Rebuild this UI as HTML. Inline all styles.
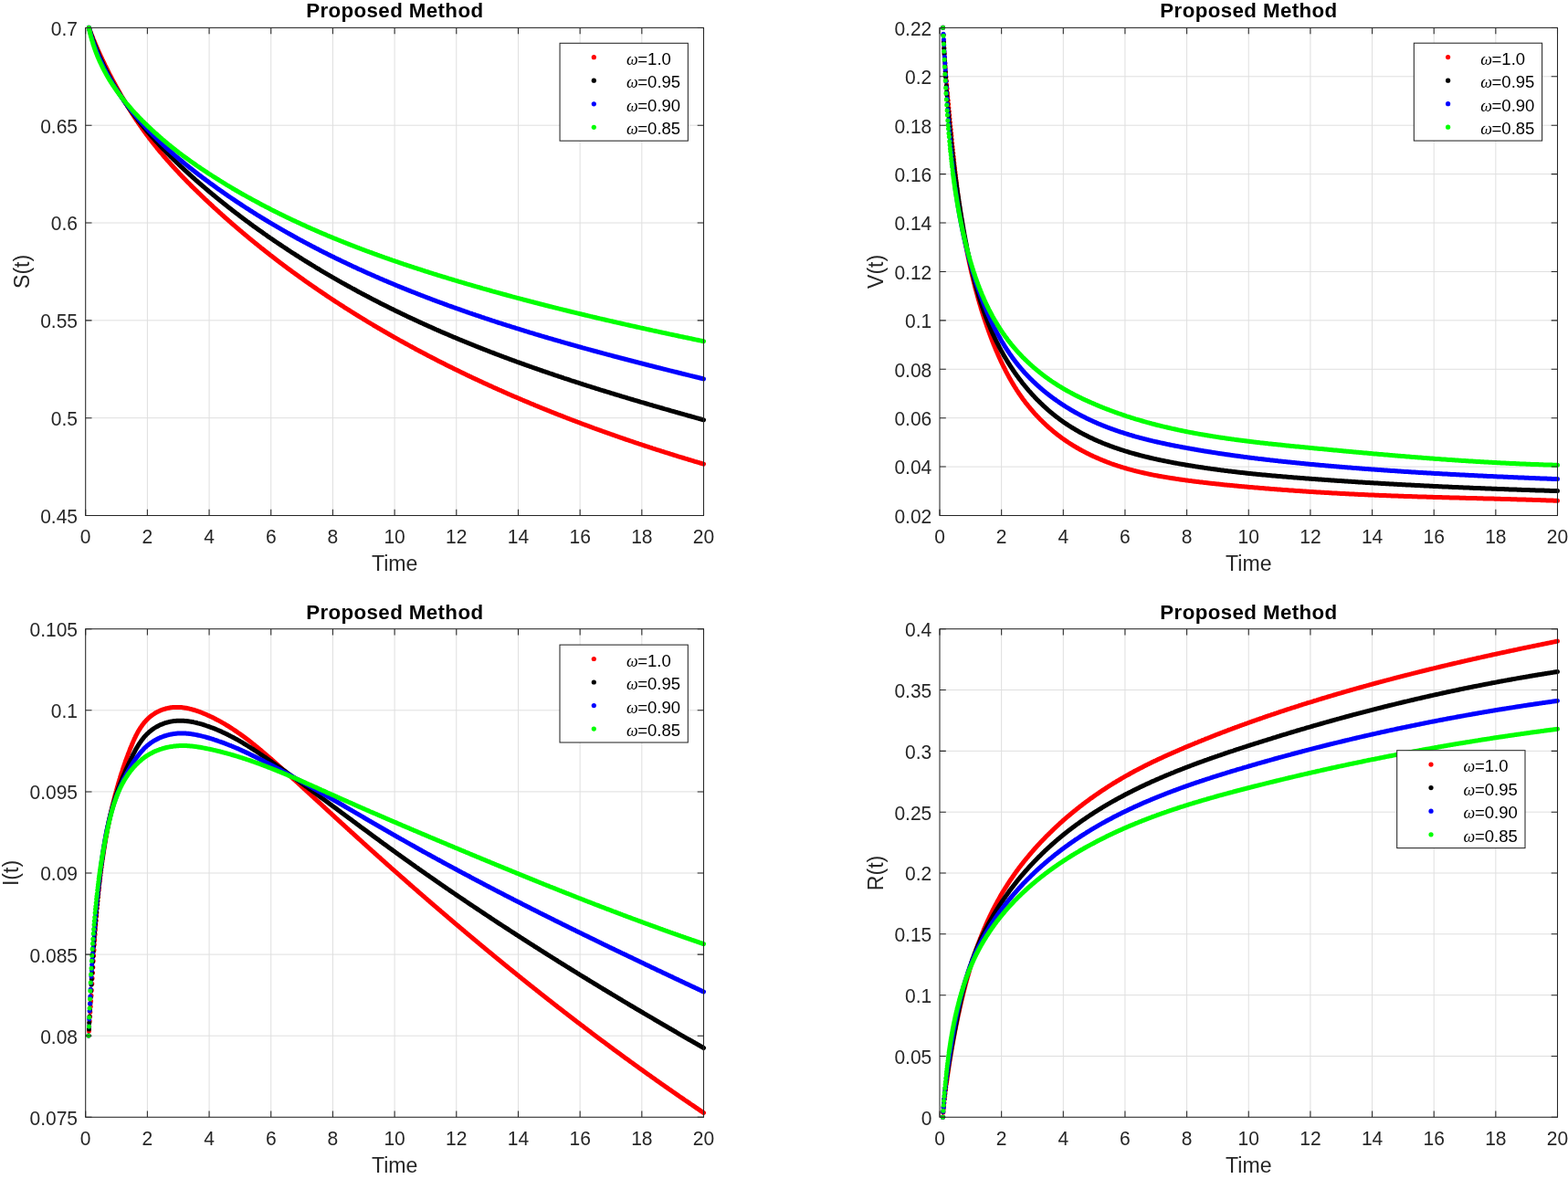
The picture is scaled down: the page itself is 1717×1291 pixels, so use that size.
<!DOCTYPE html>
<html><head><meta charset="utf-8"><title>Proposed Method</title><style>html,body{margin:0;padding:0;background:#fff;width:1717px;height:1291px}svg{display:block}</style></head><body>
<svg width="1717" height="1291" viewBox="0 0 1717 1291" font-family="'Liberation Sans', sans-serif">
<rect width="1717" height="1291" fill="#fff"/>
<path d="M161.38 30.40V564.50M229.06 30.40V564.50M296.74 30.40V564.50M364.42 30.40V564.50M432.10 30.40V564.50M499.78 30.40V564.50M567.46 30.40V564.50M635.14 30.40V564.50M702.82 30.40V564.50M93.70 457.68H770.50M93.70 350.86H770.50M93.70 244.04H770.50M93.70 137.22H770.50" stroke="#dfdfdf" stroke-width="1" fill="none"/>
<clipPath id="clipS"><rect x="89.7" y="26.4" width="684.8" height="542.1"/></clipPath>
<g clip-path="url(#clipS)" fill="none" stroke-width="5.0" stroke-linecap="round" stroke-linejoin="round">
<path d="M97.4 30.3L97.7 31.2 98.1 32.2 98.4 33.1 98.8 34.0 99.1 35.0 99.5 35.9 99.8 36.9 100.2 37.8 100.6 38.7 100.9 39.6 101.3 40.6 101.7 41.5 102.0 42.4 102.4 43.4 102.8 44.3 103.2 45.2 103.6 46.1 103.9 47.1 104.3 48.0 104.7 48.9 105.1 49.8 105.5 50.7 105.9 51.7 106.3 52.6 106.7 53.5 107.1 54.4 107.5 55.3 107.9 56.2 108.3 57.1 108.7 58.1 109.1 59.0 109.6 59.9 110.0 60.8 110.4 61.7 110.8 62.6 111.2 63.5 111.7 64.4 112.1 65.3 112.5 66.2 113.0 67.1 113.4 68.0 113.8 68.9 114.3 69.8 114.7 70.7 115.1 71.6 115.6 72.5 116.0 73.4 116.5 74.3 116.9 75.2 117.4 76.1 117.8 77.0 118.3 77.9 118.7 78.8 119.2 79.7 119.6 80.6 120.1 81.5 120.5 82.4 121.0 83.2 121.5 84.1 121.9 85.0 122.4 85.9 122.9 86.8 123.3 87.7 123.8 88.5 124.3 89.4 124.8 90.3 125.2 91.2 125.7 92.1 126.2 92.9 126.7 93.8 127.1 94.7 127.6 95.6 128.1 96.4 128.6 97.3 129.1 98.2 129.6 99.1 130.1 99.9 130.6 100.8 131.1 101.7 131.5 102.5 132.0 103.4 132.5 104.3 133.0 105.1 133.5 106.0 134.0 106.9 134.5 107.7 135.1 108.6 135.6 109.4 136.1 110.3 136.6 111.2 137.1 112.0 137.6 112.9 138.1 113.7 138.6 114.6 139.2 115.4 139.7 116.3 140.2 117.1 140.7 118.0 141.2 118.8 141.8 119.7 142.3 120.5 142.8 121.4 143.4 122.2 143.9 123.0 144.4 123.9 145.0 124.7 145.5 125.6 146.1 126.4 146.6 127.2 147.1 128.1 147.7 128.9 148.2 129.7 148.8 130.6 149.3 131.4 149.9 132.2 150.5 133.0 151.0 133.9 151.6 134.7 152.1 135.5 152.7 136.3 153.3 137.2 153.8 138.0 154.4 138.8 155.0 139.6 155.5 140.4 156.1 141.2 156.7 142.0 157.3 142.9 157.9 143.7 158.4 144.5 159.0 145.3 159.6 146.1 160.2 146.9 160.8 147.7 161.4 148.5 162.0 149.3 162.6 150.1 163.2 150.9 163.8 151.7 164.4 152.5 165.0 153.3 165.6 154.1 166.2 154.8 166.8 155.6 167.5 156.4 168.1 157.2 168.7 158.0 169.3 158.8 169.9 159.6 170.6 160.3 171.2 161.1 171.8 161.9 172.4 162.7 173.1 163.4 173.7 164.2 174.3 165.0 175.0 165.8 175.6 166.5 176.3 167.3 176.9 168.1 177.6 168.8 178.2 169.6 178.8 170.4 179.5 171.1 180.1 171.9 180.8 172.6 181.5 173.4 182.1 174.2 182.8 174.9 183.4 175.7 184.1 176.4 184.8 177.2 185.4 177.9 186.1 178.7 186.7 179.4 187.4 180.2 188.1 180.9 188.8 181.7 189.4 182.4 190.1 183.1 190.8 183.9 191.5 184.6 192.1 185.4 192.8 186.1 193.5 186.8 194.2 187.6 194.9 188.3 195.6 189.0 196.2 189.8 196.9 190.5 197.6 191.2 198.3 191.9 199.0 192.7 199.7 193.4 200.4 194.1 201.1 194.9 201.8 195.6 202.5 196.3 203.2 197.0 203.9 197.7 204.6 198.5 205.3 199.2 206.0 199.9 206.7 200.6 207.4 201.3 208.1 202.0 208.8 202.7 209.5 203.5 210.3 204.2 211.0 204.9 211.7 205.6 212.4 206.3 213.1 207.0 213.8 207.7 214.6 208.4 215.3 209.1 216.0 209.8 216.7 210.5 217.4 211.2 218.2 211.9 218.9 212.6 219.6 213.3 220.3 214.0 221.0 214.7 221.8 215.4 222.5 216.1 223.2 216.8 224.0 217.5 224.7 218.2 225.4 218.9 226.1 219.5 226.9 220.2 227.6 220.9 228.3 221.6 229.1 222.3 229.8 223.0 230.6 223.7 231.3 224.3 232.0 225.0 232.8 225.7 233.5 226.4 234.2 227.1 235.0 227.8 235.7 228.4 236.5 229.1 237.2 229.8 237.9 230.5 238.7 231.1 239.4 231.8 240.2 232.5 240.9 233.2 241.7 233.8 242.4 234.5 243.1 235.2 243.9 235.8 244.6 236.5 245.4 237.2 246.1 237.8 246.9 238.5 247.6 239.2 248.4 239.8 249.1 240.5 249.9 241.2 250.6 241.8 251.4 242.5 252.2 243.1 252.9 243.8 253.7 244.5 254.4 245.1 255.2 245.8 255.9 246.4 256.7 247.1 257.4 247.7 258.2 248.4 259.0 249.0 259.7 249.7 260.5 250.3 261.2 251.0 262.0 251.6 262.8 252.3 263.5 252.9 264.3 253.6 265.1 254.2 265.8 254.9 266.6 255.5 267.4 256.2 268.1 256.8 268.9 257.4 269.7 258.1 270.4 258.7 271.2 259.4 272.0 260.0 272.7 260.6 273.5 261.3 274.3 261.9 275.1 262.5 275.8 263.2 276.6 263.8 277.4 264.4 278.2 265.1 278.9 265.7 279.7 266.3 280.5 267.0 281.3 267.6 282.0 268.2 282.8 268.9 283.6 269.5 284.4 270.1 285.1 270.7 285.9 271.4 286.7 272.0 287.5 272.6 288.3 273.2 289.1 273.8 289.8 274.5 290.6 275.1 291.4 275.7 292.2 276.3 293.0 276.9 293.8 277.5 294.6 278.2 295.3 278.8 296.1 279.4 296.9 280.0 297.7 280.6 298.5 281.2 299.3 281.8 300.1 282.4 300.9 283.1 301.7 283.7 302.5 284.3 303.3 284.9 304.0 285.5 304.8 286.1 305.6 286.7 306.4 287.3 307.2 287.9 308.0 288.5 308.8 289.1 309.6 289.7 310.4 290.3 311.2 290.9 312.0 291.5 312.8 292.1 313.6 292.7 314.4 293.3 315.2 293.9 316.0 294.5 316.8 295.1 317.6 295.7 318.4 296.2 319.2 296.8 320.0 297.4 320.8 298.0 321.7 298.6 322.5 299.2 323.3 299.8 324.1 300.4 324.9 300.9 325.7 301.5 326.5 302.1 327.3 302.7 328.1 303.3 328.9 303.9 329.7 304.4 330.6 305.0 331.4 305.6 332.2 306.2 333.0 306.8 333.8 307.3 334.6 307.9 335.4 308.5 336.3 309.1 337.1 309.6 337.9 310.2 338.7 310.8 339.5 311.3 340.3 311.9 341.2 312.5 342.0 313.1 342.8 313.6 343.6 314.2 344.4 314.8 345.3 315.3 346.1 315.9 346.9 316.4 347.7 317.0 348.6 317.6 349.4 318.1 350.2 318.7 351.0 319.3 351.9 319.8 352.7 320.4 353.5 320.9 354.3 321.5 355.2 322.0 356.0 322.6 356.8 323.2 357.7 323.7 358.5 324.3 359.3 324.8 360.1 325.4 361.0 325.9 361.8 326.5 362.6 327.0 363.5 327.6 364.3 328.1 365.1 328.7 366.0 329.2 366.8 329.8 367.6 330.3 368.5 330.9 369.3 331.4 370.2 331.9 371.0 332.5 371.8 333.0 372.7 333.6 373.5 334.1 374.3 334.6 375.2 335.2 376.0 335.7 376.9 336.3 377.7 336.8 378.5 337.3 379.4 337.9 380.2 338.4 381.1 338.9 381.9 339.5 382.8 340.0 383.6 340.5 384.4 341.1 385.3 341.6 386.1 342.1 387.0 342.7 387.8 343.2 388.7 343.7 389.5 344.2 390.4 344.8 391.2 345.3 392.1 345.8 392.9 346.3 393.8 346.9 394.6 347.4 395.5 347.9 396.3 348.4 397.2 348.9 398.0 349.5 398.9 350.0 399.7 350.5 400.6 351.0 401.4 351.5 402.3 352.1 403.1 352.6 404.0 353.1 404.9 353.6 405.7 354.1 406.6 354.6 407.4 355.1 408.3 355.6 409.1 356.2 410.0 356.7 410.9 357.2 411.7 357.7 412.6 358.2 413.4 358.7 414.3 359.2 415.2 359.7 416.0 360.2 416.9 360.7 417.7 361.2 418.6 361.7 419.5 362.2 420.3 362.7 421.2 363.2 422.1 363.7 422.9 364.2 423.8 364.7 424.7 365.2 425.5 365.7 426.4 366.2 427.3 366.7 428.1 367.2 429.0 367.7 429.9 368.2 430.7 368.7 431.6 369.2 432.5 369.7 433.3 370.1 434.2 370.6 435.1 371.1 436.0 371.6 436.8 372.1 437.7 372.6 438.6 373.1 439.4 373.6 440.3 374.0 441.2 374.5 442.1 375.0 442.9 375.5 443.8 376.0 444.7 376.5 445.6 376.9 446.4 377.4 447.3 377.9 448.2 378.4 449.1 378.9 449.9 379.3 450.8 379.8 451.7 380.3 452.6 380.8 453.5 381.2 454.3 381.7 455.2 382.2 456.1 382.7 457.0 383.1 457.9 383.6 458.7 384.1 459.6 384.5 460.5 385.0 461.4 385.5 462.3 385.9 463.2 386.4 464.0 386.9 464.9 387.3 465.8 387.8 466.7 388.3 467.6 388.7 468.5 389.2 469.4 389.7 470.2 390.1 471.1 390.6 472.0 391.0 472.9 391.5 473.8 392.0 474.7 392.4 475.6 392.9 476.5 393.3 477.3 393.8 478.2 394.3 479.1 394.7 480.0 395.2 480.9 395.6 481.8 396.1 482.7 396.5 483.6 397.0 484.5 397.4 485.4 397.9 486.3 398.3 487.2 398.8 488.0 399.2 488.9 399.7 489.8 400.1 490.7 400.6 491.6 401.0 492.5 401.5 493.4 401.9 494.3 402.3 495.2 402.8 496.1 403.2 497.0 403.7 497.9 404.1 498.8 404.6 499.7 405.0 500.6 405.4 501.5 405.9 502.4 406.3 503.3 406.8 504.2 407.2 505.1 407.6 506.0 408.1 506.9 408.5 507.8 408.9 508.7 409.4 509.6 409.8 510.5 410.2 511.4 410.7 512.3 411.1 513.2 411.5 514.1 412.0 515.0 412.4 515.9 412.8 516.8 413.2 517.7 413.7 518.6 414.1 519.5 414.5 520.4 414.9 521.4 415.4 522.3 415.8 523.2 416.2 524.1 416.6 525.0 417.1 525.9 417.5 526.8 417.9 527.7 418.3 528.6 418.7 529.5 419.2 530.4 419.6 531.3 420.0 532.2 420.4 533.2 420.8 534.1 421.3 535.0 421.7 535.9 422.1 536.8 422.5 537.7 422.9 538.6 423.3 539.5 423.7 540.5 424.2 541.4 424.6 542.3 425.0 543.2 425.4 544.1 425.8 545.0 426.2 545.9 426.6 546.8 427.0 547.8 427.4 548.7 427.8 549.6 428.2 550.5 428.6 551.4 429.0 552.3 429.5 553.3 429.9 554.2 430.3 555.1 430.7 556.0 431.1 556.9 431.5 557.8 431.9 558.8 432.3 559.7 432.7 560.6 433.1 561.5 433.5 562.4 433.9 563.4 434.3 564.3 434.6 565.2 435.0 566.1 435.4 567.0 435.8 568.0 436.2 568.9 436.6 569.8 437.0 570.7 437.4 571.6 437.8 572.6 438.2 573.5 438.6 574.4 439.0 575.3 439.4 576.3 439.7 577.2 440.1 578.1 440.5 579.0 440.9 580.0 441.3 580.9 441.7 581.8 442.1 582.7 442.4 583.7 442.8 584.6 443.2 585.5 443.6 586.4 444.0 587.4 444.4 588.3 444.7 589.2 445.1 590.1 445.5 591.1 445.9 592.0 446.3 592.9 446.6 593.8 447.0 594.8 447.4 595.7 447.8 596.6 448.1 597.6 448.5 598.5 448.9 599.4 449.3 600.4 449.6 601.3 450.0 602.2 450.4 603.1 450.8 604.1 451.1 605.0 451.5 605.9 451.9 606.9 452.2 607.8 452.6 608.7 453.0 609.7 453.3 610.6 453.7 611.5 454.1 612.5 454.4 613.4 454.8 614.3 455.2 615.3 455.5 616.2 455.9 617.1 456.3 618.1 456.6 619.0 457.0 619.9 457.3 620.9 457.7 621.8 458.1 622.7 458.4 623.7 458.8 624.6 459.1 625.5 459.5 626.5 459.9 627.4 460.2 628.3 460.6 629.3 460.9 630.2 461.3 631.2 461.6 632.1 462.0 633.0 462.3 634.0 462.7 634.9 463.0 635.8 463.4 636.8 463.8 637.7 464.1 638.7 464.5 639.6 464.8 640.5 465.2 641.5 465.5 642.4 465.8 643.4 466.2 644.3 466.5 645.2 466.9 646.2 467.2 647.1 467.6 648.0 467.9 649.0 468.3 649.9 468.6 650.9 469.0 651.8 469.3 652.8 469.6 653.7 470.0 654.6 470.3 655.6 470.7 656.5 471.0 657.5 471.3 658.4 471.7 659.3 472.0 660.3 472.4 661.2 472.7 662.2 473.0 663.1 473.4 664.1 473.7 665.0 474.0 665.9 474.4 666.9 474.7 667.8 475.0 668.8 475.4 669.7 475.7 670.7 476.0 671.6 476.4 672.6 476.7 673.5 477.0 674.4 477.4 675.4 477.7 676.3 478.0 677.3 478.4 678.2 478.7 679.2 479.0 680.1 479.3 681.1 479.7 682.0 480.0 683.0 480.3 683.9 480.6 684.8 481.0 685.8 481.3 686.7 481.6 687.7 481.9 688.6 482.2 689.6 482.6 690.5 482.9 691.5 483.2 692.4 483.5 693.4 483.9 694.3 484.2 695.3 484.5 696.2 484.8 697.2 485.1 698.1 485.4 699.1 485.8 700.0 486.1 701.0 486.4 701.9 486.7 702.9 487.0 703.8 487.3 704.8 487.6 705.7 488.0 706.7 488.3 707.6 488.6 708.6 488.9 709.5 489.2 710.5 489.5 711.4 489.8 712.4 490.1 713.3 490.4 714.3 490.8 715.2 491.1 716.2 491.4 717.1 491.7 718.1 492.0 719.0 492.3 720.0 492.6 720.9 492.9 721.9 493.2 722.8 493.5 723.8 493.8 724.7 494.1 725.7 494.4 726.6 494.7 727.6 495.0 728.5 495.3 729.5 495.6 730.4 495.9 731.4 496.2 732.3 496.5 733.3 496.8 734.2 497.1 735.2 497.4 736.1 497.7 737.1 498.0 738.1 498.3 739.0 498.6 740.0 498.9 740.9 499.2 741.9 499.5 742.8 499.8 743.8 500.1 744.7 500.4 745.7 500.7 746.6 501.0 747.6 501.2 748.5 501.5 749.5 501.8 750.4 502.1 751.4 502.4 752.4 502.7 753.3 503.0 754.3 503.3 755.2 503.6 756.2 503.8 757.1 504.1 758.1 504.4 759.0 504.7 760.0 505.0 760.9 505.3 761.9 505.6 762.9 505.8 763.8 506.1 764.8 506.4 765.7 506.7 766.7 507.0 767.6 507.3 768.6 507.5 769.5 507.8 770.5 508.1" stroke="#ff0000"/>
<path d="M97.4 30.3L97.7 31.3 98.0 32.2 98.3 33.2 98.6 34.1 98.9 35.1 99.2 36.0 99.5 37.0 99.8 38.0 100.2 38.9 100.5 39.9 100.8 40.8 101.1 41.8 101.5 42.7 101.8 43.6 102.2 44.6 102.5 45.5 102.8 46.5 103.2 47.4 103.5 48.4 103.9 49.3 104.3 50.2 104.6 51.2 105.0 52.1 105.4 53.0 105.7 54.0 106.1 54.9 106.5 55.8 106.9 56.7 107.3 57.7 107.6 58.6 108.0 59.5 108.4 60.4 108.8 61.4 109.2 62.3 109.6 63.2 110.0 64.1 110.5 65.0 110.9 65.9 111.3 66.8 111.7 67.8 112.1 68.7 112.6 69.6 113.0 70.5 113.4 71.4 113.8 72.3 114.3 73.2 114.7 74.1 115.2 75.0 115.6 75.9 116.1 76.8 116.5 77.6 117.0 78.5 117.4 79.4 117.9 80.3 118.4 81.2 118.8 82.1 119.3 83.0 119.8 83.8 120.2 84.7 120.7 85.6 121.2 86.5 121.7 87.3 122.2 88.2 122.6 89.1 123.1 89.9 123.6 90.8 124.1 91.7 124.6 92.5 125.1 93.4 125.6 94.3 126.1 95.1 126.7 96.0 127.2 96.8 127.7 97.7 128.2 98.5 128.7 99.4 129.2 100.2 129.8 101.1 130.3 101.9 130.8 102.7 131.4 103.6 131.9 104.4 132.4 105.3 133.0 106.1 133.5 106.9 134.1 107.7 134.6 108.6 135.2 109.4 135.7 110.2 136.3 111.1 136.8 111.9 137.4 112.7 137.9 113.5 138.5 114.3 139.1 115.1 139.6 116.0 140.2 116.8 140.8 117.6 141.4 118.4 141.9 119.2 142.5 120.0 143.1 120.8 143.7 121.6 144.3 122.4 144.9 123.2 145.5 124.0 146.1 124.8 146.7 125.6 147.3 126.4 147.9 127.2 148.5 128.0 149.1 128.7 149.7 129.5 150.3 130.3 150.9 131.1 151.5 131.9 152.1 132.7 152.7 133.4 153.4 134.2 154.0 135.0 154.6 135.8 155.2 136.5 155.9 137.3 156.5 138.1 157.1 138.8 157.8 139.6 158.4 140.4 159.0 141.1 159.7 141.9 160.3 142.7 161.0 143.4 161.6 144.2 162.3 144.9 162.9 145.7 163.6 146.4 164.2 147.2 164.9 147.9 165.5 148.7 166.2 149.4 166.8 150.2 167.5 150.9 168.2 151.7 168.8 152.4 169.5 153.2 170.2 153.9 170.8 154.6 171.5 155.4 172.2 156.1 172.9 156.8 173.5 157.6 174.2 158.3 174.9 159.0 175.6 159.8 176.3 160.5 176.9 161.2 177.6 161.9 178.3 162.7 179.0 163.4 179.7 164.1 180.4 164.8 181.1 165.5 181.8 166.2 182.5 167.0 183.2 167.7 183.9 168.4 184.6 169.1 185.3 169.8 186.0 170.5 186.7 171.2 187.4 171.9 188.1 172.6 188.8 173.3 189.5 174.0 190.3 174.7 191.0 175.4 191.7 176.1 192.4 176.8 193.1 177.5 193.8 178.2 194.6 178.9 195.3 179.6 196.0 180.3 196.7 181.0 197.5 181.7 198.2 182.4 198.9 183.1 199.7 183.7 200.4 184.4 201.1 185.1 201.9 185.8 202.6 186.5 203.3 187.2 204.1 187.8 204.8 188.5 205.5 189.2 206.3 189.9 207.0 190.5 207.8 191.2 208.5 191.9 209.3 192.5 210.0 193.2 210.7 193.9 211.5 194.6 212.2 195.2 213.0 195.9 213.7 196.6 214.5 197.2 215.2 197.9 216.0 198.5 216.8 199.2 217.5 199.9 218.3 200.5 219.0 201.2 219.8 201.8 220.5 202.5 221.3 203.1 222.1 203.8 222.8 204.4 223.6 205.1 224.3 205.7 225.1 206.4 225.9 207.0 226.6 207.7 227.4 208.3 228.2 209.0 228.9 209.6 229.7 210.3 230.5 210.9 231.3 211.6 232.0 212.2 232.8 212.8 233.6 213.5 234.3 214.1 235.1 214.7 235.9 215.4 236.7 216.0 237.4 216.7 238.2 217.3 239.0 217.9 239.8 218.5 240.5 219.2 241.3 219.8 242.1 220.4 242.9 221.1 243.7 221.7 244.4 222.3 245.2 222.9 246.0 223.6 246.8 224.2 247.6 224.8 248.4 225.4 249.1 226.1 249.9 226.7 250.7 227.3 251.5 227.9 252.3 228.5 253.1 229.1 253.9 229.8 254.7 230.4 255.4 231.0 256.2 231.6 257.0 232.2 257.8 232.8 258.6 233.4 259.4 234.0 260.2 234.6 261.0 235.2 261.8 235.8 262.6 236.5 263.4 237.1 264.2 237.7 265.0 238.3 265.8 238.9 266.6 239.5 267.4 240.1 268.2 240.7 269.0 241.3 269.8 241.9 270.6 242.5 271.4 243.0 272.2 243.6 273.0 244.2 273.8 244.8 274.6 245.4 275.4 246.0 276.2 246.6 277.0 247.2 277.8 247.8 278.7 248.4 279.5 248.9 280.3 249.5 281.1 250.1 281.9 250.7 282.7 251.3 283.5 251.9 284.3 252.4 285.2 253.0 286.0 253.6 286.8 254.2 287.6 254.7 288.4 255.3 289.2 255.9 290.1 256.5 290.9 257.0 291.7 257.6 292.5 258.2 293.3 258.8 294.1 259.3 295.0 259.9 295.8 260.5 296.6 261.0 297.4 261.6 298.3 262.2 299.1 262.7 299.9 263.3 300.7 263.9 301.6 264.4 302.4 265.0 303.2 265.5 304.0 266.1 304.9 266.7 305.7 267.2 306.5 267.8 307.4 268.3 308.2 268.9 309.0 269.4 309.9 270.0 310.7 270.5 311.5 271.1 312.4 271.6 313.2 272.2 314.0 272.7 314.9 273.3 315.7 273.8 316.5 274.4 317.4 274.9 318.2 275.5 319.0 276.0 319.9 276.6 320.7 277.1 321.6 277.6 322.4 278.2 323.2 278.7 324.1 279.3 324.9 279.8 325.8 280.3 326.6 280.9 327.4 281.4 328.3 281.9 329.1 282.5 330.0 283.0 330.8 283.5 331.7 284.1 332.5 284.6 333.4 285.1 334.2 285.7 335.1 286.2 335.9 286.7 336.8 287.2 337.6 287.8 338.5 288.3 339.3 288.8 340.2 289.3 341.0 289.9 341.9 290.4 342.7 290.9 343.6 291.4 344.4 291.9 345.3 292.5 346.1 293.0 347.0 293.5 347.8 294.0 348.7 294.5 349.6 295.0 350.4 295.5 351.3 296.1 352.1 296.6 353.0 297.1 353.8 297.6 354.7 298.1 355.6 298.6 356.4 299.1 357.3 299.6 358.1 300.1 359.0 300.6 359.9 301.1 360.7 301.6 361.6 302.1 362.5 302.6 363.3 303.1 364.2 303.6 365.1 304.1 365.9 304.6 366.8 305.1 367.7 305.6 368.5 306.1 369.4 306.6 370.3 307.1 371.1 307.6 372.0 308.1 372.9 308.6 373.7 309.1 374.6 309.6 375.5 310.1 376.4 310.5 377.2 311.0 378.1 311.5 379.0 312.0 379.8 312.5 380.7 313.0 381.6 313.5 382.5 313.9 383.3 314.4 384.2 314.9 385.1 315.4 386.0 315.9 386.8 316.3 387.7 316.8 388.6 317.3 389.5 317.8 390.4 318.3 391.2 318.7 392.1 319.2 393.0 319.7 393.9 320.1 394.8 320.6 395.6 321.1 396.5 321.6 397.4 322.0 398.3 322.5 399.2 323.0 400.1 323.4 400.9 323.9 401.8 324.4 402.7 324.8 403.6 325.3 404.5 325.8 405.4 326.2 406.2 326.7 407.1 327.1 408.0 327.6 408.9 328.1 409.8 328.5 410.7 329.0 411.6 329.4 412.5 329.9 413.4 330.3 414.2 330.8 415.1 331.2 416.0 331.7 416.9 332.2 417.8 332.6 418.7 333.1 419.6 333.5 420.5 334.0 421.4 334.4 422.3 334.9 423.2 335.3 424.1 335.7 425.0 336.2 425.8 336.6 426.7 337.1 427.6 337.5 428.5 338.0 429.4 338.4 430.3 338.8 431.2 339.3 432.1 339.7 433.0 340.2 433.9 340.6 434.8 341.0 435.7 341.5 436.6 341.9 437.5 342.3 438.4 342.8 439.3 343.2 440.2 343.6 441.1 344.1 442.0 344.5 442.9 344.9 443.8 345.4 444.7 345.8 445.6 346.2 446.5 346.7 447.4 347.1 448.3 347.5 449.2 347.9 450.2 348.4 451.1 348.8 452.0 349.2 452.9 349.6 453.8 350.0 454.7 350.5 455.6 350.9 456.5 351.3 457.4 351.7 458.3 352.1 459.2 352.6 460.1 353.0 461.0 353.4 461.9 353.8 462.9 354.2 463.8 354.6 464.7 355.1 465.6 355.5 466.5 355.9 467.4 356.3 468.3 356.7 469.2 357.1 470.1 357.5 471.1 357.9 472.0 358.3 472.9 358.7 473.8 359.1 474.7 359.5 475.6 360.0 476.5 360.4 477.4 360.8 478.4 361.2 479.3 361.6 480.2 362.0 481.1 362.4 482.0 362.8 482.9 363.2 483.9 363.6 484.8 364.0 485.7 364.4 486.6 364.7 487.5 365.1 488.4 365.5 489.4 365.9 490.3 366.3 491.2 366.7 492.1 367.1 493.0 367.5 494.0 367.9 494.9 368.3 495.8 368.7 496.7 369.1 497.6 369.4 498.6 369.8 499.5 370.2 500.4 370.6 501.3 371.0 502.2 371.4 503.2 371.8 504.1 372.1 505.0 372.5 505.9 372.9 506.9 373.3 507.8 373.7 508.7 374.0 509.6 374.4 510.6 374.8 511.5 375.2 512.4 375.5 513.3 375.9 514.3 376.3 515.2 376.7 516.1 377.0 517.0 377.4 518.0 377.8 518.9 378.2 519.8 378.5 520.7 378.9 521.7 379.3 522.6 379.6 523.5 380.0 524.4 380.4 525.4 380.7 526.3 381.1 527.2 381.5 528.2 381.8 529.1 382.2 530.0 382.6 530.9 382.9 531.9 383.3 532.8 383.7 533.7 384.0 534.7 384.4 535.6 384.7 536.5 385.1 537.5 385.5 538.4 385.8 539.3 386.2 540.3 386.5 541.2 386.9 542.1 387.3 543.1 387.6 544.0 388.0 544.9 388.3 545.9 388.7 546.8 389.0 547.7 389.4 548.7 389.7 549.6 390.1 550.5 390.4 551.5 390.8 552.4 391.1 553.3 391.5 554.3 391.8 555.2 392.2 556.1 392.5 557.1 392.9 558.0 393.2 558.9 393.6 559.9 393.9 560.8 394.3 561.8 394.6 562.7 394.9 563.6 395.3 564.6 395.6 565.5 396.0 566.4 396.3 567.4 396.6 568.3 397.0 569.3 397.3 570.2 397.7 571.1 398.0 572.1 398.3 573.0 398.7 574.0 399.0 574.9 399.4 575.8 399.7 576.8 400.0 577.7 400.4 578.7 400.7 579.6 401.0 580.5 401.4 581.5 401.7 582.4 402.0 583.4 402.4 584.3 402.7 585.3 403.0 586.2 403.3 587.1 403.7 588.1 404.0 589.0 404.3 590.0 404.7 590.9 405.0 591.9 405.3 592.8 405.6 593.7 406.0 594.7 406.3 595.6 406.6 596.6 406.9 597.5 407.3 598.5 407.6 599.4 407.9 600.3 408.2 601.3 408.6 602.2 408.9 603.2 409.2 604.1 409.5 605.1 409.8 606.0 410.2 607.0 410.5 607.9 410.8 608.9 411.1 609.8 411.4 610.8 411.7 611.7 412.1 612.6 412.4 613.6 412.7 614.5 413.0 615.5 413.3 616.4 413.6 617.4 414.0 618.3 414.3 619.3 414.6 620.2 414.9 621.2 415.2 622.1 415.5 623.1 415.8 624.0 416.1 625.0 416.5 625.9 416.8 626.9 417.1 627.8 417.4 628.8 417.7 629.7 418.0 630.7 418.3 631.6 418.6 632.6 418.9 633.5 419.2 634.5 419.5 635.4 419.8 636.4 420.1 637.3 420.5 638.3 420.8 639.2 421.1 640.2 421.4 641.1 421.7 642.1 422.0 643.0 422.3 644.0 422.6 644.9 422.9 645.9 423.2 646.8 423.5 647.8 423.8 648.8 424.1 649.7 424.4 650.7 424.7 651.6 425.0 652.6 425.3 653.5 425.6 654.5 425.9 655.4 426.2 656.4 426.5 657.3 426.8 658.3 427.1 659.2 427.4 660.2 427.7 661.1 428.0 662.1 428.3 663.1 428.5 664.0 428.8 665.0 429.1 665.9 429.4 666.9 429.7 667.8 430.0 668.8 430.3 669.7 430.6 670.7 430.9 671.7 431.2 672.6 431.5 673.6 431.8 674.5 432.1 675.5 432.3 676.4 432.6 677.4 432.9 678.3 433.2 679.3 433.5 680.3 433.8 681.2 434.1 682.2 434.4 683.1 434.7 684.1 434.9 685.0 435.2 686.0 435.5 687.0 435.8 687.9 436.1 688.9 436.4 689.8 436.7 690.8 437.0 691.7 437.2 692.7 437.5 693.7 437.8 694.6 438.1 695.6 438.4 696.5 438.7 697.5 438.9 698.4 439.2 699.4 439.5 700.4 439.8 701.3 440.1 702.3 440.4 703.2 440.6 704.2 440.9 705.2 441.2 706.1 441.5 707.1 441.8 708.0 442.0 709.0 442.3 710.0 442.6 710.9 442.9 711.9 443.2 712.8 443.4 713.8 443.7 714.8 444.0 715.7 444.3 716.7 444.6 717.6 444.8 718.6 445.1 719.6 445.4 720.5 445.7 721.5 445.9 722.4 446.2 723.4 446.5 724.4 446.8 725.3 447.0 726.3 447.3 727.2 447.6 728.2 447.9 729.2 448.1 730.1 448.4 731.1 448.7 732.0 449.0 733.0 449.2 734.0 449.5 734.9 449.8 735.9 450.1 736.8 450.3 737.8 450.6 738.8 450.9 739.7 451.2 740.7 451.4 741.6 451.7 742.6 452.0 743.6 452.2 744.5 452.5 745.5 452.8 746.5 453.1 747.4 453.3 748.4 453.6 749.3 453.9 750.3 454.1 751.3 454.4 752.2 454.7 753.2 455.0 754.1 455.2 755.1 455.5 756.1 455.8 757.0 456.0 758.0 456.3 759.0 456.6 759.9 456.8 760.9 457.1 761.8 457.4 762.8 457.7 763.8 457.9 764.7 458.2 765.7 458.5 766.7 458.7 767.6 459.0 768.6 459.3 769.5 459.5 770.5 459.8" stroke="#000000"/>
<path d="M97.4 30.3L97.6 31.3 97.9 32.2 98.2 33.2 98.4 34.2 98.7 35.2 99.0 36.1 99.2 37.1 99.5 38.1 99.8 39.0 100.1 40.0 100.4 40.9 100.7 41.9 101.0 42.8 101.3 43.8 101.6 44.7 101.9 45.7 102.3 46.6 102.6 47.6 102.9 48.5 103.3 49.5 103.6 50.4 103.9 51.3 104.3 52.3 104.6 53.2 105.0 54.2 105.4 55.1 105.7 56.0 106.1 56.9 106.5 57.9 106.8 58.8 107.2 59.7 107.6 60.6 108.0 61.5 108.4 62.5 108.8 63.4 109.2 64.3 109.6 65.2 110.0 66.1 110.4 67.0 110.8 67.9 111.3 68.8 111.7 69.7 112.1 70.6 112.5 71.5 113.0 72.4 113.4 73.3 113.9 74.2 114.3 75.1 114.8 76.0 115.2 76.9 115.7 77.8 116.1 78.6 116.6 79.5 117.1 80.4 117.5 81.3 118.0 82.2 118.5 83.0 119.0 83.9 119.5 84.8 120.0 85.6 120.5 86.5 121.0 87.4 121.5 88.2 122.0 89.1 122.5 89.9 123.0 90.8 123.5 91.7 124.0 92.5 124.5 93.4 125.0 94.2 125.6 95.0 126.1 95.9 126.6 96.7 127.2 97.6 127.7 98.4 128.2 99.2 128.8 100.1 129.3 100.9 129.9 101.7 130.4 102.6 131.0 103.4 131.6 104.2 132.1 105.0 132.7 105.9 133.3 106.7 133.8 107.5 134.4 108.3 135.0 109.1 135.6 109.9 136.1 110.8 136.7 111.6 137.3 112.4 137.9 113.2 138.5 114.0 139.1 114.8 139.7 115.6 140.3 116.4 140.9 117.2 141.5 117.9 142.1 118.7 142.7 119.5 143.3 120.3 144.0 121.1 144.6 121.9 145.2 122.7 145.8 123.4 146.5 124.2 147.1 125.0 147.7 125.8 148.4 126.5 149.0 127.3 149.7 128.1 150.3 128.8 150.9 129.6 151.6 130.3 152.2 131.1 152.9 131.9 153.6 132.6 154.2 133.4 154.9 134.1 155.5 134.9 156.2 135.6 156.9 136.4 157.5 137.1 158.2 137.8 158.9 138.6 159.6 139.3 160.2 140.0 160.9 140.8 161.6 141.5 162.3 142.2 163.0 143.0 163.7 143.7 164.4 144.4 165.1 145.1 165.8 145.9 166.4 146.6 167.1 147.3 167.9 148.0 168.6 148.7 169.3 149.4 170.0 150.1 170.7 150.8 171.4 151.5 172.1 152.2 172.8 152.9 173.5 153.6 174.3 154.3 175.0 155.0 175.7 155.7 176.4 156.4 177.2 157.1 177.9 157.8 178.6 158.5 179.4 159.2 180.1 159.8 180.8 160.5 181.6 161.2 182.3 161.9 183.0 162.6 183.8 163.2 184.5 163.9 185.3 164.6 186.0 165.2 186.8 165.9 187.5 166.6 188.3 167.2 189.0 167.9 189.8 168.6 190.5 169.2 191.3 169.9 192.1 170.5 192.8 171.2 193.6 171.8 194.3 172.5 195.1 173.1 195.9 173.8 196.6 174.4 197.4 175.1 198.2 175.7 199.0 176.4 199.7 177.0 200.5 177.7 201.3 178.3 202.1 178.9 202.8 179.6 203.6 180.2 204.4 180.8 205.2 181.5 206.0 182.1 206.7 182.7 207.5 183.3 208.3 184.0 209.1 184.6 209.9 185.2 210.7 185.8 211.5 186.5 212.3 187.1 213.1 187.7 213.8 188.3 214.6 188.9 215.4 189.5 216.2 190.2 217.0 190.8 217.8 191.4 218.6 192.0 219.4 192.6 220.2 193.2 221.0 193.8 221.8 194.4 222.6 195.0 223.4 195.6 224.2 196.2 225.1 196.8 225.9 197.4 226.7 198.0 227.5 198.6 228.3 199.2 229.1 199.8 229.9 200.4 230.7 201.0 231.5 201.6 232.3 202.2 233.1 202.7 234.0 203.3 234.8 203.9 235.6 204.5 236.4 205.1 237.2 205.7 238.0 206.3 238.8 206.8 239.7 207.4 240.5 208.0 241.3 208.6 242.1 209.1 242.9 209.7 243.8 210.3 244.6 210.9 245.4 211.4 246.2 212.0 247.0 212.6 247.9 213.2 248.7 213.7 249.5 214.3 250.3 214.9 251.2 215.4 252.0 216.0 252.8 216.5 253.6 217.1 254.5 217.7 255.3 218.2 256.1 218.8 257.0 219.3 257.8 219.9 258.6 220.5 259.5 221.0 260.3 221.6 261.1 222.1 262.0 222.7 262.8 223.2 263.6 223.8 264.5 224.3 265.3 224.9 266.1 225.4 267.0 225.9 267.8 226.5 268.6 227.0 269.5 227.6 270.3 228.1 271.2 228.7 272.0 229.2 272.8 229.7 273.7 230.3 274.5 230.8 275.4 231.3 276.2 231.9 277.0 232.4 277.9 232.9 278.7 233.5 279.6 234.0 280.4 234.5 281.3 235.1 282.1 235.6 283.0 236.1 283.8 236.6 284.7 237.2 285.5 237.7 286.4 238.2 287.2 238.7 288.1 239.2 288.9 239.8 289.8 240.3 290.6 240.8 291.5 241.3 292.3 241.8 293.2 242.3 294.0 242.9 294.9 243.4 295.7 243.9 296.6 244.4 297.5 244.9 298.3 245.4 299.2 245.9 300.0 246.4 300.9 246.9 301.8 247.4 302.6 247.9 303.5 248.4 304.3 248.9 305.2 249.4 306.1 249.9 306.9 250.4 307.8 250.9 308.6 251.4 309.5 251.9 310.4 252.4 311.2 252.9 312.1 253.4 313.0 253.9 313.8 254.4 314.7 254.9 315.6 255.4 316.4 255.9 317.3 256.3 318.2 256.8 319.0 257.3 319.9 257.8 320.8 258.3 321.7 258.8 322.5 259.2 323.4 259.7 324.3 260.2 325.1 260.7 326.0 261.2 326.9 261.6 327.8 262.1 328.6 262.6 329.5 263.1 330.4 263.5 331.3 264.0 332.1 264.5 333.0 265.0 333.9 265.4 334.8 265.9 335.7 266.4 336.5 266.8 337.4 267.3 338.3 267.8 339.2 268.2 340.1 268.7 340.9 269.2 341.8 269.6 342.7 270.1 343.6 270.5 344.5 271.0 345.4 271.5 346.2 271.9 347.1 272.4 348.0 272.8 348.9 273.3 349.8 273.7 350.7 274.2 351.6 274.7 352.4 275.1 353.3 275.6 354.2 276.0 355.1 276.5 356.0 276.9 356.9 277.3 357.8 277.8 358.7 278.2 359.6 278.7 360.5 279.1 361.3 279.6 362.2 280.0 363.1 280.5 364.0 280.9 364.9 281.3 365.8 281.8 366.7 282.2 367.6 282.7 368.5 283.1 369.4 283.5 370.3 284.0 371.2 284.4 372.1 284.8 373.0 285.3 373.9 285.7 374.8 286.1 375.7 286.6 376.6 287.0 377.5 287.4 378.4 287.8 379.3 288.3 380.2 288.7 381.1 289.1 382.0 289.5 382.9 290.0 383.8 290.4 384.7 290.8 385.6 291.2 386.5 291.7 387.4 292.1 388.3 292.5 389.2 292.9 390.1 293.3 391.0 293.7 391.9 294.2 392.8 294.6 393.7 295.0 394.7 295.4 395.6 295.8 396.5 296.2 397.4 296.6 398.3 297.0 399.2 297.5 400.1 297.9 401.0 298.3 401.9 298.7 402.8 299.1 403.7 299.5 404.7 299.9 405.6 300.3 406.5 300.7 407.4 301.1 408.3 301.5 409.2 301.9 410.1 302.3 411.0 302.7 412.0 303.1 412.9 303.5 413.8 303.9 414.7 304.3 415.6 304.7 416.5 305.1 417.5 305.5 418.4 305.9 419.3 306.3 420.2 306.7 421.1 307.1 422.0 307.4 423.0 307.8 423.9 308.2 424.8 308.6 425.7 309.0 426.6 309.4 427.6 309.8 428.5 310.2 429.4 310.5 430.3 310.9 431.3 311.3 432.2 311.7 433.1 312.1 434.0 312.5 434.9 312.8 435.9 313.2 436.8 313.6 437.7 314.0 438.6 314.4 439.6 314.7 440.5 315.1 441.4 315.5 442.3 315.9 443.3 316.2 444.2 316.6 445.1 317.0 446.0 317.4 447.0 317.7 447.9 318.1 448.8 318.5 449.8 318.8 450.7 319.2 451.6 319.6 452.5 319.9 453.5 320.3 454.4 320.7 455.3 321.0 456.3 321.4 457.2 321.8 458.1 322.1 459.1 322.5 460.0 322.9 460.9 323.2 461.9 323.6 462.8 323.9 463.7 324.3 464.7 324.7 465.6 325.0 466.5 325.4 467.5 325.7 468.4 326.1 469.3 326.4 470.3 326.8 471.2 327.2 472.1 327.5 473.1 327.9 474.0 328.2 474.9 328.6 475.9 328.9 476.8 329.3 477.8 329.6 478.7 330.0 479.6 330.3 480.6 330.7 481.5 331.0 482.4 331.4 483.4 331.7 484.3 332.0 485.3 332.4 486.2 332.7 487.1 333.1 488.1 333.4 489.0 333.8 490.0 334.1 490.9 334.5 491.8 334.8 492.8 335.1 493.7 335.5 494.7 335.8 495.6 336.1 496.6 336.5 497.5 336.8 498.4 337.2 499.4 337.5 500.3 337.8 501.3 338.2 502.2 338.5 503.2 338.8 504.1 339.2 505.1 339.5 506.0 339.8 506.9 340.2 507.9 340.5 508.8 340.8 509.8 341.2 510.7 341.5 511.7 341.8 512.6 342.1 513.6 342.5 514.5 342.8 515.5 343.1 516.4 343.4 517.4 343.8 518.3 344.1 519.3 344.4 520.2 344.7 521.2 345.1 522.1 345.4 523.1 345.7 524.0 346.0 525.0 346.3 525.9 346.7 526.9 347.0 527.8 347.3 528.8 347.6 529.7 347.9 530.7 348.3 531.6 348.6 532.6 348.9 533.5 349.2 534.5 349.5 535.4 349.8 536.4 350.2 537.3 350.5 538.3 350.8 539.2 351.1 540.2 351.4 541.1 351.7 542.1 352.0 543.0 352.3 544.0 352.6 544.9 353.0 545.9 353.3 546.8 353.6 547.8 353.9 548.8 354.2 549.7 354.5 550.7 354.8 551.6 355.1 552.6 355.4 553.5 355.7 554.5 356.0 555.4 356.3 556.4 356.6 557.4 356.9 558.3 357.2 559.3 357.5 560.2 357.8 561.2 358.1 562.1 358.4 563.1 358.7 564.1 359.0 565.0 359.3 566.0 359.6 566.9 359.9 567.9 360.2 568.8 360.5 569.8 360.8 570.8 361.1 571.7 361.4 572.7 361.7 573.6 362.0 574.6 362.3 575.6 362.6 576.5 362.9 577.5 363.2 578.4 363.5 579.4 363.8 580.3 364.1 581.3 364.4 582.3 364.6 583.2 364.9 584.2 365.2 585.2 365.5 586.1 365.8 587.1 366.1 588.0 366.4 589.0 366.7 590.0 367.0 590.9 367.2 591.9 367.5 592.8 367.8 593.8 368.1 594.8 368.4 595.7 368.7 596.7 369.0 597.6 369.2 598.6 369.5 599.6 369.8 600.5 370.1 601.5 370.4 602.5 370.7 603.4 370.9 604.4 371.2 605.3 371.5 606.3 371.8 607.3 372.1 608.2 372.3 609.2 372.6 610.2 372.9 611.1 373.2 612.1 373.4 613.1 373.7 614.0 374.0 615.0 374.3 615.9 374.6 616.9 374.8 617.9 375.1 618.8 375.4 619.8 375.7 620.8 375.9 621.7 376.2 622.7 376.5 623.7 376.8 624.6 377.0 625.6 377.3 626.6 377.6 627.5 377.8 628.5 378.1 629.5 378.4 630.4 378.7 631.4 378.9 632.3 379.2 633.3 379.5 634.3 379.7 635.2 380.0 636.2 380.3 637.2 380.5 638.1 380.8 639.1 381.1 640.1 381.3 641.0 381.6 642.0 381.9 643.0 382.1 643.9 382.4 644.9 382.7 645.9 382.9 646.8 383.2 647.8 383.5 648.8 383.7 649.7 384.0 650.7 384.3 651.7 384.5 652.6 384.8 653.6 385.0 654.6 385.3 655.5 385.6 656.5 385.8 657.5 386.1 658.4 386.3 659.4 386.6 660.4 386.9 661.3 387.1 662.3 387.4 663.3 387.6 664.2 387.9 665.2 388.2 666.2 388.4 667.1 388.7 668.1 388.9 669.1 389.2 670.0 389.5 671.0 389.7 672.0 390.0 672.9 390.2 673.9 390.5 674.9 390.7 675.8 391.0 676.8 391.2 677.8 391.5 678.7 391.8 679.7 392.0 680.7 392.3 681.6 392.5 682.6 392.8 683.6 393.0 684.6 393.3 685.5 393.5 686.5 393.8 687.5 394.0 688.4 394.3 689.4 394.5 690.4 394.8 691.3 395.0 692.3 395.3 693.3 395.5 694.2 395.8 695.2 396.0 696.2 396.3 697.1 396.5 698.1 396.8 699.1 397.0 700.0 397.3 701.0 397.5 702.0 397.8 702.9 398.0 703.9 398.3 704.9 398.5 705.8 398.8 706.8 399.0 707.8 399.3 708.7 399.5 709.7 399.8 710.7 400.0 711.6 400.3 712.6 400.5 713.6 400.7 714.5 401.0 715.5 401.2 716.5 401.5 717.4 401.7 718.4 402.0 719.4 402.2 720.3 402.5 721.3 402.7 722.3 402.9 723.2 403.2 724.2 403.4 725.2 403.7 726.1 403.9 727.1 404.2 728.1 404.4 729.0 404.6 730.0 404.9 731.0 405.1 731.9 405.4 732.9 405.6 733.9 405.9 734.8 406.1 735.8 406.3 736.8 406.6 737.7 406.8 738.7 407.1 739.7 407.3 740.6 407.5 741.6 407.8 742.5 408.0 743.5 408.3 744.5 408.5 745.4 408.7 746.4 409.0 747.4 409.2 748.3 409.5 749.3 409.7 750.3 409.9 751.2 410.2 752.2 410.4 753.2 410.6 754.1 410.9 755.1 411.1 756.1 411.4 757.0 411.6 758.0 411.8 758.9 412.1 759.9 412.3 760.9 412.5 761.8 412.8 762.8 413.0 763.8 413.2 764.7 413.5 765.7 413.7 766.6 414.0 767.6 414.2 768.6 414.4 769.5 414.7 770.5 414.9" stroke="#0000ff"/>
<path d="M97.4 30.3L97.6 31.3 97.8 32.3 98.0 33.3 98.2 34.2 98.4 35.2 98.7 36.2 98.9 37.2 99.1 38.2 99.4 39.1 99.6 40.1 99.9 41.1 100.2 42.0 100.4 43.0 100.7 44.0 101.0 44.9 101.3 45.9 101.6 46.8 101.8 47.8 102.1 48.8 102.5 49.7 102.8 50.7 103.1 51.6 103.4 52.6 103.7 53.5 104.1 54.4 104.4 55.4 104.8 56.3 105.1 57.3 105.5 58.2 105.8 59.1 106.2 60.0 106.6 61.0 106.9 61.9 107.3 62.8 107.7 63.7 108.1 64.6 108.5 65.6 108.9 66.5 109.3 67.4 109.7 68.3 110.2 69.2 110.6 70.1 111.0 71.0 111.4 71.9 111.9 72.8 112.3 73.7 112.8 74.6 113.2 75.5 113.7 76.3 114.1 77.2 114.6 78.1 115.1 79.0 115.6 79.9 116.0 80.7 116.5 81.6 117.0 82.5 117.5 83.3 118.0 84.2 118.5 85.1 119.0 85.9 119.5 86.8 120.0 87.6 120.6 88.5 121.1 89.3 121.6 90.2 122.2 91.0 122.7 91.8 123.2 92.7 123.8 93.5 124.3 94.3 124.9 95.1 125.4 96.0 126.0 96.8 126.6 97.6 127.1 98.4 127.7 99.2 128.3 100.0 128.9 100.9 129.5 101.7 130.1 102.5 130.6 103.3 131.2 104.1 131.8 104.9 132.5 105.6 133.1 106.4 133.7 107.2 134.3 108.0 134.9 108.8 135.5 109.6 136.1 110.3 136.8 111.1 137.4 111.9 138.0 112.7 138.7 113.4 139.3 114.2 140.0 115.0 140.6 115.7 141.3 116.5 141.9 117.2 142.6 118.0 143.2 118.7 143.9 119.5 144.6 120.2 145.2 121.0 145.9 121.7 146.6 122.4 147.2 123.2 147.9 123.9 148.6 124.6 149.3 125.4 150.0 126.1 150.7 126.8 151.3 127.6 152.0 128.3 152.7 129.0 153.4 129.7 154.1 130.4 154.8 131.1 155.5 131.9 156.2 132.6 157.0 133.3 157.7 134.0 158.4 134.7 159.1 135.4 159.8 136.1 160.5 136.8 161.2 137.5 162.0 138.2 162.7 138.9 163.4 139.5 164.1 140.2 164.9 140.9 165.6 141.6 166.3 142.3 167.1 143.0 167.8 143.6 168.5 144.3 169.3 145.0 170.0 145.7 170.8 146.3 171.5 147.0 172.3 147.7 173.0 148.3 173.8 149.0 174.5 149.6 175.3 150.3 176.0 151.0 176.8 151.6 177.5 152.3 178.3 152.9 179.1 153.6 179.8 154.2 180.6 154.9 181.4 155.5 182.1 156.1 182.9 156.8 183.7 157.4 184.4 158.1 185.2 158.7 186.0 159.3 186.8 159.9 187.5 160.6 188.3 161.2 189.1 161.8 189.9 162.4 190.7 163.1 191.5 163.7 192.3 164.3 193.0 164.9 193.8 165.5 194.6 166.1 195.4 166.8 196.2 167.4 197.0 168.0 197.8 168.6 198.6 169.2 199.4 169.8 200.2 170.4 201.0 171.0 201.8 171.6 202.6 172.2 203.4 172.8 204.3 173.3 205.1 173.9 205.9 174.5 206.7 175.1 207.5 175.7 208.3 176.3 209.1 176.9 210.0 177.4 210.8 178.0 211.6 178.6 212.4 179.2 213.2 179.7 214.1 180.3 214.9 180.9 215.7 181.5 216.5 182.0 217.4 182.6 218.2 183.1 219.0 183.7 219.9 184.3 220.7 184.8 221.5 185.4 222.4 185.9 223.2 186.5 224.0 187.1 224.9 187.6 225.7 188.2 226.5 188.7 227.4 189.3 228.2 189.8 229.0 190.4 229.9 190.9 230.7 191.4 231.6 192.0 232.4 192.5 233.3 193.1 234.1 193.6 234.9 194.1 235.8 194.7 236.6 195.2 237.5 195.7 238.3 196.3 239.2 196.8 240.0 197.3 240.9 197.9 241.7 198.4 242.6 198.9 243.4 199.4 244.3 200.0 245.1 200.5 246.0 201.0 246.8 201.5 247.7 202.1 248.5 202.6 249.4 203.1 250.3 203.6 251.1 204.1 252.0 204.6 252.8 205.1 253.7 205.6 254.5 206.2 255.4 206.7 256.3 207.2 257.1 207.7 258.0 208.2 258.9 208.7 259.7 209.2 260.6 209.7 261.5 210.2 262.3 210.7 263.2 211.2 264.0 211.7 264.9 212.2 265.8 212.7 266.7 213.2 267.5 213.6 268.4 214.1 269.3 214.6 270.1 215.1 271.0 215.6 271.9 216.1 272.8 216.6 273.6 217.0 274.5 217.5 275.4 218.0 276.2 218.5 277.1 219.0 278.0 219.4 278.9 219.9 279.8 220.4 280.6 220.9 281.5 221.3 282.4 221.8 283.3 222.3 284.2 222.8 285.0 223.2 285.9 223.7 286.8 224.2 287.7 224.6 288.6 225.1 289.5 225.5 290.3 226.0 291.2 226.5 292.1 226.9 293.0 227.4 293.9 227.8 294.8 228.3 295.7 228.8 296.5 229.2 297.4 229.7 298.3 230.1 299.2 230.6 300.1 231.0 301.0 231.5 301.9 231.9 302.8 232.4 303.7 232.8 304.6 233.2 305.5 233.7 306.4 234.1 307.2 234.6 308.1 235.0 309.0 235.4 309.9 235.9 310.8 236.3 311.7 236.8 312.6 237.2 313.5 237.6 314.4 238.1 315.3 238.5 316.2 238.9 317.1 239.4 318.0 239.8 318.9 240.2 319.8 240.6 320.7 241.1 321.6 241.5 322.5 241.9 323.4 242.3 324.4 242.8 325.3 243.2 326.2 243.6 327.1 244.0 328.0 244.4 328.9 244.9 329.8 245.3 330.7 245.7 331.6 246.1 332.5 246.5 333.4 246.9 334.3 247.3 335.2 247.7 336.2 248.2 337.1 248.6 338.0 249.0 338.9 249.4 339.8 249.8 340.7 250.2 341.6 250.6 342.5 251.0 343.5 251.4 344.4 251.8 345.3 252.2 346.2 252.6 347.1 253.0 348.0 253.4 348.9 253.8 349.9 254.2 350.8 254.6 351.7 255.0 352.6 255.4 353.5 255.8 354.5 256.1 355.4 256.5 356.3 256.9 357.2 257.3 358.1 257.7 359.1 258.1 360.0 258.5 360.9 258.9 361.8 259.2 362.8 259.6 363.7 260.0 364.6 260.4 365.5 260.8 366.4 261.1 367.4 261.5 368.3 261.9 369.2 262.3 370.2 262.7 371.1 263.0 372.0 263.4 372.9 263.8 373.9 264.1 374.8 264.5 375.7 264.9 376.6 265.3 377.6 265.6 378.5 266.0 379.4 266.4 380.4 266.7 381.3 267.1 382.2 267.5 383.2 267.8 384.1 268.2 385.0 268.6 386.0 268.9 386.9 269.3 387.8 269.6 388.8 270.0 389.7 270.4 390.6 270.7 391.6 271.1 392.5 271.4 393.4 271.8 394.4 272.1 395.3 272.5 396.2 272.8 397.2 273.2 398.1 273.6 399.0 273.9 400.0 274.3 400.9 274.6 401.9 275.0 402.8 275.3 403.7 275.6 404.7 276.0 405.6 276.3 406.5 276.7 407.5 277.0 408.4 277.4 409.4 277.7 410.3 278.1 411.3 278.4 412.2 278.7 413.1 279.1 414.1 279.4 415.0 279.8 416.0 280.1 416.9 280.4 417.8 280.8 418.8 281.1 419.7 281.4 420.7 281.8 421.6 282.1 422.6 282.4 423.5 282.8 424.5 283.1 425.4 283.4 426.3 283.8 427.3 284.1 428.2 284.4 429.2 284.8 430.1 285.1 431.1 285.4 432.0 285.7 433.0 286.1 433.9 286.4 434.9 286.7 435.8 287.0 436.8 287.4 437.7 287.7 438.7 288.0 439.6 288.3 440.6 288.6 441.5 289.0 442.4 289.3 443.4 289.6 444.3 289.9 445.3 290.2 446.2 290.6 447.2 290.9 448.1 291.2 449.1 291.5 450.1 291.8 451.0 292.1 452.0 292.4 452.9 292.8 453.9 293.1 454.8 293.4 455.8 293.7 456.7 294.0 457.7 294.3 458.6 294.6 459.6 294.9 460.5 295.2 461.5 295.5 462.4 295.9 463.4 296.2 464.3 296.5 465.3 296.8 466.2 297.1 467.2 297.4 468.2 297.7 469.1 298.0 470.1 298.3 471.0 298.6 472.0 298.9 472.9 299.2 473.9 299.5 474.8 299.8 475.8 300.1 476.8 300.4 477.7 300.7 478.7 301.0 479.6 301.3 480.6 301.6 481.5 301.9 482.5 302.2 483.4 302.5 484.4 302.8 485.4 303.1 486.3 303.3 487.3 303.6 488.2 303.9 489.2 304.2 490.2 304.5 491.1 304.8 492.1 305.1 493.0 305.4 494.0 305.7 494.9 306.0 495.9 306.3 496.9 306.5 497.8 306.8 498.8 307.1 499.7 307.4 500.7 307.7 501.7 308.0 502.6 308.3 503.6 308.6 504.5 308.8 505.5 309.1 506.4 309.4 507.4 309.7 508.4 310.0 509.3 310.3 510.3 310.5 511.2 310.8 512.2 311.1 513.2 311.4 514.1 311.7 515.1 311.9 516.0 312.2 517.0 312.5 518.0 312.8 518.9 313.1 519.9 313.3 520.8 313.6 521.8 313.9 522.8 314.2 523.7 314.4 524.7 314.7 525.7 315.0 526.6 315.3 527.6 315.5 528.5 315.8 529.5 316.1 530.5 316.4 531.4 316.6 532.4 316.9 533.3 317.2 534.3 317.4 535.3 317.7 536.2 318.0 537.2 318.3 538.2 318.5 539.1 318.8 540.1 319.1 541.0 319.3 542.0 319.6 543.0 319.9 543.9 320.1 544.9 320.4 545.9 320.7 546.8 320.9 547.8 321.2 548.8 321.5 549.7 321.7 550.7 322.0 551.6 322.3 552.6 322.5 553.6 322.8 554.5 323.0 555.5 323.3 556.5 323.6 557.4 323.8 558.4 324.1 559.4 324.3 560.3 324.6 561.3 324.9 562.2 325.1 563.2 325.4 564.2 325.6 565.1 325.9 566.1 326.2 567.1 326.4 568.0 326.7 569.0 326.9 570.0 327.2 570.9 327.4 571.9 327.7 572.9 328.0 573.8 328.2 574.8 328.5 575.8 328.7 576.7 329.0 577.7 329.2 578.7 329.5 579.6 329.7 580.6 330.0 581.6 330.2 582.5 330.5 583.5 330.7 584.5 331.0 585.4 331.2 586.4 331.5 587.4 331.7 588.3 332.0 589.3 332.2 590.3 332.5 591.2 332.7 592.2 333.0 593.2 333.2 594.1 333.5 595.1 333.7 596.1 334.0 597.0 334.2 598.0 334.5 599.0 334.7 599.9 335.0 600.9 335.2 601.9 335.5 602.8 335.7 603.8 335.9 604.8 336.2 605.7 336.4 606.7 336.7 607.7 336.9 608.7 337.2 609.6 337.4 610.6 337.6 611.6 337.9 612.5 338.1 613.5 338.4 614.5 338.6 615.4 338.8 616.4 339.1 617.4 339.3 618.3 339.6 619.3 339.8 620.3 340.0 621.3 340.3 622.2 340.5 623.2 340.8 624.2 341.0 625.1 341.2 626.1 341.5 627.1 341.7 628.0 341.9 629.0 342.2 630.0 342.4 631.0 342.6 631.9 342.9 632.9 343.1 633.9 343.3 634.8 343.6 635.8 343.8 636.8 344.0 637.7 344.3 638.7 344.5 639.7 344.7 640.7 345.0 641.6 345.2 642.6 345.4 643.6 345.7 644.5 345.9 645.5 346.1 646.5 346.4 647.5 346.6 648.4 346.8 649.4 347.1 650.4 347.3 651.4 347.5 652.3 347.7 653.3 348.0 654.3 348.2 655.2 348.4 656.2 348.7 657.2 348.9 658.2 349.1 659.1 349.3 660.1 349.6 661.1 349.8 662.1 350.0 663.0 350.2 664.0 350.5 665.0 350.7 665.9 350.9 666.9 351.1 667.9 351.4 668.9 351.6 669.8 351.8 670.8 352.0 671.8 352.3 672.8 352.5 673.7 352.7 674.7 352.9 675.7 353.2 676.7 353.4 677.6 353.6 678.6 353.8 679.6 354.0 680.6 354.3 681.5 354.5 682.5 354.7 683.5 354.9 684.4 355.1 685.4 355.4 686.4 355.6 687.4 355.8 688.3 356.0 689.3 356.2 690.3 356.5 691.3 356.7 692.3 356.9 693.2 357.1 694.2 357.3 695.2 357.5 696.2 357.8 697.1 358.0 698.1 358.2 699.1 358.4 700.1 358.6 701.0 358.9 702.0 359.1 703.0 359.3 704.0 359.5 704.9 359.7 705.9 359.9 706.9 360.1 707.9 360.4 708.8 360.6 709.8 360.8 710.8 361.0 711.8 361.2 712.7 361.4 713.7 361.6 714.7 361.9 715.7 362.1 716.7 362.3 717.6 362.5 718.6 362.7 719.6 362.9 720.6 363.1 721.5 363.3 722.5 363.6 723.5 363.8 724.5 364.0 725.5 364.2 726.4 364.4 727.4 364.6 728.4 364.8 729.4 365.0 730.3 365.2 731.3 365.4 732.3 365.7 733.3 365.9 734.3 366.1 735.2 366.3 736.2 366.5 737.2 366.7 738.2 366.9 739.1 367.1 740.1 367.3 741.1 367.5 742.1 367.7 743.1 368.0 744.0 368.2 745.0 368.4 746.0 368.6 747.0 368.8 748.0 369.0 748.9 369.2 749.9 369.4 750.9 369.6 751.9 369.8 752.9 370.0 753.8 370.2 754.8 370.4 755.8 370.6 756.8 370.8 757.8 371.0 758.7 371.3 759.7 371.5 760.7 371.7 761.7 371.9 762.7 372.1 763.6 372.3 764.6 372.5 765.6 372.7 766.6 372.9 767.6 373.1 768.5 373.3 769.5 373.5 770.5 373.7" stroke="#00ff00"/>
</g>
<path d="M93.70 564.50v-6.8M93.70 30.40v6.8M161.38 564.50v-6.8M161.38 30.40v6.8M229.06 564.50v-6.8M229.06 30.40v6.8M296.74 564.50v-6.8M296.74 30.40v6.8M364.42 564.50v-6.8M364.42 30.40v6.8M432.10 564.50v-6.8M432.10 30.40v6.8M499.78 564.50v-6.8M499.78 30.40v6.8M567.46 564.50v-6.8M567.46 30.40v6.8M635.14 564.50v-6.8M635.14 30.40v6.8M702.82 564.50v-6.8M702.82 30.40v6.8M770.50 564.50v-6.8M770.50 30.40v6.8M93.70 564.50h6.8M770.50 564.50h-6.8M93.70 457.68h6.8M770.50 457.68h-6.8M93.70 350.86h6.8M770.50 350.86h-6.8M93.70 244.04h6.8M770.50 244.04h-6.8M93.70 137.22h6.8M770.50 137.22h-6.8M93.70 30.40h6.8M770.50 30.40h-6.8" stroke="#262626" stroke-width="1.05" fill="none"/>
<rect x="93.70" y="30.40" width="676.80" height="534.10" stroke="#262626" stroke-width="1.05" fill="none"/>
<g font-size="21" fill="#262626"><text transform="translate(93.70 595.10) scale(1 1.04)" text-anchor="middle">0</text><text transform="translate(161.38 595.10) scale(1 1.04)" text-anchor="middle">2</text><text transform="translate(229.06 595.10) scale(1 1.04)" text-anchor="middle">4</text><text transform="translate(296.74 595.10) scale(1 1.04)" text-anchor="middle">6</text><text transform="translate(364.42 595.10) scale(1 1.04)" text-anchor="middle">8</text><text transform="translate(432.10 595.10) scale(1 1.04)" text-anchor="middle">10</text><text transform="translate(499.78 595.10) scale(1 1.04)" text-anchor="middle">12</text><text transform="translate(567.46 595.10) scale(1 1.04)" text-anchor="middle">14</text><text transform="translate(635.14 595.10) scale(1 1.04)" text-anchor="middle">16</text><text transform="translate(702.82 595.10) scale(1 1.04)" text-anchor="middle">18</text><text transform="translate(770.50 595.10) scale(1 1.04)" text-anchor="middle">20</text><text transform="translate(85.00 572.90) scale(1 1.04)" text-anchor="end">0.45</text><text transform="translate(85.00 466.08) scale(1 1.04)" text-anchor="end">0.5</text><text transform="translate(85.00 359.26) scale(1 1.04)" text-anchor="end">0.55</text><text transform="translate(85.00 252.44) scale(1 1.04)" text-anchor="end">0.6</text><text transform="translate(85.00 145.62) scale(1 1.04)" text-anchor="end">0.65</text><text transform="translate(85.00 38.80) scale(1 1.04)" text-anchor="end">0.7</text></g>
<text transform="translate(432.10 624.80) scale(1 1.04)" text-anchor="middle" font-size="23.1" fill="#262626">Time</text>
<text transform="translate(32.0 297.4) rotate(-90) scale(1 1.04)" text-anchor="middle" font-size="23.1" fill="#262626">S(t)</text>
<text transform="translate(432.30 19.30) scale(1 1.01)" text-anchor="middle" font-size="22.3" font-weight="bold" letter-spacing="0.4" fill="#000">Proposed Method</text>
<rect x="613.05" y="47.30" width="140.30" height="106.90" fill="#fff" stroke="#262626" stroke-width="1.05"/>
<circle cx="650.3" cy="62.7" r="2.6" fill="#ff0000"/>
<text transform="translate(685.95 70.70) scale(1 1.04)" font-size="18.5" fill="#000"><tspan font-family="'Liberation Serif', serif" font-style="italic" font-size="17.945">ω</tspan><tspan dx="-0.3">=1.0</tspan></text>
<circle cx="650.3" cy="88.2" r="2.6" fill="#000000"/>
<text transform="translate(685.95 96.25) scale(1 1.04)" font-size="18.5" fill="#000"><tspan font-family="'Liberation Serif', serif" font-style="italic" font-size="17.945">ω</tspan><tspan dx="-0.3">=0.95</tspan></text>
<circle cx="650.3" cy="113.8" r="2.6" fill="#0000ff"/>
<text transform="translate(685.95 121.80) scale(1 1.04)" font-size="18.5" fill="#000"><tspan font-family="'Liberation Serif', serif" font-style="italic" font-size="17.945">ω</tspan><tspan dx="-0.3">=0.90</tspan></text>
<circle cx="650.3" cy="139.3" r="2.6" fill="#00ff00"/>
<text transform="translate(685.95 147.35) scale(1 1.04)" font-size="18.5" fill="#000"><tspan font-family="'Liberation Serif', serif" font-style="italic" font-size="17.945">ω</tspan><tspan dx="-0.3">=0.85</tspan></text>
<path d="M1096.65 30.40V564.50M1164.30 30.40V564.50M1231.95 30.40V564.50M1299.60 30.40V564.50M1367.25 30.40V564.50M1434.90 30.40V564.50M1502.55 30.40V564.50M1570.20 30.40V564.50M1637.85 30.40V564.50M1029.00 511.09H1705.50M1029.00 457.68H1705.50M1029.00 404.27H1705.50M1029.00 350.86H1705.50M1029.00 297.45H1705.50M1029.00 244.04H1705.50M1029.00 190.63H1705.50M1029.00 137.22H1705.50M1029.00 83.81H1705.50" stroke="#dfdfdf" stroke-width="1" fill="none"/>
<clipPath id="clipV"><rect x="1025.0" y="26.4" width="684.5" height="542.1"/></clipPath>
<g clip-path="url(#clipV)" fill="none" stroke-width="5.0" stroke-linecap="round" stroke-linejoin="round">
<path d="M1032.6 30.3h0M1033.0 38.3h0M1033.3 45.3h0M1033.8 52.3h0M1034.1 58.3h0M1034.5 63.3h0M1034.9 69.3h0M1035.2 74.3h0M1035.6 79.2h0M1036.0 84.2h0M1036.3 88.2h0M1036.7 93.1h0M1037.1 97.1h0M1037.5 102.1h0M1037.8 106.1h0M1038.2 110.0h0M1038.6 114.0h0M1038.9 118.0h0M1039.3 121.9h0M1039.7 125.9h0M1040.0 129.9h0M1040.4 133.9h0M1040.8 137.9h0M1041.2 141.8h0M1041.6 145.8h0M1041.9 148.8h0M1042.2 152.8h0M1042.6 156.8h0M1043.0 160.7h0M1043.3 163.7h0M1043.8 167.7h0M1044.2 171.7h0M1044.5 174.7h0M1044.9 178.7h0M1045.2 181.7h0M1045.6 184.7h0M1046.0 188.6h0M1046.4 191.6h0M1046.7 194.6h0M1047.1 197.6h0M1047.4 200.6h0M1047.8 203.6h0M1048.1 206.6h0M1048.5 209.5h0M1048.9 212.5h0M1049.3 215.5h0M1049.7 218.5h0M1050.1 221.5L1050.2 222.5 1050.4 223.4 1050.5 224.4 1050.6 225.4 1050.8 226.4 1050.9 227.4 1051.1 228.4 1051.2 229.4 1051.3 230.4 1051.5 231.4 1051.6 232.4 1051.8 233.4 1051.9 234.4 1052.1 235.3 1052.2 236.3 1052.4 237.3 1052.5 238.3 1052.7 239.3 1052.8 240.3 1053.0 241.3 1053.1 242.3 1053.3 243.3 1053.4 244.2 1053.6 245.2 1053.8 246.2 1053.9 247.2 1054.1 248.2 1054.2 249.2 1054.4 250.2 1054.6 251.2 1054.7 252.1 1054.9 253.1 1055.1 254.1 1055.2 255.1 1055.4 256.1 1055.6 257.1 1055.7 258.1 1055.9 259.0 1056.1 260.0 1056.3 261.0 1056.4 262.0 1056.6 263.0 1056.8 264.0 1057.0 265.0 1057.1 265.9 1057.3 266.9 1057.5 267.9 1057.7 268.9 1057.9 269.9 1058.1 270.9 1058.3 271.8 1058.4 272.8 1058.6 273.8 1058.8 274.8 1059.0 275.8 1059.2 276.7 1059.4 277.7 1059.6 278.7 1059.8 279.7 1060.0 280.7 1060.2 281.6 1060.4 282.6 1060.6 283.6 1060.8 284.6 1061.0 285.5 1061.2 286.5 1061.4 287.5 1061.6 288.5 1061.8 289.4 1062.1 290.4 1062.3 291.4 1062.5 292.4 1062.7 293.3 1062.9 294.3 1063.1 295.3 1063.4 296.3 1063.6 297.2 1063.8 298.2 1064.0 299.2 1064.3 300.2 1064.5 301.1 1064.7 302.1 1065.0 303.1 1065.2 304.0 1065.4 305.0 1065.7 306.0 1065.9 307.0 1066.1 307.9 1066.4 308.9 1066.6 309.9 1066.9 310.8 1067.1 311.8 1067.3 312.8 1067.6 313.7 1067.8 314.7 1068.1 315.7 1068.3 316.6 1068.6 317.6 1068.9 318.6 1069.1 319.5 1069.4 320.5 1069.6 321.4 1069.9 322.4 1070.2 323.4 1070.4 324.3 1070.7 325.3 1071.0 326.3 1071.2 327.2 1071.5 328.2 1071.8 329.1 1072.1 330.1 1072.3 331.0 1072.6 332.0 1072.9 333.0 1073.2 333.9 1073.5 334.9 1073.8 335.8 1074.0 336.8 1074.3 337.7 1074.6 338.7 1074.9 339.7 1075.2 340.6 1075.5 341.6 1075.8 342.5 1076.1 343.5 1076.4 344.4 1076.7 345.4 1077.0 346.3 1077.3 347.3 1077.6 348.2 1078.0 349.2 1078.3 350.1 1078.6 351.1 1078.9 352.0 1079.2 353.0 1079.6 353.9 1079.9 354.9 1080.2 355.8 1080.5 356.7 1080.9 357.7 1081.2 358.6 1081.5 359.6 1081.9 360.5 1082.2 361.5 1082.5 362.4 1082.9 363.3 1083.2 364.3 1083.6 365.2 1083.9 366.2 1084.3 367.1 1084.6 368.0 1085.0 369.0 1085.3 369.9 1085.7 370.8 1086.0 371.8 1086.4 372.7 1086.8 373.7 1087.1 374.6 1087.5 375.5 1087.9 376.5 1088.2 377.4 1088.6 378.3 1089.0 379.2 1089.4 380.2 1089.8 381.1 1090.1 382.0 1090.5 383.0 1090.9 383.9 1091.3 384.8 1091.7 385.7 1092.1 386.6 1092.5 387.6 1092.9 388.5 1093.3 389.4 1093.7 390.3 1094.1 391.2 1094.5 392.1 1095.0 393.1 1095.4 394.0 1095.8 394.9 1096.2 395.8 1096.6 396.7 1097.1 397.6 1097.5 398.5 1097.9 399.4 1098.4 400.3 1098.8 401.2 1099.3 402.1 1099.7 403.0 1100.2 403.9 1100.6 404.8 1101.1 405.7 1101.5 406.6 1102.0 407.5 1102.5 408.4 1102.9 409.2 1103.4 410.1 1103.9 411.0 1104.4 411.9 1104.8 412.8 1105.3 413.6 1105.8 414.5 1106.3 415.4 1106.8 416.2 1107.3 417.1 1107.8 418.0 1108.3 418.8 1108.8 419.7 1109.3 420.6 1109.8 421.4 1110.3 422.3 1110.9 423.1 1111.4 424.0 1111.9 424.8 1112.5 425.6 1113.0 426.5 1113.5 427.3 1114.1 428.2 1114.6 429.0 1115.2 429.8 1115.7 430.7 1116.3 431.5 1116.9 432.3 1117.4 433.1 1118.0 433.9 1118.6 434.8 1119.2 435.6 1119.7 436.4 1120.3 437.2 1120.9 438.0 1121.5 438.8 1122.1 439.6 1122.7 440.4 1123.3 441.2 1123.9 442.0 1124.5 442.7 1125.2 443.5 1125.8 444.3 1126.4 445.1 1127.1 445.8 1127.7 446.6 1128.3 447.4 1129.0 448.1 1129.6 448.9 1130.3 449.7 1130.9 450.4 1131.6 451.2 1132.2 451.9 1132.9 452.7 1133.6 453.4 1134.3 454.1 1134.9 454.9 1135.6 455.6 1136.3 456.3 1137.0 457.0 1137.7 457.8 1138.4 458.5 1139.1 459.2 1139.8 459.9 1140.5 460.6 1141.2 461.3 1141.9 462.0 1142.6 462.7 1143.4 463.4 1144.1 464.1 1144.8 464.8 1145.5 465.4 1146.3 466.1 1147.0 466.8 1147.8 467.5 1148.5 468.1 1149.3 468.8 1150.0 469.4 1150.8 470.1 1151.5 470.7 1152.3 471.4 1153.1 472.0 1153.8 472.7 1154.6 473.3 1155.4 473.9 1156.2 474.5 1156.9 475.2 1157.7 475.8 1158.5 476.4 1159.3 477.0 1160.1 477.6 1160.9 478.2 1161.7 478.8 1162.5 479.4 1163.3 480.0 1164.1 480.5 1164.9 481.1 1165.7 481.7 1166.6 482.2 1167.4 482.8 1168.2 483.4 1169.0 483.9 1169.9 484.5 1170.7 485.0 1171.5 485.6 1172.4 486.1 1173.2 486.6 1174.1 487.2 1174.9 487.7 1175.8 488.2 1176.6 488.7 1177.5 489.2 1178.3 489.7 1179.2 490.2 1180.1 490.7 1180.9 491.2 1181.8 491.7 1182.7 492.2 1183.6 492.7 1184.4 493.2 1185.3 493.6 1186.2 494.1 1187.1 494.6 1188.0 495.0 1188.8 495.5 1189.7 496.0 1190.6 496.4 1191.5 496.9 1192.4 497.3 1193.3 497.7 1194.2 498.2 1195.1 498.6 1196.0 499.0 1196.9 499.5 1197.8 499.9 1198.8 500.3 1199.7 500.7 1200.6 501.1 1201.5 501.5 1202.4 501.9 1203.3 502.3 1204.3 502.7 1205.2 503.1 1206.1 503.5 1207.0 503.9 1208.0 504.2 1208.9 504.6 1209.8 505.0 1210.8 505.3 1211.7 505.7 1212.6 506.1 1213.6 506.4 1214.5 506.8 1215.4 507.1 1216.4 507.5 1217.3 507.8 1218.3 508.1 1219.2 508.5 1220.2 508.8 1221.1 509.1 1222.1 509.4 1223.0 509.8 1224.0 510.1 1224.9 510.4 1225.9 510.7 1226.8 511.0 1227.8 511.3 1228.8 511.6 1229.7 511.9 1230.7 512.2 1231.6 512.5 1232.6 512.8 1233.6 513.0 1234.5 513.3 1235.5 513.6 1236.4 513.9 1237.4 514.1 1238.4 514.4 1239.4 514.6 1240.3 514.9 1241.3 515.2 1242.3 515.4 1243.2 515.7 1244.2 515.9 1245.2 516.2 1246.1 516.4 1247.1 516.6 1248.1 516.9 1249.1 517.1 1250.0 517.3 1251.0 517.5 1252.0 517.8 1253.0 518.0 1254.0 518.2 1254.9 518.4 1255.9 518.6 1256.9 518.8 1257.9 519.1 1258.9 519.3 1259.8 519.5 1260.8 519.7 1261.8 519.9 1262.8 520.1 1263.8 520.3 1264.8 520.4 1265.7 520.6 1266.7 520.8 1267.7 521.0 1268.7 521.2 1269.7 521.4 1270.7 521.5 1271.7 521.7 1272.7 521.9 1273.6 522.1 1274.6 522.2 1275.6 522.4 1276.6 522.6 1277.6 522.7 1278.6 522.9 1279.6 523.1 1280.6 523.2 1281.6 523.4 1282.6 523.5 1283.6 523.7 1284.5 523.8 1285.5 524.0 1286.5 524.1 1287.5 524.3 1288.5 524.4 1289.5 524.6 1290.5 524.7 1291.5 524.9 1292.5 525.0 1293.5 525.2 1294.5 525.3 1295.5 525.4 1296.5 525.6 1297.4 525.7 1298.4 525.9 1299.4 526.0 1300.4 526.1 1301.4 526.3 1302.4 526.4 1303.4 526.5 1304.4 526.6 1305.4 526.8 1306.4 526.9 1307.4 527.0 1308.4 527.2 1309.4 527.3 1310.4 527.4 1311.4 527.5 1312.4 527.6 1313.3 527.8 1314.3 527.9 1315.3 528.0 1316.3 528.1 1317.3 528.2 1318.3 528.4 1319.3 528.5 1320.3 528.6 1321.3 528.7 1322.3 528.8 1323.3 528.9 1324.3 529.1 1325.3 529.2 1326.3 529.3 1327.3 529.4 1328.3 529.5 1329.3 529.6 1330.2 529.7 1331.2 529.8 1332.2 529.9 1333.2 530.0 1334.2 530.1 1335.2 530.2 1336.2 530.3 1337.2 530.4 1338.2 530.5 1339.2 530.7 1340.2 530.8 1341.2 530.9 1342.2 531.0 1343.2 531.1 1344.2 531.2 1345.2 531.2 1346.2 531.3 1347.1 531.4 1348.1 531.5 1349.1 531.6 1350.1 531.7 1351.1 531.8 1352.1 531.9 1353.1 532.0 1354.1 532.1 1355.1 532.2 1356.1 532.3 1357.1 532.4 1358.1 532.5 1359.1 532.6 1360.1 532.7 1361.1 532.8 1362.1 532.8 1363.1 532.9 1364.1 533.0 1365.1 533.1 1366.0 533.2 1367.0 533.3 1368.0 533.4 1369.0 533.5 1370.0 533.5 1371.0 533.6 1372.0 533.7 1373.0 533.8 1374.0 533.9 1375.0 534.0 1376.0 534.1 1377.0 534.1 1378.0 534.2 1379.0 534.3 1380.0 534.4 1381.0 534.5 1382.0 534.6 1383.0 534.6 1384.0 534.7 1385.0 534.8 1386.0 534.9 1387.0 535.0 1387.9 535.0 1388.9 535.1 1389.9 535.2 1390.9 535.3 1391.9 535.4 1392.9 535.4 1393.9 535.5 1394.9 535.6 1395.9 535.7 1396.9 535.8 1397.9 535.8 1398.9 535.9 1399.9 536.0 1400.9 536.1 1401.9 536.1 1402.9 536.2 1403.9 536.3 1404.9 536.4 1405.9 536.4 1406.9 536.5 1407.9 536.6 1408.9 536.6 1409.9 536.7 1410.9 536.8 1411.8 536.9 1412.8 536.9 1413.8 537.0 1414.8 537.1 1415.8 537.1 1416.8 537.2 1417.8 537.3 1418.8 537.4 1419.8 537.4 1420.8 537.5 1421.8 537.6 1422.8 537.6 1423.8 537.7 1424.8 537.8 1425.8 537.8 1426.8 537.9 1427.8 538.0 1428.8 538.0 1429.8 538.1 1430.8 538.2 1431.8 538.2 1432.8 538.3 1433.8 538.4 1434.8 538.4 1435.8 538.5 1436.8 538.6 1437.8 538.6 1438.8 538.7 1439.8 538.7 1440.8 538.8 1441.8 538.9 1442.7 538.9 1443.7 539.0 1444.7 539.0 1445.7 539.1 1446.7 539.2 1447.7 539.2 1448.7 539.3 1449.7 539.3 1450.7 539.4 1451.7 539.5 1452.7 539.5 1453.7 539.6 1454.7 539.6 1455.7 539.7 1456.7 539.8 1457.7 539.8 1458.7 539.9 1459.7 539.9 1460.7 540.0 1461.7 540.0 1462.7 540.1 1463.7 540.1 1464.7 540.2 1465.7 540.3 1466.7 540.3 1467.7 540.4 1468.7 540.4 1469.7 540.5 1470.7 540.5 1471.7 540.6 1472.7 540.6 1473.7 540.7 1474.7 540.7 1475.7 540.8 1476.7 540.8 1477.7 540.9 1478.7 540.9 1479.7 541.0 1480.7 541.0 1481.7 541.1 1482.7 541.1 1483.7 541.2 1484.7 541.2 1485.7 541.3 1486.6 541.3 1487.6 541.4 1488.6 541.4 1489.6 541.5 1490.6 541.5 1491.6 541.6 1492.6 541.6 1493.6 541.6 1494.6 541.7 1495.6 541.7 1496.6 541.8 1497.6 541.8 1498.6 541.9 1499.6 541.9 1500.6 542.0 1501.6 542.0 1502.6 542.0 1503.6 542.1 1504.6 542.1 1505.6 542.2 1506.6 542.2 1507.6 542.2 1508.6 542.3 1509.6 542.3 1510.6 542.4 1511.6 542.4 1512.6 542.5 1513.6 542.5 1514.6 542.5 1515.6 542.6 1516.6 542.6 1517.6 542.6 1518.6 542.7 1519.6 542.7 1520.6 542.8 1521.6 542.8 1522.6 542.8 1523.6 542.9 1524.6 542.9 1525.6 542.9 1526.6 543.0 1527.6 543.0 1528.6 543.1 1529.6 543.1 1530.6 543.1 1531.6 543.2 1532.6 543.2 1533.6 543.2 1534.6 543.3 1535.6 543.3 1536.6 543.3 1537.6 543.4 1538.6 543.4 1539.6 543.4 1540.6 543.5 1541.6 543.5 1542.6 543.5 1543.6 543.6 1544.6 543.6 1545.6 543.6 1546.6 543.7 1547.6 543.7 1548.6 543.7 1549.6 543.8 1550.6 543.8 1551.6 543.8 1552.6 543.9 1553.6 543.9 1554.6 543.9 1555.6 544.0 1556.6 544.0 1557.6 544.0 1558.6 544.0 1559.6 544.1 1560.6 544.1 1561.6 544.1 1562.6 544.2 1563.6 544.2 1564.6 544.2 1565.6 544.3 1566.6 544.3 1567.6 544.3 1568.6 544.3 1569.6 544.4 1570.6 544.4 1571.6 544.4 1572.6 544.5 1573.6 544.5 1574.6 544.5 1575.6 544.5 1576.6 544.6 1577.6 544.6 1578.6 544.6 1579.6 544.7 1580.6 544.7 1581.6 544.7 1582.6 544.7 1583.6 544.8 1584.6 544.8 1585.6 544.8 1586.6 544.8 1587.6 544.9 1588.6 544.9 1589.6 544.9 1590.6 545.0 1591.6 545.0 1592.6 545.0 1593.6 545.0 1594.6 545.1 1595.6 545.1 1596.6 545.1 1597.6 545.1 1598.6 545.2 1599.6 545.2 1600.6 545.2 1601.6 545.2 1602.6 545.3 1603.6 545.3 1604.6 545.3 1605.6 545.4 1606.6 545.4 1607.6 545.4 1608.6 545.4 1609.6 545.5 1610.6 545.5 1611.6 545.5 1612.6 545.5 1613.6 545.6 1614.6 545.6 1615.6 545.6 1616.6 545.6 1617.6 545.7 1618.6 545.7 1619.6 545.7 1620.6 545.7 1621.6 545.8 1622.6 545.8 1623.6 545.8 1624.6 545.9 1625.6 545.9 1626.6 545.9 1627.6 545.9 1628.6 546.0 1629.6 546.0 1630.6 546.0 1631.6 546.0 1632.6 546.1 1633.6 546.1 1634.6 546.1 1635.6 546.1 1636.6 546.2 1637.6 546.2 1638.6 546.2 1639.6 546.3 1640.6 546.3 1641.6 546.3 1642.6 546.3 1643.6 546.4 1644.6 546.4 1645.6 546.4 1646.6 546.4 1647.6 546.5 1648.6 546.5 1649.6 546.5 1650.6 546.6 1651.6 546.6 1652.6 546.6 1653.6 546.6 1654.6 546.7 1655.6 546.7 1656.6 546.7 1657.6 546.8 1658.6 546.8 1659.6 546.8 1660.6 546.8 1661.6 546.9 1662.6 546.9 1663.6 546.9 1664.6 547.0 1665.6 547.0 1666.6 547.0 1667.5 547.0 1668.5 547.1 1669.5 547.1 1670.5 547.1 1671.5 547.2 1672.5 547.2 1673.5 547.2 1674.5 547.3 1675.5 547.3 1676.5 547.3 1677.5 547.3 1678.5 547.4 1679.5 547.4 1680.5 547.4 1681.5 547.5 1682.5 547.5 1683.5 547.5 1684.5 547.6 1685.5 547.6 1686.5 547.6 1687.5 547.7 1688.5 547.7 1689.5 547.7 1690.5 547.8 1691.5 547.8 1692.5 547.8 1693.5 547.9 1694.5 547.9 1695.5 547.9 1696.5 548.0 1697.5 548.0 1698.5 548.0 1699.5 548.1 1700.5 548.1 1701.5 548.2 1702.5 548.2 1703.5 548.2 1704.5 548.3 1705.5 548.3" stroke="#ff0000"/>
<path d="M1032.6 30.3h0M1033.0 38.3h0M1033.4 46.3h0M1033.8 53.3h0M1034.1 59.3h0M1034.5 66.3h0M1034.9 72.3h0M1035.2 78.3h0M1035.6 84.3h0M1036.0 89.3h0M1036.3 94.2h0M1036.7 100.2h0M1037.0 104.2h0M1037.4 109.1h0M1037.8 114.1h0M1038.2 119.1h0M1038.6 123.1h0M1038.9 127.0h0M1039.3 131.0h0M1039.6 135.0h0M1040.0 138.9h0M1040.4 142.9h0M1040.8 146.8h0M1041.2 150.8h0M1041.5 153.8h0M1041.9 157.7h0M1042.2 160.7h0M1042.7 164.7h0M1043.0 167.6h0M1043.3 170.6h0M1043.8 174.6h0M1044.2 177.5h0M1044.5 180.5h0M1044.9 183.5h0M1045.2 186.4h0M1045.6 189.4h0M1046.0 192.4h0M1046.4 195.3h0M1046.8 198.3L1046.9 199.3 1047.1 200.3 1047.2 201.3 1047.3 202.3 1047.5 203.3 1047.6 204.2 1047.7 205.2 1047.9 206.2 1048.0 207.2 1048.2 208.2 1048.3 209.2 1048.4 210.2 1048.6 211.2 1048.7 212.2 1048.9 213.1 1049.0 214.1 1049.2 215.1 1049.3 216.1 1049.5 217.1 1049.6 218.1 1049.8 219.1 1049.9 220.1 1050.1 221.1 1050.2 222.1 1050.4 223.0 1050.5 224.0 1050.7 225.0 1050.8 226.0 1051.0 227.0 1051.1 228.0 1051.3 229.0 1051.4 230.0 1051.6 231.0 1051.8 231.9 1051.9 232.9 1052.1 233.9 1052.2 234.9 1052.4 235.9 1052.6 236.9 1052.7 237.9 1052.9 238.9 1053.1 239.9 1053.2 240.8 1053.4 241.8 1053.6 242.8 1053.7 243.8 1053.9 244.8 1054.1 245.8 1054.2 246.8 1054.4 247.8 1054.6 248.8 1054.8 249.8 1054.9 250.7 1055.1 251.7 1055.3 252.7 1055.5 253.7 1055.7 254.7 1055.8 255.7 1056.0 256.7 1056.2 257.7 1056.4 258.7 1056.6 259.7 1056.7 260.6 1056.9 261.6 1057.1 262.6 1057.3 263.6 1057.5 264.6 1057.7 265.6 1057.9 266.6 1058.1 267.6 1058.3 268.6 1058.5 269.5 1058.6 270.5 1058.8 271.5 1059.0 272.5 1059.2 273.5 1059.4 274.5 1059.6 275.5 1059.8 276.5 1060.1 277.4 1060.3 278.4 1060.5 279.4 1060.7 280.4 1060.9 281.4 1061.1 282.4 1061.3 283.4 1061.5 284.3 1061.7 285.3 1062.0 286.3 1062.2 287.3 1062.4 288.3 1062.6 289.3 1062.8 290.2 1063.1 291.2 1063.3 292.2 1063.5 293.2 1063.8 294.2 1064.0 295.1 1064.2 296.1 1064.5 297.1 1064.7 298.1 1064.9 299.1 1065.2 300.0 1065.4 301.0 1065.7 302.0 1065.9 303.0 1066.2 303.9 1066.4 304.9 1066.7 305.9 1066.9 306.8 1067.2 307.8 1067.4 308.8 1067.7 309.8 1068.0 310.7 1068.2 311.7 1068.5 312.7 1068.8 313.6 1069.0 314.6 1069.3 315.6 1069.6 316.5 1069.8 317.5 1070.1 318.5 1070.4 319.4 1070.7 320.4 1071.0 321.3 1071.3 322.3 1071.5 323.3 1071.8 324.2 1072.1 325.2 1072.4 326.1 1072.7 327.1 1073.0 328.0 1073.3 329.0 1073.6 330.0 1073.9 330.9 1074.2 331.9 1074.6 332.8 1074.9 333.8 1075.2 334.7 1075.5 335.7 1075.8 336.6 1076.2 337.5 1076.5 338.5 1076.8 339.4 1077.1 340.4 1077.5 341.3 1077.8 342.3 1078.2 343.2 1078.5 344.1 1078.8 345.1 1079.2 346.0 1079.5 346.9 1079.9 347.9 1080.2 348.8 1080.6 349.7 1081.0 350.7 1081.3 351.6 1081.7 352.5 1082.1 353.4 1082.4 354.4 1082.8 355.3 1083.2 356.2 1083.6 357.1 1084.0 358.1 1084.3 359.0 1084.7 359.9 1085.1 360.8 1085.5 361.7 1085.9 362.6 1086.3 363.5 1086.7 364.5 1087.1 365.4 1087.5 366.3 1088.0 367.2 1088.4 368.1 1088.8 369.0 1089.2 369.9 1089.6 370.8 1090.1 371.7 1090.5 372.6 1090.9 373.5 1091.4 374.4 1091.8 375.3 1092.3 376.2 1092.7 377.0 1093.2 377.9 1093.6 378.8 1094.1 379.7 1094.5 380.6 1095.0 381.5 1095.5 382.4 1095.9 383.2 1096.4 384.1 1096.9 385.0 1097.4 385.9 1097.9 386.7 1098.4 387.6 1098.8 388.5 1099.3 389.3 1099.8 390.2 1100.3 391.1 1100.9 391.9 1101.4 392.8 1101.9 393.6 1102.4 394.5 1102.9 395.3 1103.4 396.2 1104.0 397.1 1104.5 397.9 1105.0 398.7 1105.6 399.6 1106.1 400.4 1106.7 401.3 1107.2 402.1 1107.8 402.9 1108.3 403.8 1108.9 404.6 1109.4 405.4 1110.0 406.3 1110.6 407.1 1111.1 407.9 1111.7 408.7 1112.3 409.6 1112.9 410.4 1113.5 411.2 1114.1 412.0 1114.7 412.8 1115.2 413.6 1115.8 414.4 1116.4 415.2 1117.1 416.0 1117.7 416.8 1118.3 417.6 1118.9 418.4 1119.5 419.2 1120.1 420.0 1120.8 420.7 1121.4 421.5 1122.0 422.3 1122.7 423.1 1123.3 423.8 1123.9 424.6 1124.6 425.4 1125.2 426.1 1125.9 426.9 1126.5 427.7 1127.2 428.4 1127.9 429.2 1128.5 429.9 1129.2 430.7 1129.9 431.4 1130.5 432.1 1131.2 432.9 1131.9 433.6 1132.6 434.3 1133.3 435.1 1133.9 435.8 1134.6 436.5 1135.3 437.2 1136.0 437.9 1136.7 438.6 1137.4 439.3 1138.1 440.0 1138.9 440.7 1139.6 441.4 1140.3 442.1 1141.0 442.8 1141.7 443.5 1142.5 444.2 1143.2 444.9 1143.9 445.5 1144.7 446.2 1145.4 446.9 1146.1 447.5 1146.9 448.2 1147.6 448.9 1148.4 449.5 1149.1 450.2 1149.9 450.8 1150.6 451.4 1151.4 452.1 1152.2 452.7 1152.9 453.3 1153.7 454.0 1154.5 454.6 1155.3 455.2 1156.0 455.8 1156.8 456.4 1157.6 457.0 1158.4 457.6 1159.2 458.2 1160.0 458.8 1160.8 459.4 1161.6 460.0 1162.4 460.6 1163.2 461.1 1164.0 461.7 1164.8 462.3 1165.6 462.8 1166.4 463.4 1167.2 463.9 1168.0 464.5 1168.9 465.0 1169.7 465.6 1170.5 466.1 1171.4 466.6 1172.2 467.2 1173.0 467.7 1173.9 468.2 1174.7 468.7 1175.6 469.2 1176.4 469.7 1177.2 470.2 1178.1 470.7 1179.0 471.2 1179.8 471.7 1180.7 472.2 1181.5 472.7 1182.4 473.2 1183.3 473.7 1184.1 474.1 1185.0 474.6 1185.9 475.1 1186.7 475.5 1187.6 476.0 1188.5 476.4 1189.4 476.9 1190.3 477.3 1191.2 477.8 1192.0 478.2 1192.9 478.6 1193.8 479.1 1194.7 479.5 1195.6 479.9 1196.5 480.3 1197.4 480.7 1198.3 481.2 1199.2 481.6 1200.1 482.0 1201.0 482.4 1201.9 482.8 1202.9 483.2 1203.8 483.6 1204.7 483.9 1205.6 484.3 1206.5 484.7 1207.4 485.1 1208.4 485.5 1209.3 485.8 1210.2 486.2 1211.1 486.6 1212.1 486.9 1213.0 487.3 1213.9 487.7 1214.9 488.0 1215.8 488.4 1216.7 488.7 1217.7 489.0 1218.6 489.4 1219.6 489.7 1220.5 490.1 1221.5 490.4 1222.4 490.7 1223.4 491.0 1224.3 491.4 1225.3 491.7 1226.2 492.0 1227.2 492.3 1228.1 492.6 1229.1 492.9 1230.0 493.2 1231.0 493.5 1231.9 493.8 1232.9 494.1 1233.9 494.4 1234.8 494.7 1235.8 495.0 1236.8 495.3 1237.7 495.6 1238.7 495.9 1239.7 496.2 1240.6 496.4 1241.6 496.7 1242.6 497.0 1243.6 497.3 1244.5 497.5 1245.5 497.8 1246.5 498.0 1247.5 498.3 1248.4 498.6 1249.4 498.8 1250.4 499.1 1251.4 499.3 1252.4 499.6 1253.3 499.8 1254.3 500.1 1255.3 500.3 1256.3 500.5 1257.3 500.8 1258.3 501.0 1259.3 501.3 1260.2 501.5 1261.2 501.7 1262.2 501.9 1263.2 502.2 1264.2 502.4 1265.2 502.6 1266.2 502.8 1267.2 503.1 1268.2 503.3 1269.2 503.5 1270.2 503.7 1271.1 503.9 1272.1 504.1 1273.1 504.3 1274.1 504.5 1275.1 504.7 1276.1 504.9 1277.1 505.1 1278.1 505.3 1279.1 505.5 1280.1 505.7 1281.1 505.9 1282.1 506.1 1283.1 506.3 1284.1 506.5 1285.1 506.7 1286.1 506.9 1287.1 507.0 1288.1 507.2 1289.1 507.4 1290.1 507.6 1291.1 507.8 1292.1 507.9 1293.1 508.1 1294.1 508.3 1295.1 508.5 1296.1 508.6 1297.1 508.8 1298.0 509.0 1299.0 509.2 1300.0 509.3 1301.0 509.5 1302.0 509.7 1303.0 509.8 1304.0 510.0 1305.0 510.1 1306.0 510.3 1307.0 510.5 1308.0 510.6 1309.0 510.8 1310.0 510.9 1311.0 511.1 1312.0 511.2 1313.0 511.4 1314.0 511.5 1315.0 511.7 1316.0 511.8 1317.0 512.0 1318.0 512.1 1318.9 512.3 1319.9 512.4 1320.9 512.6 1321.9 512.7 1322.9 512.9 1323.9 513.0 1324.9 513.1 1325.9 513.3 1326.9 513.4 1327.9 513.6 1328.9 513.7 1329.9 513.8 1330.9 514.0 1331.9 514.1 1332.8 514.2 1333.8 514.4 1334.8 514.5 1335.8 514.6 1336.8 514.8 1337.8 514.9 1338.8 515.0 1339.8 515.1 1340.8 515.3 1341.8 515.4 1342.8 515.5 1343.8 515.6 1344.7 515.8 1345.7 515.9 1346.7 516.0 1347.7 516.1 1348.7 516.2 1349.7 516.4 1350.7 516.5 1351.7 516.6 1352.7 516.7 1353.7 516.8 1354.6 516.9 1355.6 517.1 1356.6 517.2 1357.6 517.3 1358.6 517.4 1359.6 517.5 1360.6 517.6 1361.6 517.7 1362.6 517.8 1363.6 517.9 1364.5 518.0 1365.5 518.2 1366.5 518.3 1367.5 518.4 1368.5 518.5 1369.5 518.6 1370.5 518.7 1371.5 518.8 1372.5 518.9 1373.5 519.0 1374.4 519.1 1375.4 519.2 1376.4 519.3 1377.4 519.4 1378.4 519.5 1379.4 519.6 1380.4 519.7 1381.4 519.8 1382.4 519.9 1383.3 520.0 1384.3 520.0 1385.3 520.1 1386.3 520.2 1387.3 520.3 1388.3 520.4 1389.3 520.5 1390.3 520.6 1391.3 520.7 1392.3 520.8 1393.2 520.9 1394.2 521.0 1395.2 521.0 1396.2 521.1 1397.2 521.2 1398.2 521.3 1399.2 521.4 1400.2 521.5 1401.2 521.6 1402.1 521.6 1403.1 521.7 1404.1 521.8 1405.1 521.9 1406.1 522.0 1407.1 522.1 1408.1 522.1 1409.1 522.2 1410.1 522.3 1411.1 522.4 1412.0 522.5 1413.0 522.6 1414.0 522.6 1415.0 522.7 1416.0 522.8 1417.0 522.9 1418.0 523.0 1419.0 523.0 1420.0 523.1 1421.0 523.2 1422.0 523.3 1422.9 523.3 1423.9 523.4 1424.9 523.5 1425.9 523.6 1426.9 523.6 1427.9 523.7 1428.9 523.8 1429.9 523.9 1430.9 523.9 1431.9 524.0 1432.9 524.1 1433.9 524.2 1434.9 524.2 1435.8 524.3 1436.8 524.4 1437.8 524.5 1438.8 524.5 1439.8 524.6 1440.8 524.7 1441.8 524.8 1442.8 524.8 1443.8 524.9 1444.8 525.0 1445.8 525.0 1446.8 525.1 1447.8 525.2 1448.8 525.3 1449.8 525.3 1450.7 525.4 1451.7 525.5 1452.7 525.5 1453.7 525.6 1454.7 525.7 1455.7 525.7 1456.7 525.8 1457.7 525.9 1458.7 526.0 1459.7 526.0 1460.7 526.1 1461.7 526.2 1462.7 526.2 1463.7 526.3 1464.7 526.4 1465.7 526.4 1466.7 526.5 1467.7 526.6 1468.7 526.6 1469.7 526.7 1470.7 526.8 1471.7 526.8 1472.6 526.9 1473.6 527.0 1474.6 527.0 1475.6 527.1 1476.6 527.2 1477.6 527.2 1478.6 527.3 1479.6 527.3 1480.6 527.4 1481.6 527.5 1482.6 527.5 1483.6 527.6 1484.6 527.7 1485.6 527.7 1486.6 527.8 1487.6 527.9 1488.6 527.9 1489.6 528.0 1490.6 528.0 1491.6 528.1 1492.6 528.2 1493.6 528.2 1494.6 528.3 1495.6 528.4 1496.6 528.4 1497.6 528.5 1498.6 528.5 1499.6 528.6 1500.6 528.7 1501.6 528.7 1502.6 528.8 1503.6 528.8 1504.6 528.9 1505.6 529.0 1506.6 529.0 1507.6 529.1 1508.6 529.1 1509.6 529.2 1510.6 529.3 1511.6 529.3 1512.6 529.4 1513.6 529.4 1514.6 529.5 1515.6 529.5 1516.6 529.6 1517.6 529.7 1518.6 529.7 1519.6 529.8 1520.6 529.8 1521.6 529.9 1522.6 529.9 1523.6 530.0 1524.6 530.1 1525.6 530.1 1526.6 530.2 1527.6 530.2 1528.6 530.3 1529.6 530.3 1530.6 530.4 1531.6 530.4 1532.6 530.5 1533.6 530.5 1534.6 530.6 1535.6 530.7 1536.6 530.7 1537.6 530.8 1538.6 530.8 1539.6 530.9 1540.6 530.9 1541.6 531.0 1542.6 531.0 1543.6 531.1 1544.6 531.1 1545.6 531.2 1546.6 531.2 1547.6 531.3 1548.6 531.3 1549.6 531.4 1550.6 531.4 1551.6 531.5 1552.6 531.5 1553.6 531.6 1554.6 531.6 1555.6 531.7 1556.6 531.7 1557.6 531.8 1558.6 531.8 1559.6 531.9 1560.6 531.9 1561.6 532.0 1562.6 532.0 1563.6 532.1 1564.6 532.1 1565.6 532.2 1566.6 532.2 1567.6 532.3 1568.6 532.3 1569.6 532.4 1570.6 532.4 1571.6 532.5 1572.6 532.5 1573.6 532.6 1574.6 532.6 1575.6 532.7 1576.6 532.7 1577.6 532.8 1578.6 532.8 1579.6 532.9 1580.6 532.9 1581.6 533.0 1582.6 533.0 1583.6 533.0 1584.6 533.1 1585.6 533.1 1586.6 533.2 1587.6 533.2 1588.6 533.3 1589.6 533.3 1590.6 533.4 1591.6 533.4 1592.6 533.5 1593.6 533.5 1594.6 533.5 1595.6 533.6 1596.6 533.6 1597.6 533.7 1598.6 533.7 1599.6 533.8 1600.6 533.8 1601.6 533.8 1602.6 533.9 1603.6 533.9 1604.6 534.0 1605.6 534.0 1606.6 534.1 1607.6 534.1 1608.6 534.1 1609.6 534.2 1610.6 534.2 1611.6 534.3 1612.6 534.3 1613.6 534.4 1614.6 534.4 1615.6 534.4 1616.7 534.5 1617.7 534.5 1618.7 534.6 1619.7 534.6 1620.7 534.6 1621.7 534.7 1622.7 534.7 1623.7 534.8 1624.7 534.8 1625.7 534.8 1626.7 534.9 1627.7 534.9 1628.7 535.0 1629.7 535.0 1630.7 535.0 1631.7 535.1 1632.7 535.1 1633.7 535.2 1634.7 535.2 1635.7 535.2 1636.7 535.3 1637.7 535.3 1638.7 535.3 1639.7 535.4 1640.7 535.4 1641.7 535.5 1642.7 535.5 1643.7 535.5 1644.7 535.6 1645.7 535.6 1646.7 535.6 1647.7 535.7 1648.7 535.7 1649.7 535.8 1650.7 535.8 1651.7 535.8 1652.6 535.9 1653.6 535.9 1654.6 535.9 1655.6 536.0 1656.6 536.0 1657.6 536.0 1658.6 536.1 1659.6 536.1 1660.6 536.1 1661.6 536.2 1662.6 536.2 1663.6 536.2 1664.6 536.3 1665.6 536.3 1666.6 536.4 1667.6 536.4 1668.6 536.4 1669.6 536.5 1670.6 536.5 1671.6 536.5 1672.6 536.6 1673.6 536.6 1674.6 536.6 1675.6 536.7 1676.6 536.7 1677.6 536.7 1678.6 536.8 1679.6 536.8 1680.6 536.8 1681.6 536.9 1682.6 536.9 1683.6 536.9 1684.6 536.9 1685.6 537.0 1686.6 537.0 1687.6 537.0 1688.6 537.1 1689.6 537.1 1690.6 537.1 1691.6 537.2 1692.6 537.2 1693.6 537.2 1694.6 537.3 1695.5 537.3 1696.5 537.3 1697.5 537.4 1698.5 537.4 1699.5 537.4 1700.5 537.4 1701.5 537.5 1702.5 537.5 1703.5 537.5 1704.5 537.6 1705.5 537.6" stroke="#000000"/>
<path d="M1032.6 30.3h0M1033.0 37.3h0M1033.4 43.2h0M1033.7 49.2h0M1034.1 56.2h0M1034.4 62.2h0M1034.8 69.2h0M1035.2 76.1h0M1035.5 82.1h0M1035.9 89.1h0M1036.3 96.1h0M1036.7 102.1h0M1037.1 108.1h0M1037.4 114.1h0M1037.8 120.1h0M1038.2 125.1h0M1038.6 131.1h0M1038.9 136.0h0M1039.3 141.0h0M1039.6 145.0h0M1040.0 150.0h0M1040.4 154.0h0M1040.8 159.0h0M1041.2 162.9h0M1041.6 166.9h0M1041.8 169.9h0M1042.2 173.9h0M1042.7 177.9h0M1043.0 180.8h0M1043.3 183.8h0M1043.8 187.8h0M1044.1 190.8h0M1044.5 193.7h0M1044.9 196.7h0M1045.2 199.7h0M1045.6 202.6h0M1046.0 205.6L1046.2 206.6 1046.3 207.6 1046.4 208.6 1046.6 209.6 1046.7 210.6 1046.9 211.5 1047.0 212.5 1047.2 213.5 1047.3 214.5 1047.4 215.5 1047.6 216.5 1047.7 217.5 1047.9 218.5 1048.1 219.4 1048.2 220.4 1048.4 221.4 1048.5 222.4 1048.7 223.4 1048.8 224.4 1049.0 225.4 1049.2 226.3 1049.3 227.3 1049.5 228.3 1049.6 229.3 1049.8 230.3 1050.0 231.3 1050.2 232.3 1050.3 233.2 1050.5 234.2 1050.7 235.2 1050.9 236.2 1051.0 237.2 1051.2 238.2 1051.4 239.1 1051.6 240.1 1051.8 241.1 1051.9 242.1 1052.1 243.1 1052.3 244.0 1052.5 245.0 1052.7 246.0 1052.9 247.0 1053.1 248.0 1053.3 248.9 1053.5 249.9 1053.7 250.9 1053.9 251.9 1054.1 252.9 1054.3 253.8 1054.5 254.8 1054.7 255.8 1054.9 256.8 1055.1 257.8 1055.3 258.7 1055.5 259.7 1055.7 260.7 1056.0 261.7 1056.2 262.6 1056.4 263.6 1056.6 264.6 1056.8 265.6 1057.1 266.5 1057.3 267.5 1057.5 268.5 1057.8 269.5 1058.0 270.4 1058.2 271.4 1058.5 272.4 1058.7 273.4 1058.9 274.3 1059.2 275.3 1059.4 276.3 1059.7 277.2 1059.9 278.2 1060.2 279.2 1060.4 280.2 1060.7 281.1 1060.9 282.1 1061.2 283.1 1061.4 284.0 1061.7 285.0 1061.9 286.0 1062.2 287.0 1062.5 287.9 1062.7 288.9 1063.0 289.9 1063.3 290.8 1063.6 291.8 1063.8 292.8 1064.1 293.7 1064.4 294.7 1064.7 295.7 1064.9 296.6 1065.2 297.6 1065.5 298.6 1065.8 299.5 1066.1 300.5 1066.4 301.4 1066.7 302.4 1067.0 303.4 1067.3 304.3 1067.6 305.3 1067.9 306.3 1068.2 307.2 1068.5 308.2 1068.8 309.1 1069.1 310.1 1069.4 311.1 1069.7 312.0 1070.1 313.0 1070.4 313.9 1070.7 314.9 1071.0 315.8 1071.4 316.8 1071.7 317.8 1072.0 318.7 1072.4 319.7 1072.7 320.6 1073.0 321.6 1073.4 322.5 1073.7 323.5 1074.1 324.4 1074.4 325.4 1074.8 326.3 1075.1 327.3 1075.5 328.2 1075.8 329.1 1076.2 330.1 1076.6 331.0 1076.9 332.0 1077.3 332.9 1077.7 333.8 1078.0 334.8 1078.4 335.7 1078.8 336.6 1079.2 337.6 1079.6 338.5 1080.0 339.4 1080.3 340.4 1080.7 341.3 1081.1 342.2 1081.5 343.1 1081.9 344.1 1082.3 345.0 1082.7 345.9 1083.2 346.8 1083.6 347.7 1084.0 348.6 1084.4 349.6 1084.8 350.5 1085.2 351.4 1085.7 352.3 1086.1 353.2 1086.5 354.1 1087.0 355.0 1087.4 355.9 1087.8 356.8 1088.3 357.7 1088.7 358.6 1089.2 359.5 1089.6 360.4 1090.1 361.2 1090.6 362.1 1091.0 363.0 1091.5 363.9 1092.0 364.8 1092.4 365.7 1092.9 366.5 1093.4 367.4 1093.9 368.3 1094.4 369.1 1094.8 370.0 1095.3 370.9 1095.8 371.7 1096.3 372.6 1096.8 373.5 1097.3 374.3 1097.8 375.2 1098.4 376.0 1098.9 376.9 1099.4 377.7 1099.9 378.6 1100.4 379.4 1101.0 380.2 1101.5 381.1 1102.0 381.9 1102.6 382.7 1103.1 383.6 1103.7 384.4 1104.2 385.2 1104.8 386.0 1105.3 386.8 1105.9 387.7 1106.5 388.5 1107.0 389.3 1107.6 390.1 1108.2 390.9 1108.7 391.7 1109.3 392.5 1109.9 393.3 1110.5 394.1 1111.1 394.9 1111.7 395.6 1112.3 396.4 1112.9 397.2 1113.5 398.0 1114.1 398.7 1114.7 399.5 1115.4 400.3 1116.0 401.0 1116.6 401.8 1117.2 402.6 1117.9 403.3 1118.5 404.1 1119.2 404.8 1119.8 405.6 1120.5 406.3 1121.1 407.0 1121.8 407.8 1122.4 408.5 1123.1 409.2 1123.8 409.9 1124.5 410.7 1125.1 411.4 1125.8 412.1 1126.5 412.8 1127.2 413.5 1127.9 414.2 1128.6 414.9 1129.3 415.6 1130.0 416.3 1130.7 417.0 1131.4 417.7 1132.1 418.3 1132.8 419.0 1133.6 419.7 1134.3 420.4 1135.0 421.0 1135.7 421.7 1136.5 422.4 1137.2 423.0 1138.0 423.7 1138.7 424.3 1139.4 425.0 1140.2 425.6 1141.0 426.3 1141.7 426.9 1142.5 427.5 1143.2 428.2 1144.0 428.8 1144.8 429.4 1145.5 430.1 1146.3 430.7 1147.1 431.3 1147.9 431.9 1148.7 432.5 1149.4 433.1 1150.2 433.7 1151.0 434.3 1151.8 434.9 1152.6 435.5 1153.4 436.1 1154.2 436.7 1155.0 437.3 1155.9 437.8 1156.7 438.4 1157.5 439.0 1158.3 439.5 1159.1 440.1 1159.9 440.7 1160.8 441.2 1161.6 441.8 1162.4 442.3 1163.3 442.9 1164.1 443.4 1164.9 444.0 1165.8 444.5 1166.6 445.0 1167.5 445.6 1168.3 446.1 1169.2 446.6 1170.0 447.1 1170.9 447.7 1171.7 448.2 1172.6 448.7 1173.4 449.2 1174.3 449.7 1175.2 450.2 1176.0 450.7 1176.9 451.2 1177.8 451.7 1178.7 452.1 1179.5 452.6 1180.4 453.1 1181.3 453.6 1182.2 454.1 1183.1 454.5 1183.9 455.0 1184.8 455.5 1185.7 455.9 1186.6 456.4 1187.5 456.8 1188.4 457.3 1189.3 457.7 1190.2 458.2 1191.1 458.6 1192.0 459.0 1192.9 459.5 1193.8 459.9 1194.7 460.3 1195.6 460.7 1196.5 461.1 1197.4 461.6 1198.4 462.0 1199.3 462.4 1200.2 462.8 1201.1 463.2 1202.0 463.6 1202.9 464.0 1203.9 464.4 1204.8 464.7 1205.7 465.1 1206.6 465.5 1207.6 465.9 1208.5 466.3 1209.4 466.6 1210.4 467.0 1211.3 467.4 1212.2 467.7 1213.2 468.1 1214.1 468.4 1215.0 468.8 1216.0 469.1 1216.9 469.5 1217.9 469.8 1218.8 470.2 1219.7 470.5 1220.7 470.8 1221.6 471.2 1222.6 471.5 1223.5 471.8 1224.5 472.2 1225.4 472.5 1226.4 472.8 1227.3 473.1 1228.3 473.4 1229.3 473.7 1230.2 474.0 1231.2 474.3 1232.1 474.6 1233.1 474.9 1234.0 475.2 1235.0 475.5 1236.0 475.8 1236.9 476.1 1237.9 476.4 1238.9 476.7 1239.8 477.0 1240.8 477.3 1241.8 477.5 1242.7 477.8 1243.7 478.1 1244.7 478.4 1245.6 478.6 1246.6 478.9 1247.6 479.2 1248.5 479.4 1249.5 479.7 1250.5 479.9 1251.5 480.2 1252.4 480.4 1253.4 480.7 1254.4 480.9 1255.4 481.2 1256.3 481.4 1257.3 481.7 1258.3 481.9 1259.3 482.2 1260.3 482.4 1261.2 482.6 1262.2 482.9 1263.2 483.1 1264.2 483.3 1265.2 483.6 1266.2 483.8 1267.1 484.0 1268.1 484.2 1269.1 484.4 1270.1 484.7 1271.1 484.9 1272.1 485.1 1273.0 485.3 1274.0 485.5 1275.0 485.7 1276.0 485.9 1277.0 486.2 1278.0 486.4 1279.0 486.6 1280.0 486.8 1280.9 487.0 1281.9 487.2 1282.9 487.4 1283.9 487.6 1284.9 487.8 1285.9 488.0 1286.9 488.2 1287.9 488.4 1288.9 488.6 1289.8 488.7 1290.8 488.9 1291.8 489.1 1292.8 489.3 1293.8 489.5 1294.8 489.7 1295.8 489.9 1296.8 490.0 1297.8 490.2 1298.8 490.4 1299.7 490.6 1300.7 490.8 1301.7 491.0 1302.7 491.1 1303.7 491.3 1304.7 491.5 1305.7 491.7 1306.7 491.8 1307.7 492.0 1308.6 492.2 1309.6 492.3 1310.6 492.5 1311.6 492.7 1312.6 492.9 1313.6 493.0 1314.6 493.2 1315.6 493.4 1316.6 493.5 1317.5 493.7 1318.5 493.9 1319.5 494.0 1320.5 494.2 1321.5 494.3 1322.5 494.5 1323.5 494.7 1324.5 494.8 1325.5 495.0 1326.4 495.1 1327.4 495.3 1328.4 495.4 1329.4 495.6 1330.4 495.7 1331.4 495.9 1332.4 496.1 1333.4 496.2 1334.3 496.4 1335.3 496.5 1336.3 496.7 1337.3 496.8 1338.3 496.9 1339.3 497.1 1340.3 497.2 1341.3 497.4 1342.3 497.5 1343.2 497.7 1344.2 497.8 1345.2 498.0 1346.2 498.1 1347.2 498.2 1348.2 498.4 1349.2 498.5 1350.2 498.7 1351.1 498.8 1352.1 498.9 1353.1 499.1 1354.1 499.2 1355.1 499.3 1356.1 499.5 1357.1 499.6 1358.1 499.7 1359.0 499.9 1360.0 500.0 1361.0 500.1 1362.0 500.3 1363.0 500.4 1364.0 500.5 1365.0 500.6 1366.0 500.8 1367.0 500.9 1367.9 501.0 1368.9 501.2 1369.9 501.3 1370.9 501.4 1371.9 501.5 1372.9 501.6 1373.9 501.8 1374.9 501.9 1375.8 502.0 1376.8 502.1 1377.8 502.3 1378.8 502.4 1379.8 502.5 1380.8 502.6 1381.8 502.7 1382.8 502.8 1383.8 503.0 1384.7 503.1 1385.7 503.2 1386.7 503.3 1387.7 503.4 1388.7 503.5 1389.7 503.6 1390.7 503.8 1391.7 503.9 1392.6 504.0 1393.6 504.1 1394.6 504.2 1395.6 504.3 1396.6 504.4 1397.6 504.5 1398.6 504.6 1399.6 504.8 1400.6 504.9 1401.6 505.0 1402.5 505.1 1403.5 505.2 1404.5 505.3 1405.5 505.4 1406.5 505.5 1407.5 505.6 1408.5 505.7 1409.5 505.8 1410.5 505.9 1411.4 506.0 1412.4 506.1 1413.4 506.2 1414.4 506.3 1415.4 506.4 1416.4 506.5 1417.4 506.6 1418.4 506.7 1419.4 506.8 1420.4 506.9 1421.3 507.0 1422.3 507.1 1423.3 507.2 1424.3 507.3 1425.3 507.4 1426.3 507.5 1427.3 507.6 1428.3 507.7 1429.3 507.8 1430.3 507.9 1431.3 508.0 1432.2 508.1 1433.2 508.2 1434.2 508.3 1435.2 508.4 1436.2 508.4 1437.2 508.5 1438.2 508.6 1439.2 508.7 1440.2 508.8 1441.2 508.9 1442.2 509.0 1443.2 509.1 1444.1 509.2 1445.1 509.3 1446.1 509.4 1447.1 509.4 1448.1 509.5 1449.1 509.6 1450.1 509.7 1451.1 509.8 1452.1 509.9 1453.1 510.0 1454.1 510.1 1455.1 510.2 1456.1 510.2 1457.1 510.3 1458.0 510.4 1459.0 510.5 1460.0 510.6 1461.0 510.7 1462.0 510.8 1463.0 510.8 1464.0 510.9 1465.0 511.0 1466.0 511.1 1467.0 511.2 1468.0 511.3 1469.0 511.3 1470.0 511.4 1471.0 511.5 1472.0 511.6 1473.0 511.7 1474.0 511.7 1475.0 511.8 1475.9 511.9 1476.9 512.0 1477.9 512.1 1478.9 512.1 1479.9 512.2 1480.9 512.3 1481.9 512.4 1482.9 512.5 1483.9 512.5 1484.9 512.6 1485.9 512.7 1486.9 512.8 1487.9 512.8 1488.9 512.9 1489.9 513.0 1490.9 513.1 1491.9 513.2 1492.9 513.2 1493.9 513.3 1494.9 513.4 1495.9 513.5 1496.9 513.5 1497.8 513.6 1498.8 513.7 1499.8 513.8 1500.8 513.8 1501.8 513.9 1502.8 514.0 1503.8 514.0 1504.8 514.1 1505.8 514.2 1506.8 514.3 1507.8 514.3 1508.8 514.4 1509.8 514.5 1510.8 514.5 1511.8 514.6 1512.8 514.7 1513.8 514.8 1514.8 514.8 1515.8 514.9 1516.8 515.0 1517.8 515.0 1518.8 515.1 1519.8 515.2 1520.8 515.2 1521.8 515.3 1522.8 515.4 1523.8 515.4 1524.8 515.5 1525.8 515.6 1526.8 515.6 1527.8 515.7 1528.8 515.8 1529.8 515.8 1530.8 515.9 1531.7 516.0 1532.7 516.0 1533.7 516.1 1534.7 516.2 1535.7 516.2 1536.7 516.3 1537.7 516.4 1538.7 516.4 1539.7 516.5 1540.7 516.6 1541.7 516.6 1542.7 516.7 1543.7 516.7 1544.7 516.8 1545.7 516.9 1546.7 516.9 1547.7 517.0 1548.7 517.1 1549.7 517.1 1550.7 517.2 1551.7 517.2 1552.7 517.3 1553.7 517.4 1554.7 517.4 1555.7 517.5 1556.7 517.5 1557.7 517.6 1558.7 517.7 1559.7 517.7 1560.7 517.8 1561.7 517.8 1562.7 517.9 1563.7 518.0 1564.7 518.0 1565.7 518.1 1566.7 518.1 1567.7 518.2 1568.7 518.2 1569.7 518.3 1570.7 518.4 1571.7 518.4 1572.7 518.5 1573.7 518.5 1574.7 518.6 1575.7 518.6 1576.7 518.7 1577.7 518.8 1578.7 518.8 1579.7 518.9 1580.7 518.9 1581.7 519.0 1582.7 519.0 1583.7 519.1 1584.7 519.1 1585.7 519.2 1586.7 519.2 1587.7 519.3 1588.7 519.4 1589.7 519.4 1590.7 519.5 1591.7 519.5 1592.7 519.6 1593.7 519.6 1594.7 519.7 1595.7 519.7 1596.7 519.8 1597.7 519.8 1598.7 519.9 1599.7 519.9 1600.7 520.0 1601.7 520.0 1602.7 520.1 1603.7 520.1 1604.7 520.2 1605.7 520.2 1606.7 520.3 1607.7 520.3 1608.7 520.4 1609.7 520.4 1610.7 520.5 1611.7 520.5 1612.7 520.6 1613.7 520.6 1614.7 520.7 1615.7 520.7 1616.7 520.8 1617.7 520.8 1618.6 520.9 1619.6 520.9 1620.6 521.0 1621.6 521.0 1622.6 521.1 1623.6 521.1 1624.6 521.2 1625.6 521.2 1626.6 521.3 1627.6 521.3 1628.6 521.4 1629.6 521.4 1630.6 521.4 1631.6 521.5 1632.6 521.5 1633.6 521.6 1634.6 521.6 1635.6 521.7 1636.6 521.7 1637.6 521.8 1638.6 521.8 1639.6 521.9 1640.6 521.9 1641.6 521.9 1642.6 522.0 1643.6 522.0 1644.6 522.1 1645.6 522.1 1646.6 522.2 1647.6 522.2 1648.6 522.3 1649.6 522.3 1650.6 522.3 1651.6 522.4 1652.6 522.4 1653.6 522.5 1654.6 522.5 1655.6 522.6 1656.6 522.6 1657.6 522.7 1658.6 522.7 1659.6 522.7 1660.6 522.8 1661.6 522.8 1662.6 522.9 1663.6 522.9 1664.6 523.0 1665.6 523.0 1666.6 523.0 1667.6 523.1 1668.6 523.1 1669.6 523.2 1670.6 523.2 1671.6 523.2 1672.6 523.3 1673.6 523.3 1674.6 523.4 1675.6 523.4 1676.6 523.5 1677.6 523.5 1678.6 523.5 1679.6 523.6 1680.6 523.6 1681.6 523.7 1682.6 523.7 1683.6 523.7 1684.6 523.8 1685.6 523.8 1686.6 523.9 1687.6 523.9 1688.5 523.9 1689.5 524.0 1690.5 524.0 1691.5 524.1 1692.5 524.1 1693.5 524.1 1694.5 524.2 1695.5 524.2 1696.5 524.3 1697.5 524.3 1698.5 524.3 1699.5 524.4 1700.5 524.4 1701.5 524.4 1702.5 524.5 1703.5 524.5 1704.5 524.6 1705.5 524.6" stroke="#0000ff"/>
<path d="M1032.6 30.3h0M1033.0 39.3h0M1033.4 48.3h0M1033.7 56.3h0M1034.1 65.3h0M1034.5 73.3h0M1034.8 81.3h0M1035.2 88.2h0M1035.6 96.2h0M1035.9 102.2h0M1036.3 109.1h0M1036.7 115.1h0M1037.1 121.1h0M1037.4 126.0h0M1037.8 132.0h0M1038.2 136.9h0M1038.5 140.9h0M1038.9 145.9h0M1039.3 149.8h0M1039.7 154.8h0M1040.1 158.8h0M1040.4 162.7h0M1040.7 165.7h0M1041.2 169.6h0M1041.6 173.6h0M1041.9 176.6h0M1042.2 179.5h0M1042.6 182.5h0M1043.1 186.5h0M1043.4 189.4L1043.6 190.4 1043.7 191.4 1043.8 192.4 1044.0 193.4 1044.1 194.4 1044.2 195.4 1044.4 196.3 1044.5 197.3 1044.6 198.3 1044.8 199.3 1044.9 200.3 1045.0 201.3 1045.2 202.3 1045.3 203.3 1045.5 204.2 1045.6 205.2 1045.7 206.2 1045.9 207.2 1046.0 208.2 1046.2 209.2 1046.3 210.2 1046.5 211.2 1046.6 212.1 1046.8 213.1 1047.0 214.1 1047.1 215.1 1047.3 216.1 1047.4 217.1 1047.6 218.1 1047.8 219.1 1047.9 220.0 1048.1 221.0 1048.2 222.0 1048.4 223.0 1048.6 224.0 1048.8 225.0 1048.9 226.0 1049.1 227.0 1049.3 227.9 1049.5 228.9 1049.6 229.9 1049.8 230.9 1050.0 231.9 1050.2 232.9 1050.4 233.9 1050.5 234.8 1050.7 235.8 1050.9 236.8 1051.1 237.8 1051.3 238.8 1051.5 239.8 1051.7 240.8 1051.9 241.7 1052.1 242.7 1052.3 243.7 1052.5 244.7 1052.7 245.7 1052.9 246.7 1053.1 247.7 1053.3 248.7 1053.5 249.6 1053.7 250.6 1053.9 251.6 1054.1 252.6 1054.4 253.6 1054.6 254.6 1054.8 255.5 1055.0 256.5 1055.2 257.5 1055.5 258.5 1055.7 259.5 1055.9 260.5 1056.1 261.5 1056.4 262.4 1056.6 263.4 1056.8 264.4 1057.1 265.4 1057.3 266.4 1057.6 267.4 1057.8 268.3 1058.0 269.3 1058.3 270.3 1058.5 271.3 1058.8 272.3 1059.0 273.2 1059.3 274.2 1059.6 275.2 1059.8 276.2 1060.1 277.1 1060.3 278.1 1060.6 279.1 1060.9 280.1 1061.1 281.0 1061.4 282.0 1061.7 283.0 1062.0 284.0 1062.2 284.9 1062.5 285.9 1062.8 286.9 1063.1 287.8 1063.4 288.8 1063.7 289.8 1064.0 290.7 1064.3 291.7 1064.6 292.7 1064.9 293.6 1065.2 294.6 1065.5 295.6 1065.8 296.5 1066.1 297.5 1066.4 298.4 1066.7 299.4 1067.0 300.3 1067.4 301.3 1067.7 302.3 1068.0 303.2 1068.3 304.2 1068.7 305.1 1069.0 306.1 1069.3 307.0 1069.7 307.9 1070.0 308.9 1070.4 309.8 1070.7 310.8 1071.1 311.7 1071.4 312.7 1071.8 313.6 1072.1 314.5 1072.5 315.5 1072.9 316.4 1073.2 317.3 1073.6 318.3 1074.0 319.2 1074.4 320.1 1074.7 321.0 1075.1 322.0 1075.5 322.9 1075.9 323.8 1076.3 324.7 1076.7 325.6 1077.1 326.5 1077.5 327.5 1077.9 328.4 1078.3 329.3 1078.7 330.2 1079.1 331.1 1079.6 332.0 1080.0 332.9 1080.4 333.8 1080.8 334.7 1081.3 335.6 1081.7 336.5 1082.2 337.4 1082.6 338.3 1083.0 339.1 1083.5 340.0 1083.9 340.9 1084.4 341.8 1084.9 342.7 1085.3 343.5 1085.8 344.4 1086.3 345.3 1086.7 346.2 1087.2 347.0 1087.7 347.9 1088.2 348.8 1088.7 349.6 1089.2 350.5 1089.7 351.3 1090.2 352.2 1090.7 353.0 1091.2 353.9 1091.7 354.7 1092.2 355.6 1092.7 356.4 1093.2 357.3 1093.8 358.1 1094.3 358.9 1094.8 359.8 1095.4 360.6 1095.9 361.4 1096.5 362.2 1097.0 363.1 1097.6 363.9 1098.1 364.7 1098.7 365.5 1099.3 366.3 1099.8 367.1 1100.4 367.9 1101.0 368.7 1101.6 369.5 1102.2 370.3 1102.8 371.1 1103.3 371.9 1103.9 372.7 1104.6 373.5 1105.2 374.3 1105.8 375.0 1106.4 375.8 1107.0 376.6 1107.6 377.3 1108.3 378.1 1108.9 378.9 1109.5 379.6 1110.2 380.4 1110.8 381.1 1111.5 381.9 1112.1 382.6 1112.8 383.4 1113.4 384.1 1114.1 384.9 1114.8 385.6 1115.4 386.3 1116.1 387.1 1116.8 387.8 1117.5 388.5 1118.1 389.2 1118.8 389.9 1119.5 390.7 1120.2 391.4 1120.9 392.1 1121.6 392.8 1122.3 393.5 1123.0 394.2 1123.8 394.9 1124.5 395.6 1125.2 396.2 1125.9 396.9 1126.7 397.6 1127.4 398.3 1128.1 398.9 1128.9 399.6 1129.6 400.3 1130.3 400.9 1131.1 401.6 1131.8 402.3 1132.6 402.9 1133.4 403.6 1134.1 404.2 1134.9 404.8 1135.6 405.5 1136.4 406.1 1137.2 406.7 1138.0 407.4 1138.7 408.0 1139.5 408.6 1140.3 409.2 1141.1 409.8 1141.9 410.5 1142.7 411.1 1143.5 411.7 1144.3 412.3 1145.1 412.8 1145.9 413.4 1146.7 414.0 1147.5 414.6 1148.3 415.2 1149.2 415.8 1150.0 416.3 1150.8 416.9 1151.6 417.5 1152.4 418.0 1153.3 418.6 1154.1 419.1 1155.0 419.7 1155.8 420.2 1156.6 420.8 1157.5 421.3 1158.3 421.8 1159.2 422.4 1160.0 422.9 1160.9 423.4 1161.7 423.9 1162.6 424.5 1163.5 425.0 1164.3 425.5 1165.2 426.0 1166.1 426.5 1166.9 427.0 1167.8 427.5 1168.7 428.0 1169.5 428.4 1170.4 428.9 1171.3 429.4 1172.2 429.9 1173.1 430.4 1174.0 430.8 1174.8 431.3 1175.7 431.8 1176.6 432.2 1177.5 432.7 1178.4 433.1 1179.3 433.6 1180.2 434.0 1181.1 434.5 1182.0 434.9 1182.9 435.4 1183.8 435.8 1184.7 436.2 1185.6 436.7 1186.5 437.1 1187.4 437.5 1188.3 438.0 1189.3 438.4 1190.2 438.8 1191.1 439.2 1192.0 439.6 1192.9 440.0 1193.8 440.4 1194.7 440.8 1195.7 441.2 1196.6 441.6 1197.5 442.0 1198.4 442.4 1199.3 442.8 1200.3 443.2 1201.2 443.6 1202.1 444.0 1203.0 444.4 1204.0 444.8 1204.9 445.1 1205.8 445.5 1206.7 445.9 1207.7 446.3 1208.6 446.6 1209.5 447.0 1210.5 447.4 1211.4 447.7 1212.3 448.1 1213.2 448.4 1214.2 448.8 1215.1 449.2 1216.0 449.5 1217.0 449.9 1217.9 450.2 1218.8 450.5 1219.8 450.9 1220.7 451.2 1221.7 451.6 1222.6 451.9 1223.5 452.2 1224.5 452.6 1225.4 452.9 1226.4 453.2 1227.3 453.5 1228.2 453.9 1229.2 454.2 1230.1 454.5 1231.1 454.8 1232.0 455.1 1233.0 455.5 1233.9 455.8 1234.9 456.1 1235.8 456.4 1236.8 456.7 1237.7 457.0 1238.7 457.3 1239.6 457.6 1240.6 457.9 1241.5 458.2 1242.5 458.5 1243.4 458.8 1244.4 459.1 1245.3 459.3 1246.3 459.6 1247.2 459.9 1248.2 460.2 1249.1 460.5 1250.1 460.8 1251.0 461.0 1252.0 461.3 1253.0 461.6 1253.9 461.9 1254.9 462.1 1255.8 462.4 1256.8 462.7 1257.8 462.9 1258.7 463.2 1259.7 463.4 1260.6 463.7 1261.6 464.0 1262.6 464.2 1263.5 464.5 1264.5 464.7 1265.5 465.0 1266.4 465.2 1267.4 465.5 1268.4 465.7 1269.3 465.9 1270.3 466.2 1271.3 466.4 1272.2 466.7 1273.2 466.9 1274.2 467.1 1275.1 467.4 1276.1 467.6 1277.1 467.8 1278.0 468.0 1279.0 468.3 1280.0 468.5 1281.0 468.7 1281.9 468.9 1282.9 469.2 1283.9 469.4 1284.9 469.6 1285.8 469.8 1286.8 470.0 1287.8 470.2 1288.8 470.4 1289.7 470.7 1290.7 470.9 1291.7 471.1 1292.7 471.3 1293.6 471.5 1294.6 471.7 1295.6 471.9 1296.6 472.1 1297.5 472.3 1298.5 472.5 1299.5 472.7 1300.5 472.9 1301.5 473.1 1302.5 473.3 1303.4 473.4 1304.4 473.6 1305.4 473.8 1306.4 474.0 1307.4 474.2 1308.3 474.4 1309.3 474.6 1310.3 474.7 1311.3 474.9 1312.3 475.1 1313.3 475.3 1314.2 475.4 1315.2 475.6 1316.2 475.8 1317.2 476.0 1318.2 476.1 1319.2 476.3 1320.2 476.5 1321.2 476.6 1322.1 476.8 1323.1 477.0 1324.1 477.1 1325.1 477.3 1326.1 477.5 1327.1 477.6 1328.1 477.8 1329.1 477.9 1330.1 478.1 1331.0 478.2 1332.0 478.4 1333.0 478.6 1334.0 478.7 1335.0 478.9 1336.0 479.0 1337.0 479.2 1338.0 479.3 1339.0 479.5 1340.0 479.6 1341.0 479.7 1341.9 479.9 1342.9 480.0 1343.9 480.2 1344.9 480.3 1345.9 480.5 1346.9 480.6 1347.9 480.7 1348.9 480.9 1349.9 481.0 1350.9 481.1 1351.9 481.3 1352.9 481.4 1353.9 481.5 1354.9 481.7 1355.9 481.8 1356.9 481.9 1357.9 482.1 1358.9 482.2 1359.8 482.3 1360.8 482.5 1361.8 482.6 1362.8 482.7 1363.8 482.8 1364.8 483.0 1365.8 483.1 1366.8 483.2 1367.8 483.3 1368.8 483.5 1369.8 483.6 1370.8 483.7 1371.8 483.8 1372.8 483.9 1373.8 484.1 1374.8 484.2 1375.8 484.3 1376.8 484.4 1377.8 484.5 1378.8 484.6 1379.8 484.8 1380.8 484.9 1381.8 485.0 1382.8 485.1 1383.8 485.2 1384.8 485.3 1385.8 485.4 1386.8 485.5 1387.8 485.6 1388.8 485.8 1389.8 485.9 1390.8 486.0 1391.8 486.1 1392.8 486.2 1393.8 486.3 1394.8 486.4 1395.8 486.5 1396.8 486.6 1397.8 486.7 1398.8 486.8 1399.8 486.9 1400.8 487.0 1401.8 487.1 1402.8 487.2 1403.8 487.3 1404.8 487.4 1405.8 487.6 1406.8 487.7 1407.8 487.8 1408.8 487.9 1409.8 488.0 1410.8 488.1 1411.8 488.2 1412.8 488.3 1413.8 488.4 1414.8 488.5 1415.8 488.6 1416.8 488.7 1417.8 488.8 1418.8 488.9 1419.8 488.9 1420.8 489.0 1421.8 489.1 1422.8 489.2 1423.8 489.3 1424.7 489.4 1425.7 489.5 1426.7 489.6 1427.7 489.7 1428.7 489.8 1429.7 489.9 1430.7 490.0 1431.7 490.1 1432.7 490.2 1433.7 490.3 1434.7 490.4 1435.7 490.5 1436.7 490.6 1437.7 490.7 1438.7 490.8 1439.7 490.9 1440.7 491.0 1441.7 491.1 1442.7 491.2 1443.7 491.3 1444.7 491.4 1445.7 491.4 1446.7 491.5 1447.7 491.6 1448.7 491.7 1449.7 491.8 1450.7 491.9 1451.7 492.0 1452.7 492.1 1453.7 492.2 1454.7 492.3 1455.7 492.4 1456.6 492.5 1457.6 492.6 1458.6 492.7 1459.6 492.8 1460.6 492.9 1461.6 493.0 1462.6 493.0 1463.6 493.1 1464.6 493.2 1465.6 493.3 1466.6 493.4 1467.6 493.5 1468.6 493.6 1469.6 493.7 1470.6 493.8 1471.6 493.9 1472.6 494.0 1473.6 494.1 1474.5 494.2 1475.5 494.3 1476.5 494.3 1477.5 494.4 1478.5 494.5 1479.5 494.6 1480.5 494.7 1481.5 494.8 1482.5 494.9 1483.5 495.0 1484.5 495.1 1485.5 495.2 1486.5 495.3 1487.5 495.3 1488.5 495.4 1489.4 495.5 1490.4 495.6 1491.4 495.7 1492.4 495.8 1493.4 495.9 1494.4 496.0 1495.4 496.1 1496.4 496.1 1497.4 496.2 1498.4 496.3 1499.4 496.4 1500.4 496.5 1501.4 496.6 1502.3 496.7 1503.3 496.8 1504.3 496.9 1505.3 496.9 1506.3 497.0 1507.3 497.1 1508.3 497.2 1509.3 497.3 1510.3 497.4 1511.3 497.5 1512.3 497.5 1513.3 497.6 1514.3 497.7 1515.2 497.8 1516.2 497.9 1517.2 498.0 1518.2 498.1 1519.2 498.1 1520.2 498.2 1521.2 498.3 1522.2 498.4 1523.2 498.5 1524.2 498.6 1525.2 498.7 1526.1 498.7 1527.1 498.8 1528.1 498.9 1529.1 499.0 1530.1 499.1 1531.1 499.2 1532.1 499.2 1533.1 499.3 1534.1 499.4 1535.1 499.5 1536.1 499.6 1537.1 499.6 1538.0 499.7 1539.0 499.8 1540.0 499.9 1541.0 500.0 1542.0 500.0 1543.0 500.1 1544.0 500.2 1545.0 500.3 1546.0 500.4 1547.0 500.4 1548.0 500.5 1549.0 500.6 1549.9 500.7 1550.9 500.8 1551.9 500.8 1552.9 500.9 1553.9 501.0 1554.9 501.1 1555.9 501.1 1556.9 501.2 1557.9 501.3 1558.9 501.4 1559.9 501.5 1560.9 501.5 1561.8 501.6 1562.8 501.7 1563.8 501.8 1564.8 501.8 1565.8 501.9 1566.8 502.0 1567.8 502.1 1568.8 502.1 1569.8 502.2 1570.8 502.3 1571.8 502.4 1572.8 502.4 1573.7 502.5 1574.7 502.6 1575.7 502.6 1576.7 502.7 1577.7 502.8 1578.7 502.9 1579.7 502.9 1580.7 503.0 1581.7 503.1 1582.7 503.1 1583.7 503.2 1584.7 503.3 1585.7 503.4 1586.6 503.4 1587.6 503.5 1588.6 503.6 1589.6 503.6 1590.6 503.7 1591.6 503.8 1592.6 503.8 1593.6 503.9 1594.6 504.0 1595.6 504.0 1596.6 504.1 1597.6 504.2 1598.6 504.2 1599.6 504.3 1600.6 504.4 1601.5 504.4 1602.5 504.5 1603.5 504.6 1604.5 504.6 1605.5 504.7 1606.5 504.7 1607.5 504.8 1608.5 504.9 1609.5 504.9 1610.5 505.0 1611.5 505.1 1612.5 505.1 1613.5 505.2 1614.5 505.2 1615.5 505.3 1616.5 505.4 1617.5 505.4 1618.5 505.5 1619.4 505.5 1620.4 505.6 1621.4 505.7 1622.4 505.7 1623.4 505.8 1624.4 505.8 1625.4 505.9 1626.4 505.9 1627.4 506.0 1628.4 506.1 1629.4 506.1 1630.4 506.2 1631.4 506.2 1632.4 506.3 1633.4 506.3 1634.4 506.4 1635.4 506.4 1636.4 506.5 1637.4 506.6 1638.4 506.6 1639.4 506.7 1640.4 506.7 1641.4 506.8 1642.4 506.8 1643.4 506.9 1644.4 506.9 1645.4 507.0 1646.4 507.0 1647.4 507.1 1648.4 507.1 1649.4 507.2 1650.4 507.2 1651.3 507.3 1652.3 507.3 1653.3 507.4 1654.3 507.4 1655.3 507.5 1656.3 507.5 1657.3 507.5 1658.3 507.6 1659.3 507.6 1660.3 507.7 1661.3 507.7 1662.3 507.8 1663.3 507.8 1664.3 507.9 1665.3 507.9 1666.3 507.9 1667.3 508.0 1668.3 508.0 1669.3 508.1 1670.4 508.1 1671.4 508.2 1672.4 508.2 1673.4 508.2 1674.4 508.3 1675.4 508.3 1676.4 508.4 1677.4 508.4 1678.4 508.4 1679.4 508.5 1680.4 508.5 1681.4 508.5 1682.4 508.6 1683.4 508.6 1684.4 508.6 1685.4 508.7 1686.4 508.7 1687.4 508.8 1688.4 508.8 1689.4 508.8 1690.4 508.9 1691.4 508.9 1692.4 508.9 1693.4 508.9 1694.4 509.0 1695.4 509.0 1696.4 509.0 1697.4 509.1 1698.5 509.1 1699.5 509.1 1700.5 509.2 1701.5 509.2 1702.5 509.2 1703.5 509.2 1704.5 509.3 1705.5 509.3" stroke="#00ff00"/>
</g>
<path d="M1029.00 564.50v-6.8M1029.00 30.40v6.8M1096.65 564.50v-6.8M1096.65 30.40v6.8M1164.30 564.50v-6.8M1164.30 30.40v6.8M1231.95 564.50v-6.8M1231.95 30.40v6.8M1299.60 564.50v-6.8M1299.60 30.40v6.8M1367.25 564.50v-6.8M1367.25 30.40v6.8M1434.90 564.50v-6.8M1434.90 30.40v6.8M1502.55 564.50v-6.8M1502.55 30.40v6.8M1570.20 564.50v-6.8M1570.20 30.40v6.8M1637.85 564.50v-6.8M1637.85 30.40v6.8M1705.50 564.50v-6.8M1705.50 30.40v6.8M1029.00 564.50h6.8M1705.50 564.50h-6.8M1029.00 511.09h6.8M1705.50 511.09h-6.8M1029.00 457.68h6.8M1705.50 457.68h-6.8M1029.00 404.27h6.8M1705.50 404.27h-6.8M1029.00 350.86h6.8M1705.50 350.86h-6.8M1029.00 297.45h6.8M1705.50 297.45h-6.8M1029.00 244.04h6.8M1705.50 244.04h-6.8M1029.00 190.63h6.8M1705.50 190.63h-6.8M1029.00 137.22h6.8M1705.50 137.22h-6.8M1029.00 83.81h6.8M1705.50 83.81h-6.8M1029.00 30.40h6.8M1705.50 30.40h-6.8" stroke="#262626" stroke-width="1.05" fill="none"/>
<rect x="1029.00" y="30.40" width="676.50" height="534.10" stroke="#262626" stroke-width="1.05" fill="none"/>
<g font-size="21" fill="#262626"><text transform="translate(1029.00 595.10) scale(1 1.04)" text-anchor="middle">0</text><text transform="translate(1096.65 595.10) scale(1 1.04)" text-anchor="middle">2</text><text transform="translate(1164.30 595.10) scale(1 1.04)" text-anchor="middle">4</text><text transform="translate(1231.95 595.10) scale(1 1.04)" text-anchor="middle">6</text><text transform="translate(1299.60 595.10) scale(1 1.04)" text-anchor="middle">8</text><text transform="translate(1367.25 595.10) scale(1 1.04)" text-anchor="middle">10</text><text transform="translate(1434.90 595.10) scale(1 1.04)" text-anchor="middle">12</text><text transform="translate(1502.55 595.10) scale(1 1.04)" text-anchor="middle">14</text><text transform="translate(1570.20 595.10) scale(1 1.04)" text-anchor="middle">16</text><text transform="translate(1637.85 595.10) scale(1 1.04)" text-anchor="middle">18</text><text transform="translate(1705.50 595.10) scale(1 1.04)" text-anchor="middle">20</text><text transform="translate(1020.30 572.90) scale(1 1.04)" text-anchor="end">0.02</text><text transform="translate(1020.30 519.49) scale(1 1.04)" text-anchor="end">0.04</text><text transform="translate(1020.30 466.08) scale(1 1.04)" text-anchor="end">0.06</text><text transform="translate(1020.30 412.67) scale(1 1.04)" text-anchor="end">0.08</text><text transform="translate(1020.30 359.26) scale(1 1.04)" text-anchor="end">0.1</text><text transform="translate(1020.30 305.85) scale(1 1.04)" text-anchor="end">0.12</text><text transform="translate(1020.30 252.44) scale(1 1.04)" text-anchor="end">0.14</text><text transform="translate(1020.30 199.03) scale(1 1.04)" text-anchor="end">0.16</text><text transform="translate(1020.30 145.62) scale(1 1.04)" text-anchor="end">0.18</text><text transform="translate(1020.30 92.21) scale(1 1.04)" text-anchor="end">0.2</text><text transform="translate(1020.30 38.80) scale(1 1.04)" text-anchor="end">0.22</text></g>
<text transform="translate(1367.25 624.80) scale(1 1.04)" text-anchor="middle" font-size="23.1" fill="#262626">Time</text>
<text transform="translate(967.3 297.4) rotate(-90) scale(1 1.04)" text-anchor="middle" font-size="23.1" fill="#262626">V(t)</text>
<text transform="translate(1367.45 19.30) scale(1 1.01)" text-anchor="middle" font-size="22.3" font-weight="bold" letter-spacing="0.4" fill="#000">Proposed Method</text>
<rect x="1548.30" y="47.20" width="140.30" height="106.90" fill="#fff" stroke="#262626" stroke-width="1.05"/>
<circle cx="1585.6" cy="62.6" r="2.6" fill="#ff0000"/>
<text transform="translate(1621.20 70.60) scale(1 1.04)" font-size="18.5" fill="#000"><tspan font-family="'Liberation Serif', serif" font-style="italic" font-size="17.945">ω</tspan><tspan dx="-0.3">=1.0</tspan></text>
<circle cx="1585.6" cy="88.2" r="2.6" fill="#000000"/>
<text transform="translate(1621.20 96.15) scale(1 1.04)" font-size="18.5" fill="#000"><tspan font-family="'Liberation Serif', serif" font-style="italic" font-size="17.945">ω</tspan><tspan dx="-0.3">=0.95</tspan></text>
<circle cx="1585.6" cy="113.7" r="2.6" fill="#0000ff"/>
<text transform="translate(1621.20 121.70) scale(1 1.04)" font-size="18.5" fill="#000"><tspan font-family="'Liberation Serif', serif" font-style="italic" font-size="17.945">ω</tspan><tspan dx="-0.3">=0.90</tspan></text>
<circle cx="1585.6" cy="139.2" r="2.6" fill="#00ff00"/>
<text transform="translate(1621.20 147.25) scale(1 1.04)" font-size="18.5" fill="#000"><tspan font-family="'Liberation Serif', serif" font-style="italic" font-size="17.945">ω</tspan><tspan dx="-0.3">=0.85</tspan></text>
<path d="M161.38 688.70V1223.30M229.06 688.70V1223.30M296.74 688.70V1223.30M364.42 688.70V1223.30M432.10 688.70V1223.30M499.78 688.70V1223.30M567.46 688.70V1223.30M635.14 688.70V1223.30M702.82 688.70V1223.30M93.70 1134.20H770.50M93.70 1045.10H770.50M93.70 956.00H770.50M93.70 866.90H770.50M93.70 777.80H770.50" stroke="#dfdfdf" stroke-width="1" fill="none"/>
<clipPath id="clipI"><rect x="89.7" y="684.7" width="684.8" height="542.6"/></clipPath>
<g clip-path="url(#clipI)" fill="none" stroke-width="5.0" stroke-linecap="round" stroke-linejoin="round">
<path d="M97.0 1134.1h0M97.4 1129.1h0M97.7 1124.2h0M98.2 1118.2h0M98.5 1113.2h0M98.8 1108.3h0M99.2 1102.3h0M99.6 1096.3h0M100.0 1090.3h0M100.3 1084.3h0M100.8 1077.3h0M101.1 1071.3h0M101.5 1065.3h0M101.8 1059.3h0M102.2 1052.3h0M102.6 1046.3h0M103.0 1040.3h0M103.3 1034.3h0M103.7 1029.3h0M104.1 1023.3h0M104.4 1018.3h0M104.8 1013.3h0M105.2 1008.3h0M105.6 1003.4h0M105.9 999.4h0M106.3 994.4h0M106.7 990.4h0M107.0 986.4h0M107.4 982.4h0M107.8 978.4h0M108.2 974.5h0M108.5 971.5h0M108.9 967.5h0M109.3 964.5h0M109.6 961.5h0M110.0 958.6h0M110.3 955.6h0M110.7 952.6h0M111.1 949.7h0M111.5 946.7h0M111.9 943.7h0M112.3 940.8L112.4 939.8 112.6 938.8 112.7 937.8 112.9 936.8 113.0 935.8 113.1 934.8 113.3 933.8 113.4 932.9 113.6 931.9 113.7 930.9 113.9 929.9 114.1 928.9 114.2 927.9 114.4 926.9 114.5 926.0 114.7 925.0 114.8 924.0 115.0 923.0 115.2 922.0 115.3 921.0 115.5 920.1 115.7 919.1 115.8 918.1 116.0 917.1 116.2 916.1 116.4 915.2 116.5 914.2 116.7 913.2 116.9 912.2 117.1 911.2 117.3 910.3 117.4 909.3 117.6 908.3 117.8 907.3 118.0 906.3 118.2 905.4 118.4 904.4 118.6 903.4 118.8 902.4 119.0 901.5 119.2 900.5 119.4 899.5 119.6 898.5 119.8 897.6 120.0 896.6 120.2 895.6 120.4 894.6 120.6 893.7 120.8 892.7 121.0 891.7 121.2 890.7 121.5 889.8 121.7 888.8 121.9 887.8 122.1 886.8 122.3 885.9 122.6 884.9 122.8 883.9 123.0 883.0 123.2 882.0 123.5 881.0 123.7 880.1 123.9 879.1 124.2 878.1 124.4 877.1 124.7 876.2 124.9 875.2 125.2 874.2 125.4 873.3 125.7 872.3 125.9 871.3 126.2 870.4 126.4 869.4 126.7 868.4 126.9 867.5 127.2 866.5 127.5 865.6 127.7 864.6 128.0 863.6 128.3 862.7 128.5 861.7 128.8 860.7 129.1 859.8 129.4 858.8 129.6 857.9 129.9 856.9 130.2 855.9 130.5 855.0 130.8 854.0 131.1 853.1 131.4 852.1 131.6 851.2 131.9 850.2 132.2 849.2 132.5 848.3 132.8 847.3 133.1 846.4 133.5 845.4 133.8 844.5 134.1 843.5 134.4 842.6 134.7 841.6 135.0 840.6 135.3 839.7 135.7 838.7 136.0 837.8 136.3 836.8 136.7 835.9 137.0 834.9 137.3 834.0 137.7 833.0 138.0 832.0 138.4 831.1 138.7 830.1 139.1 829.2 139.4 828.2 139.8 827.3 140.1 826.3 140.5 825.3 140.9 824.4 141.2 823.4 141.6 822.5 142.0 821.5 142.3 820.5 142.7 819.6 143.1 818.6 143.5 817.6 143.9 816.7 144.3 815.7 144.7 814.7 145.1 813.8 145.5 812.8 145.9 811.9 146.3 810.9 146.8 810.0 147.2 809.0 147.6 808.1 148.1 807.2 148.5 806.2 149.0 805.3 149.5 804.4 150.0 803.5 150.4 802.6 150.9 801.7 151.4 800.8 151.9 799.9 152.5 799.1 153.0 798.2 153.5 797.4 154.1 796.5 154.6 795.7 155.2 794.9 155.8 794.1 156.4 793.3 157.0 792.5 157.6 791.7 158.2 791.0 158.8 790.2 159.5 789.5 160.2 788.8 160.8 788.1 161.5 787.4 162.2 786.7 162.9 786.1 163.6 785.4 164.4 784.8 165.1 784.2 165.9 783.6 166.7 783.1 167.5 782.5 168.3 782.0 169.1 781.4 169.9 780.9 170.7 780.4 171.6 780.0 172.4 779.5 173.3 779.1 174.1 778.7 175.0 778.3 175.9 777.9 176.8 777.5 177.7 777.2 178.6 776.9 179.5 776.6 180.4 776.3 181.4 776.0 182.3 775.8 183.2 775.6 184.2 775.3 185.1 775.2 186.1 775.0 187.0 774.8 188.0 774.7 189.0 774.6 190.0 774.5 190.9 774.4 191.9 774.4 192.9 774.4 193.9 774.4 194.9 774.4 195.9 774.4 196.8 774.5 197.8 774.5 198.8 774.6 199.8 774.7 200.8 774.9 201.8 775.0 202.8 775.2 203.8 775.3 204.8 775.5 205.8 775.7 206.8 775.9 207.8 776.2 208.8 776.4 209.8 776.7 210.8 777.0 211.8 777.2 212.8 777.5 213.8 777.8 214.8 778.2 215.8 778.5 216.8 778.8 217.8 779.2 218.8 779.5 219.7 779.9 220.7 780.3 221.7 780.7 222.7 781.1 223.6 781.5 224.6 781.9 225.6 782.3 226.5 782.7 227.5 783.2 228.5 783.6 229.4 784.0 230.4 784.5 231.3 784.9 232.2 785.4 233.2 785.8 234.1 786.3 235.0 786.7 235.9 787.2 236.8 787.7 237.8 788.2 238.7 788.6 239.6 789.1 240.5 789.6 241.4 790.1 242.3 790.6 243.1 791.1 244.0 791.6 244.9 792.1 245.8 792.6 246.7 793.2 247.5 793.7 248.4 794.2 249.3 794.7 250.1 795.3 251.0 795.8 251.8 796.3 252.7 796.9 253.5 797.4 254.4 798.0 255.2 798.5 256.1 799.1 256.9 799.6 257.7 800.2 258.6 800.7 259.4 801.3 260.2 801.9 261.0 802.5 261.8 803.0 262.7 803.6 263.5 804.2 264.3 804.8 265.1 805.4 265.9 805.9 266.7 806.5 267.5 807.1 268.3 807.7 269.1 808.3 269.9 808.9 270.7 809.5 271.5 810.1 272.3 810.7 273.0 811.3 273.8 811.9 274.6 812.6 275.4 813.2 276.2 813.8 276.9 814.4 277.7 815.0 278.5 815.7 279.3 816.3 280.0 816.9 280.8 817.5 281.6 818.2 282.3 818.8 283.1 819.4 283.9 820.1 284.6 820.7 285.4 821.3 286.2 822.0 286.9 822.6 287.7 823.3 288.4 823.9 289.2 824.5 289.9 825.2 290.7 825.8 291.4 826.5 292.2 827.1 293.0 827.8 293.7 828.4 294.5 829.1 295.2 829.7 296.0 830.4 296.7 831.0 297.5 831.7 298.2 832.3 299.0 833.0 299.7 833.7 300.4 834.3 301.2 835.0 301.9 835.6 302.7 836.3 303.4 836.9 304.2 837.6 304.9 838.3 305.7 838.9 306.4 839.6 307.2 840.2 307.9 840.9 308.6 841.6 309.4 842.2 310.1 842.9 310.9 843.5 311.6 844.2 312.4 844.9 313.1 845.5 313.8 846.2 314.6 846.9 315.3 847.5 316.1 848.2 316.8 848.9 317.5 849.5 318.3 850.2 319.0 850.9 319.8 851.5 320.5 852.2 321.2 852.9 322.0 853.6 322.7 854.2 323.5 854.9 324.2 855.6 324.9 856.2 325.7 856.9 326.4 857.6 327.1 858.3 327.9 858.9 328.6 859.6 329.4 860.3 330.1 861.0 330.8 861.6 331.6 862.3 332.3 863.0 333.0 863.7 333.8 864.3 334.5 865.0 335.2 865.7 336.0 866.4 336.7 867.0 337.5 867.7 338.2 868.4 338.9 869.1 339.7 869.7 340.4 870.4 341.1 871.1 341.9 871.8 342.6 872.4 343.3 873.1 344.1 873.8 344.8 874.5 345.5 875.1 346.3 875.8 347.0 876.5 347.7 877.2 348.5 877.9 349.2 878.5 349.9 879.2 350.7 879.9 351.4 880.6 352.2 881.2 352.9 881.9 353.6 882.6 354.4 883.3 355.1 884.0 355.8 884.6 356.6 885.3 357.3 886.0 358.0 886.7 358.8 887.4 359.5 888.0 360.2 888.7 361.0 889.4 361.7 890.1 362.4 890.7 363.2 891.4 363.9 892.1 364.7 892.8 365.4 893.4 366.1 894.1 366.9 894.8 367.6 895.5 368.3 896.2 369.1 896.8 369.8 897.5 370.6 898.2 371.3 898.9 372.0 899.5 372.8 900.2 373.5 900.9 374.2 901.6 375.0 902.2 375.7 902.9 376.5 903.6 377.2 904.3 377.9 904.9 378.7 905.6 379.4 906.3 380.1 907.0 380.9 907.6 381.6 908.3 382.4 909.0 383.1 909.6 383.8 910.3 384.6 911.0 385.3 911.7 386.1 912.3 386.8 913.0 387.5 913.7 388.3 914.4 389.0 915.0 389.8 915.7 390.5 916.4 391.2 917.0 392.0 917.7 392.7 918.4 393.5 919.1 394.2 919.7 395.0 920.4 395.7 921.1 396.4 921.7 397.2 922.4 397.9 923.1 398.7 923.8 399.4 924.4 400.2 925.1 400.9 925.8 401.6 926.4 402.4 927.1 403.1 927.8 403.9 928.4 404.6 929.1 405.4 929.8 406.1 930.5 406.8 931.1 407.6 931.8 408.3 932.5 409.1 933.1 409.8 933.8 410.6 934.5 411.3 935.1 412.1 935.8 412.8 936.5 413.5 937.1 414.3 937.8 415.0 938.5 415.8 939.1 416.5 939.8 417.3 940.5 418.0 941.1 418.8 941.8 419.5 942.5 420.3 943.1 421.0 943.8 421.7 944.5 422.5 945.1 423.2 945.8 424.0 946.5 424.7 947.1 425.5 947.8 426.2 948.4 427.0 949.1 427.7 949.8 428.5 950.4 429.2 951.1 430.0 951.8 430.7 952.4 431.5 953.1 432.2 953.8 433.0 954.4 433.7 955.1 434.5 955.7 435.2 956.4 436.0 957.1 436.7 957.7 437.5 958.4 438.2 959.1 439.0 959.7 439.7 960.4 440.5 961.0 441.2 961.7 442.0 962.4 442.7 963.0 443.5 963.7 444.2 964.3 445.0 965.0 445.7 965.7 446.5 966.3 447.2 967.0 448.0 967.6 448.7 968.3 449.5 969.0 450.2 969.6 451.0 970.3 451.7 970.9 452.5 971.6 453.2 972.3 454.0 972.9 454.8 973.6 455.5 974.2 456.3 974.9 457.0 975.5 457.8 976.2 458.5 976.9 459.3 977.5 460.0 978.2 460.8 978.8 461.5 979.5 462.3 980.1 463.1 980.8 463.8 981.4 464.6 982.1 465.3 982.8 466.1 983.4 466.8 984.1 467.6 984.7 468.3 985.4 469.1 986.0 469.9 986.7 470.6 987.3 471.4 988.0 472.1 988.6 472.9 989.3 473.6 990.0 474.4 990.6 475.2 991.3 475.9 991.9 476.7 992.6 477.4 993.2 478.2 993.9 478.9 994.5 479.7 995.2 480.5 995.8 481.2 996.5 482.0 997.1 482.7 997.8 483.5 998.4 484.3 999.1 485.0 999.7 485.8 1000.4 486.5 1001.0 487.3 1001.7 488.1 1002.3 488.8 1003.0 489.6 1003.6 490.3 1004.3 491.1 1004.9 491.9 1005.6 492.6 1006.2 493.4 1006.9 494.1 1007.5 494.9 1008.2 495.7 1008.8 496.4 1009.5 497.2 1010.1 498.0 1010.8 498.7 1011.4 499.5 1012.0 500.2 1012.7 501.0 1013.3 501.8 1014.0 502.5 1014.6 503.3 1015.3 504.1 1015.9 504.8 1016.6 505.6 1017.2 506.4 1017.9 507.1 1018.5 507.9 1019.1 508.6 1019.8 509.4 1020.4 510.2 1021.1 510.9 1021.7 511.7 1022.4 512.5 1023.0 513.2 1023.6 514.0 1024.3 514.8 1024.9 515.5 1025.6 516.3 1026.2 517.1 1026.9 517.8 1027.5 518.6 1028.1 519.4 1028.8 520.1 1029.4 520.9 1030.1 521.7 1030.7 522.4 1031.3 523.2 1032.0 524.0 1032.6 524.7 1033.3 525.5 1033.9 526.3 1034.5 527.0 1035.2 527.8 1035.8 528.6 1036.5 529.4 1037.1 530.1 1037.7 530.9 1038.4 531.7 1039.0 532.4 1039.7 533.2 1040.3 534.0 1040.9 534.7 1041.6 535.5 1042.2 536.3 1042.8 537.1 1043.5 537.8 1044.1 538.6 1044.7 539.4 1045.4 540.1 1046.0 540.9 1046.7 541.7 1047.3 542.5 1047.9 543.2 1048.6 544.0 1049.2 544.8 1049.8 545.6 1050.5 546.3 1051.1 547.1 1051.7 547.9 1052.4 548.6 1053.0 549.4 1053.6 550.2 1054.3 551.0 1054.9 551.7 1055.5 552.5 1056.2 553.3 1056.8 554.1 1057.4 554.8 1058.0 555.6 1058.7 556.4 1059.3 557.2 1059.9 557.9 1060.6 558.7 1061.2 559.5 1061.8 560.3 1062.5 561.0 1063.1 561.8 1063.7 562.6 1064.3 563.4 1065.0 564.2 1065.6 564.9 1066.2 565.7 1066.9 566.5 1067.5 567.3 1068.1 568.0 1068.7 568.8 1069.4 569.6 1070.0 570.4 1070.6 571.2 1071.3 571.9 1071.9 572.7 1072.5 573.5 1073.1 574.3 1073.8 575.1 1074.4 575.8 1075.0 576.6 1075.6 577.4 1076.3 578.2 1076.9 579.0 1077.5 579.7 1078.1 580.5 1078.8 581.3 1079.4 582.1 1080.0 582.9 1080.6 583.6 1081.2 584.4 1081.9 585.2 1082.5 586.0 1083.1 586.8 1083.7 587.6 1084.4 588.3 1085.0 589.1 1085.6 589.9 1086.2 590.7 1086.8 591.5 1087.5 592.3 1088.1 593.0 1088.7 593.8 1089.3 594.6 1089.9 595.4 1090.6 596.2 1091.2 597.0 1091.8 597.8 1092.4 598.5 1093.0 599.3 1093.6 600.1 1094.3 600.9 1094.9 601.7 1095.5 602.5 1096.1 603.3 1096.7 604.0 1097.3 604.8 1098.0 605.6 1098.6 606.4 1099.2 607.2 1099.8 608.0 1100.4 608.8 1101.0 609.6 1101.7 610.3 1102.3 611.1 1102.9 611.9 1103.5 612.7 1104.1 613.5 1104.7 614.3 1105.3 615.1 1105.9 615.9 1106.6 616.7 1107.2 617.4 1107.8 618.2 1108.4 619.0 1109.0 619.8 1109.6 620.6 1110.2 621.4 1110.8 622.2 1111.5 623.0 1112.1 623.8 1112.7 624.6 1113.3 625.4 1113.9 626.2 1114.5 626.9 1115.1 627.7 1115.7 628.5 1116.3 629.3 1116.9 630.1 1117.5 630.9 1118.2 631.7 1118.8 632.5 1119.4 633.3 1120.0 634.1 1120.6 634.9 1121.2 635.7 1121.8 636.5 1122.4 637.3 1123.0 638.1 1123.6 638.9 1124.2 639.6 1124.8 640.4 1125.4 641.2 1126.0 642.0 1126.6 642.8 1127.2 643.6 1127.8 644.4 1128.4 645.2 1129.0 646.0 1129.6 646.8 1130.2 647.6 1130.9 648.4 1131.5 649.2 1132.1 650.0 1132.7 650.8 1133.3 651.6 1133.9 652.4 1134.5 653.2 1135.1 654.0 1135.7 654.8 1136.3 655.6 1136.9 656.4 1137.5 657.2 1138.1 658.0 1138.7 658.8 1139.3 659.6 1139.9 660.4 1140.4 661.2 1141.0 662.0 1141.6 662.8 1142.2 663.6 1142.8 664.4 1143.4 665.2 1144.0 666.0 1144.6 666.8 1145.2 667.6 1145.8 668.4 1146.4 669.2 1147.0 670.0 1147.6 670.8 1148.2 671.6 1148.8 672.4 1149.4 673.2 1150.0 674.1 1150.6 674.9 1151.2 675.7 1151.8 676.5 1152.3 677.3 1152.9 678.1 1153.5 678.9 1154.1 679.7 1154.7 680.5 1155.3 681.3 1155.9 682.1 1156.5 682.9 1157.1 683.7 1157.7 684.5 1158.3 685.3 1158.8 686.1 1159.4 687.0 1160.0 687.8 1160.6 688.6 1161.2 689.4 1161.8 690.2 1162.4 691.0 1163.0 691.8 1163.5 692.6 1164.1 693.4 1164.7 694.2 1165.3 695.0 1165.9 695.9 1166.5 696.7 1167.1 697.5 1167.6 698.3 1168.2 699.1 1168.8 699.9 1169.4 700.7 1170.0 701.5 1170.6 702.3 1171.1 703.2 1171.7 704.0 1172.3 704.8 1172.9 705.6 1173.5 706.4 1174.1 707.2 1174.6 708.0 1175.2 708.8 1175.8 709.7 1176.4 710.5 1177.0 711.3 1177.5 712.1 1178.1 712.9 1178.7 713.7 1179.3 714.5 1179.9 715.4 1180.4 716.2 1181.0 717.0 1181.6 717.8 1182.2 718.6 1182.8 719.4 1183.3 720.3 1183.9 721.1 1184.5 721.9 1185.1 722.7 1185.6 723.5 1186.2 724.3 1186.8 725.2 1187.4 726.0 1187.9 726.8 1188.5 727.6 1189.1 728.4 1189.7 729.3 1190.2 730.1 1190.8 730.9 1191.4 731.7 1191.9 732.5 1192.5 733.4 1193.1 734.2 1193.7 735.0 1194.2 735.8 1194.8 736.6 1195.4 737.5 1195.9 738.3 1196.5 739.1 1197.1 739.9 1197.7 740.7 1198.2 741.6 1198.8 742.4 1199.4 743.2 1199.9 744.0 1200.5 744.9 1201.1 745.7 1201.6 746.5 1202.2 747.3 1202.8 748.2 1203.3 749.0 1203.9 749.8 1204.5 750.6 1205.0 751.5 1205.6 752.3 1206.2 753.1 1206.7 753.9 1207.3 754.8 1207.8 755.6 1208.4 756.4 1209.0 757.2 1209.5 758.1 1210.1 758.9 1210.7 759.7 1211.2 760.5 1211.8 761.4 1212.3 762.2 1212.9 763.0 1213.5 763.9 1214.0 764.7 1214.6 765.5 1215.1 766.3 1215.7 767.2 1216.3 768.0 1216.8 768.8 1217.4 769.7 1217.9 770.5 1218.5" stroke="#ff0000"/>
<path d="M97.0 1134.1h0M97.4 1127.1h0M97.7 1120.1h0M98.1 1113.1h0M98.5 1106.1h0M98.9 1099.1h0M99.2 1092.2h0M99.6 1085.2h0M100.0 1078.2h0M100.3 1072.2h0M100.8 1065.2h0M101.1 1059.2h0M101.5 1053.2h0M101.9 1047.2h0M102.2 1042.3h0M102.6 1036.3h0M102.9 1031.3h0M103.3 1026.3h0M103.7 1021.3h0M104.1 1016.3h0M104.5 1011.4h0M104.8 1007.4h0M105.2 1002.4h0M105.6 998.4h0M105.9 994.4h0M106.3 990.4h0M106.7 986.5h0M107.1 982.5h0M107.4 979.5h0M107.8 975.5h0M108.1 972.5h0M108.5 968.5h0M108.9 965.6h0M109.2 962.6h0M109.7 958.6h0M110.0 955.6h0M110.4 952.6h0M110.8 949.7h0M111.2 946.7L111.3 945.7 111.4 944.7 111.6 943.7 111.7 942.7 111.8 941.7 112.0 940.7 112.1 939.7 112.2 938.7 112.4 937.7 112.5 936.7 112.7 935.7 112.8 934.8 113.0 933.8 113.1 932.8 113.3 931.8 113.4 930.8 113.6 929.8 113.7 928.8 113.9 927.8 114.0 926.8 114.2 925.8 114.3 924.8 114.5 923.9 114.7 922.9 114.8 921.9 115.0 920.9 115.2 919.9 115.3 918.9 115.5 917.9 115.7 917.0 115.9 916.0 116.0 915.0 116.2 914.0 116.4 913.0 116.6 912.0 116.8 911.1 117.0 910.1 117.1 909.1 117.3 908.1 117.5 907.1 117.7 906.2 117.9 905.2 118.1 904.2 118.4 903.2 118.6 902.3 118.8 901.3 119.0 900.3 119.2 899.3 119.4 898.4 119.6 897.4 119.9 896.4 120.1 895.4 120.3 894.5 120.6 893.5 120.8 892.5 121.0 891.6 121.3 890.6 121.5 889.6 121.8 888.7 122.0 887.7 122.3 886.8 122.5 885.8 122.8 884.8 123.1 883.9 123.3 882.9 123.6 882.0 123.9 881.0 124.2 880.1 124.4 879.1 124.7 878.1 125.0 877.2 125.3 876.2 125.6 875.3 125.9 874.3 126.2 873.4 126.5 872.5 126.8 871.5 127.1 870.6 127.4 869.6 127.8 868.7 128.1 867.7 128.4 866.8 128.7 865.9 129.1 864.9 129.4 864.0 129.8 863.1 130.1 862.1 130.5 861.2 130.8 860.3 131.2 859.3 131.5 858.4 131.9 857.5 132.3 856.6 132.6 855.6 133.0 854.7 133.4 853.8 133.8 852.8 134.1 851.9 134.5 851.0 134.9 850.1 135.3 849.1 135.7 848.2 136.1 847.3 136.5 846.4 136.9 845.4 137.3 844.5 137.7 843.6 138.1 842.6 138.5 841.7 138.9 840.8 139.4 839.9 139.8 838.9 140.2 838.0 140.6 837.1 141.1 836.1 141.5 835.2 141.9 834.3 142.4 833.3 142.8 832.4 143.2 831.5 143.7 830.5 144.1 829.6 144.6 828.7 145.0 827.7 145.5 826.8 145.9 825.9 146.4 825.0 146.9 824.1 147.4 823.1 147.9 822.2 148.3 821.3 148.8 820.4 149.3 819.6 149.9 818.7 150.4 817.8 150.9 816.9 151.4 816.1 152.0 815.2 152.5 814.4 153.1 813.5 153.6 812.7 154.2 811.9 154.8 811.1 155.4 810.3 156.0 809.5 156.6 808.7 157.2 807.9 157.8 807.2 158.5 806.4 159.1 805.7 159.8 805.0 160.5 804.3 161.2 803.6 161.9 802.9 162.6 802.3 163.3 801.6 164.0 801.0 164.8 800.4 165.5 799.8 166.3 799.2 167.1 798.6 167.9 798.1 168.7 797.5 169.5 797.0 170.3 796.5 171.1 796.0 172.0 795.6 172.8 795.1 173.7 794.7 174.5 794.2 175.4 793.8 176.3 793.4 177.2 793.1 178.1 792.7 179.0 792.4 179.9 792.0 180.8 791.7 181.7 791.4 182.7 791.2 183.6 790.9 184.6 790.7 185.5 790.4 186.5 790.2 187.4 790.1 188.4 789.9 189.4 789.7 190.3 789.6 191.3 789.5 192.3 789.4 193.3 789.3 194.3 789.2 195.3 789.2 196.3 789.2 197.2 789.2 198.2 789.2 199.3 789.2 200.3 789.2 201.3 789.3 202.3 789.4 203.3 789.4 204.3 789.5 205.3 789.7 206.3 789.8 207.3 789.9 208.3 790.1 209.4 790.3 210.4 790.5 211.4 790.6 212.4 790.9 213.4 791.1 214.4 791.3 215.4 791.5 216.4 791.8 217.5 792.1 218.5 792.3 219.5 792.6 220.5 792.9 221.5 793.2 222.5 793.5 223.5 793.8 224.5 794.1 225.5 794.5 226.4 794.8 227.4 795.1 228.4 795.5 229.4 795.8 230.4 796.2 231.3 796.6 232.3 796.9 233.3 797.3 234.2 797.7 235.2 798.0 236.1 798.4 237.1 798.8 238.0 799.2 239.0 799.6 239.9 800.0 240.8 800.4 241.8 800.8 242.7 801.3 243.6 801.7 244.5 802.1 245.5 802.5 246.4 803.0 247.3 803.4 248.2 803.9 249.1 804.3 250.0 804.8 250.9 805.2 251.8 805.7 252.7 806.1 253.6 806.6 254.5 807.1 255.4 807.5 256.3 808.0 257.1 808.5 258.0 809.0 258.9 809.4 259.8 809.9 260.6 810.4 261.5 810.9 262.4 811.4 263.2 811.9 264.1 812.4 265.0 812.9 265.8 813.4 266.7 813.9 267.5 814.5 268.4 815.0 269.2 815.5 270.1 816.0 270.9 816.5 271.8 817.1 272.6 817.6 273.5 818.1 274.3 818.7 275.1 819.2 276.0 819.7 276.8 820.3 277.7 820.8 278.5 821.4 279.3 821.9 280.2 822.4 281.0 823.0 281.8 823.5 282.6 824.1 283.5 824.6 284.3 825.2 285.1 825.8 285.9 826.3 286.8 826.9 287.6 827.4 288.4 828.0 289.2 828.6 290.1 829.1 290.9 829.7 291.7 830.2 292.5 830.8 293.3 831.4 294.1 831.9 295.0 832.5 295.8 833.1 296.6 833.6 297.4 834.2 298.2 834.8 299.0 835.4 299.9 835.9 300.7 836.5 301.5 837.1 302.3 837.6 303.1 838.2 303.9 838.8 304.7 839.4 305.6 839.9 306.4 840.5 307.2 841.1 308.0 841.7 308.8 842.2 309.6 842.8 310.4 843.4 311.2 844.0 312.1 844.5 312.9 845.1 313.7 845.7 314.5 846.3 315.3 846.9 316.1 847.4 316.9 848.0 317.7 848.6 318.5 849.2 319.4 849.8 320.2 850.3 321.0 850.9 321.8 851.5 322.6 852.1 323.4 852.7 324.2 853.3 325.0 853.8 325.8 854.4 326.6 855.0 327.4 855.6 328.3 856.2 329.1 856.8 329.9 857.3 330.7 857.9 331.5 858.5 332.3 859.1 333.1 859.7 333.9 860.3 334.7 860.9 335.5 861.5 336.3 862.0 337.1 862.6 337.9 863.2 338.7 863.8 339.5 864.4 340.4 865.0 341.2 865.6 342.0 866.2 342.8 866.8 343.6 867.3 344.4 867.9 345.2 868.5 346.0 869.1 346.8 869.7 347.6 870.3 348.4 870.9 349.2 871.5 350.0 872.1 350.8 872.7 351.6 873.3 352.4 873.9 353.2 874.4 354.0 875.0 354.8 875.6 355.7 876.2 356.5 876.8 357.3 877.4 358.1 878.0 358.9 878.6 359.7 879.2 360.5 879.8 361.3 880.4 362.1 881.0 362.9 881.6 363.7 882.2 364.5 882.8 365.3 883.3 366.1 883.9 366.9 884.5 367.7 885.1 368.5 885.7 369.3 886.3 370.1 886.9 370.9 887.5 371.7 888.1 372.5 888.7 373.3 889.3 374.1 889.9 374.9 890.5 375.7 891.1 376.6 891.7 377.4 892.3 378.2 892.9 379.0 893.5 379.8 894.1 380.6 894.7 381.4 895.3 382.2 895.9 383.0 896.4 383.8 897.0 384.6 897.6 385.4 898.2 386.2 898.8 387.0 899.4 387.8 900.0 388.6 900.6 389.4 901.2 390.2 901.8 391.0 902.4 391.8 903.0 392.6 903.6 393.4 904.2 394.2 904.8 395.0 905.4 395.8 906.0 396.7 906.6 397.5 907.2 398.3 907.8 399.1 908.4 399.9 908.9 400.7 909.5 401.5 910.1 402.3 910.7 403.1 911.3 403.9 911.9 404.7 912.5 405.5 913.1 406.3 913.7 407.1 914.3 407.9 914.9 408.7 915.5 409.5 916.1 410.4 916.7 411.2 917.3 412.0 917.8 412.8 918.4 413.6 919.0 414.4 919.6 415.2 920.2 416.0 920.8 416.8 921.4 417.6 922.0 418.4 922.6 419.2 923.2 420.0 923.8 420.8 924.3 421.7 924.9 422.5 925.5 423.3 926.1 424.1 926.7 424.9 927.3 425.7 927.9 426.5 928.5 427.3 929.1 428.1 929.6 428.9 930.2 429.8 930.8 430.6 931.4 431.4 932.0 432.2 932.6 433.0 933.2 433.8 933.8 434.6 934.3 435.4 934.9 436.2 935.5 437.1 936.1 437.9 936.7 438.7 937.3 439.5 937.8 440.3 938.4 441.1 939.0 441.9 939.6 442.7 940.2 443.6 940.8 444.4 941.3 445.2 941.9 446.0 942.5 446.8 943.1 447.6 943.7 448.4 944.2 449.3 944.8 450.1 945.4 450.9 946.0 451.7 946.6 452.5 947.1 453.3 947.7 454.2 948.3 455.0 948.9 455.8 949.5 456.6 950.0 457.4 950.6 458.2 951.2 459.1 951.8 459.9 952.3 460.7 952.9 461.5 953.5 462.3 954.1 463.1 954.6 464.0 955.2 464.8 955.8 465.6 956.4 466.4 956.9 467.2 957.5 468.1 958.1 468.9 958.7 469.7 959.2 470.5 959.8 471.3 960.4 472.2 960.9 473.0 961.5 473.8 962.1 474.6 962.7 475.4 963.2 476.3 963.8 477.1 964.4 477.9 964.9 478.7 965.5 479.6 966.1 480.4 966.7 481.2 967.2 482.0 967.8 482.8 968.4 483.7 968.9 484.5 969.5 485.3 970.1 486.1 970.6 487.0 971.2 487.8 971.8 488.6 972.3 489.4 972.9 490.3 973.5 491.1 974.0 491.9 974.6 492.7 975.2 493.6 975.7 494.4 976.3 495.2 976.9 496.0 977.4 496.9 978.0 497.7 978.5 498.5 979.1 499.3 979.7 500.2 980.2 501.0 980.8 501.8 981.4 502.7 981.9 503.5 982.5 504.3 983.0 505.1 983.6 506.0 984.2 506.8 984.7 507.6 985.3 508.5 985.8 509.3 986.4 510.1 987.0 510.9 987.5 511.8 988.1 512.6 988.6 513.4 989.2 514.3 989.8 515.1 990.3 515.9 990.9 516.7 991.4 517.6 992.0 518.4 992.5 519.2 993.1 520.1 993.7 520.9 994.2 521.7 994.8 522.6 995.3 523.4 995.9 524.2 996.4 525.1 997.0 525.9 997.5 526.7 998.1 527.6 998.6 528.4 999.2 529.2 999.8 530.1 1000.3 530.9 1000.9 531.7 1001.4 532.6 1002.0 533.4 1002.5 534.2 1003.1 535.1 1003.6 535.9 1004.2 536.7 1004.7 537.6 1005.3 538.4 1005.8 539.2 1006.4 540.1 1006.9 540.9 1007.5 541.7 1008.0 542.6 1008.6 543.4 1009.1 544.2 1009.7 545.1 1010.2 545.9 1010.8 546.7 1011.3 547.6 1011.9 548.4 1012.4 549.3 1013.0 550.1 1013.5 550.9 1014.1 551.8 1014.6 552.6 1015.1 553.4 1015.7 554.3 1016.2 555.1 1016.8 556.0 1017.3 556.8 1017.9 557.6 1018.4 558.5 1019.0 559.3 1019.5 560.1 1020.1 561.0 1020.6 561.8 1021.1 562.7 1021.7 563.5 1022.2 564.3 1022.8 565.2 1023.3 566.0 1023.9 566.9 1024.4 567.7 1024.9 568.5 1025.5 569.4 1026.0 570.2 1026.6 571.1 1027.1 571.9 1027.6 572.7 1028.2 573.6 1028.7 574.4 1029.3 575.3 1029.8 576.1 1030.3 577.0 1030.9 577.8 1031.4 578.6 1032.0 579.5 1032.5 580.3 1033.0 581.2 1033.6 582.0 1034.1 582.9 1034.7 583.7 1035.2 584.5 1035.7 585.4 1036.3 586.2 1036.8 587.1 1037.3 587.9 1037.9 588.8 1038.4 589.6 1038.9 590.4 1039.5 591.3 1040.0 592.1 1040.6 593.0 1041.1 593.8 1041.6 594.7 1042.2 595.5 1042.7 596.4 1043.2 597.2 1043.8 598.1 1044.3 598.9 1044.8 599.7 1045.4 600.6 1045.9 601.4 1046.4 602.3 1047.0 603.1 1047.5 604.0 1048.0 604.8 1048.6 605.7 1049.1 606.5 1049.6 607.4 1050.2 608.2 1050.7 609.1 1051.2 609.9 1051.7 610.8 1052.3 611.6 1052.8 612.4 1053.3 613.3 1053.9 614.1 1054.4 615.0 1054.9 615.8 1055.5 616.7 1056.0 617.5 1056.5 618.4 1057.0 619.2 1057.6 620.1 1058.1 620.9 1058.6 621.8 1059.1 622.6 1059.7 623.5 1060.2 624.3 1060.7 625.2 1061.3 626.0 1061.8 626.9 1062.3 627.7 1062.8 628.6 1063.4 629.4 1063.9 630.3 1064.4 631.1 1064.9 632.0 1065.5 632.8 1066.0 633.7 1066.5 634.5 1067.0 635.4 1067.6 636.2 1068.1 637.1 1068.6 637.9 1069.1 638.8 1069.7 639.7 1070.2 640.5 1070.7 641.4 1071.2 642.2 1071.7 643.1 1072.3 643.9 1072.8 644.8 1073.3 645.6 1073.8 646.5 1074.4 647.3 1074.9 648.2 1075.4 649.0 1075.9 649.9 1076.4 650.7 1077.0 651.6 1077.5 652.5 1078.0 653.3 1078.5 654.2 1079.0 655.0 1079.6 655.9 1080.1 656.7 1080.6 657.6 1081.1 658.4 1081.6 659.3 1082.1 660.1 1082.7 661.0 1083.2 661.9 1083.7 662.7 1084.2 663.6 1084.7 664.4 1085.3 665.3 1085.8 666.1 1086.3 667.0 1086.8 667.8 1087.3 668.7 1087.8 669.6 1088.4 670.4 1088.9 671.3 1089.4 672.1 1089.9 673.0 1090.4 673.8 1090.9 674.7 1091.4 675.6 1092.0 676.4 1092.5 677.3 1093.0 678.1 1093.5 679.0 1094.0 679.8 1094.5 680.7 1095.0 681.6 1095.6 682.4 1096.1 683.3 1096.6 684.1 1097.1 685.0 1097.6 685.9 1098.1 686.7 1098.6 687.6 1099.1 688.4 1099.7 689.3 1100.2 690.1 1100.7 691.0 1101.2 691.9 1101.7 692.7 1102.2 693.6 1102.7 694.4 1103.2 695.3 1103.7 696.2 1104.3 697.0 1104.8 697.9 1105.3 698.7 1105.8 699.6 1106.3 700.5 1106.8 701.3 1107.3 702.2 1107.8 703.0 1108.3 703.9 1108.8 704.8 1109.4 705.6 1109.9 706.5 1110.4 707.4 1110.9 708.2 1111.4 709.1 1111.9 709.9 1112.4 710.8 1112.9 711.7 1113.4 712.5 1113.9 713.4 1114.4 714.3 1114.9 715.1 1115.4 716.0 1115.9 716.8 1116.5 717.7 1117.0 718.6 1117.5 719.4 1118.0 720.3 1118.5 721.2 1119.0 722.0 1119.5 722.9 1120.0 723.7 1120.5 724.6 1121.0 725.5 1121.5 726.3 1122.0 727.2 1122.5 728.1 1123.0 728.9 1123.5 729.8 1124.0 730.7 1124.5 731.5 1125.0 732.4 1125.5 733.2 1126.0 734.1 1126.5 735.0 1127.0 735.8 1127.5 736.7 1128.0 737.6 1128.5 738.4 1129.0 739.3 1129.5 740.2 1130.0 741.0 1130.5 741.9 1131.1 742.8 1131.6 743.6 1132.1 744.5 1132.6 745.4 1133.1 746.2 1133.6 747.1 1134.1 748.0 1134.6 748.8 1135.1 749.7 1135.6 750.6 1136.1 751.4 1136.6 752.3 1137.1 753.2 1137.6 754.0 1138.1 754.9 1138.5 755.8 1139.0 756.6 1139.5 757.5 1140.0 758.4 1140.5 759.2 1141.0 760.1 1141.5 761.0 1142.0 761.8 1142.5 762.7 1143.0 763.6 1143.5 764.4 1144.0 765.3 1144.5 766.2 1145.0 767.0 1145.5 767.9 1146.0 768.8 1146.5 769.6 1147.0 770.5 1147.5" stroke="#000000"/>
<path d="M97.0 1134.1h0M97.4 1124.1h0M97.7 1116.1h0M98.1 1107.1h0M98.5 1099.1h0M98.9 1091.1h0M99.2 1083.2h0M99.6 1076.2h0M100.0 1069.2h0M100.4 1062.2h0M100.7 1056.2h0M101.1 1050.2h0M101.5 1044.3h0M101.9 1038.3h0M102.2 1033.3h0M102.6 1028.3h0M102.9 1023.3h0M103.3 1018.4h0M103.7 1014.4h0M104.1 1009.4h0M104.4 1005.4h0M104.8 1001.4h0M105.2 996.5h0M105.6 992.5h0M105.9 989.5h0M106.3 985.5h0M106.7 981.5h0M107.0 978.6h0M107.4 974.6h0M107.8 971.6h0M108.1 968.6h0M108.6 964.6h0M108.9 961.7h0M109.3 958.7h0M109.7 955.7h0M110.0 952.7h0M110.4 949.7L110.6 948.7 110.7 947.7 110.8 946.8 111.0 945.8 111.1 944.8 111.2 943.8 111.4 942.8 111.5 941.8 111.6 940.8 111.8 939.8 111.9 938.8 112.1 937.8 112.2 936.8 112.4 935.8 112.5 934.8 112.7 933.9 112.8 932.9 113.0 931.9 113.1 930.9 113.3 929.9 113.4 928.9 113.6 927.9 113.8 926.9 113.9 925.9 114.1 925.0 114.3 924.0 114.4 923.0 114.6 922.0 114.8 921.0 114.9 920.0 115.1 919.0 115.3 918.1 115.5 917.1 115.7 916.1 115.9 915.1 116.1 914.1 116.2 913.1 116.4 912.2 116.6 911.2 116.8 910.2 117.0 909.2 117.3 908.3 117.5 907.3 117.7 906.3 117.9 905.3 118.1 904.4 118.3 903.4 118.5 902.4 118.8 901.4 119.0 900.5 119.2 899.5 119.5 898.5 119.7 897.6 120.0 896.6 120.2 895.6 120.5 894.7 120.7 893.7 121.0 892.7 121.2 891.8 121.5 890.8 121.7 889.9 122.0 888.9 122.3 888.0 122.6 887.0 122.9 886.0 123.1 885.1 123.4 884.1 123.7 883.2 124.0 882.2 124.3 881.3 124.6 880.3 124.9 879.4 125.2 878.5 125.6 877.5 125.9 876.6 126.2 875.6 126.5 874.7 126.9 873.8 127.2 872.8 127.6 871.9 127.9 871.0 128.3 870.0 128.6 869.1 129.0 868.2 129.3 867.2 129.7 866.3 130.1 865.4 130.5 864.5 130.8 863.5 131.2 862.6 131.6 861.7 132.0 860.8 132.4 859.9 132.8 859.0 133.3 858.1 133.7 857.2 134.1 856.3 134.5 855.3 135.0 854.4 135.4 853.5 135.8 852.6 136.3 851.8 136.7 850.9 137.2 850.0 137.7 849.1 138.1 848.2 138.6 847.3 139.1 846.4 139.6 845.5 140.1 844.7 140.6 843.8 141.1 842.9 141.6 842.0 142.1 841.2 142.6 840.3 143.1 839.4 143.6 838.6 144.2 837.7 144.7 836.9 145.2 836.0 145.8 835.1 146.4 834.3 146.9 833.5 147.5 832.6 148.1 831.8 148.6 830.9 149.2 830.1 149.8 829.3 150.4 828.5 151.0 827.7 151.6 826.9 152.3 826.1 152.9 825.3 153.5 824.5 154.2 823.7 154.8 823.0 155.5 822.2 156.2 821.5 156.8 820.8 157.5 820.0 158.2 819.3 158.9 818.6 159.7 818.0 160.4 817.3 161.1 816.6 161.9 816.0 162.6 815.4 163.4 814.8 164.2 814.2 165.0 813.6 165.8 813.0 166.6 812.5 167.4 811.9 168.3 811.4 169.1 810.9 170.0 810.4 170.8 810.0 171.7 809.5 172.6 809.1 173.4 808.6 174.3 808.2 175.2 807.8 176.1 807.4 177.0 807.1 178.0 806.7 178.9 806.4 179.8 806.0 180.8 805.7 181.7 805.5 182.7 805.2 183.6 804.9 184.6 804.7 185.5 804.4 186.5 804.2 187.5 804.0 188.4 803.9 189.4 803.7 190.4 803.6 191.4 803.4 192.4 803.3 193.4 803.2 194.4 803.1 195.4 803.1 196.4 803.0 197.4 803.0 198.4 803.0 199.4 803.0 200.4 803.0 201.4 803.0 202.4 803.0 203.4 803.1 204.4 803.2 205.4 803.3 206.4 803.3 207.4 803.5 208.4 803.6 209.4 803.7 210.5 803.9 211.5 804.0 212.5 804.2 213.5 804.4 214.5 804.6 215.5 804.8 216.5 805.0 217.5 805.2 218.5 805.4 219.5 805.6 220.5 805.9 221.5 806.1 222.5 806.4 223.5 806.6 224.5 806.9 225.5 807.2 226.5 807.5 227.5 807.8 228.5 808.0 229.5 808.3 230.5 808.6 231.4 808.9 232.4 809.2 233.4 809.5 234.4 809.9 235.3 810.2 236.3 810.5 237.3 810.8 238.2 811.1 239.2 811.5 240.1 811.8 241.1 812.1 242.0 812.5 243.0 812.8 243.9 813.2 244.9 813.5 245.8 813.9 246.8 814.2 247.7 814.6 248.7 815.0 249.6 815.3 250.5 815.7 251.5 816.1 252.4 816.4 253.3 816.8 254.3 817.2 255.2 817.6 256.1 818.0 257.0 818.3 257.9 818.7 258.9 819.1 259.8 819.5 260.7 819.9 261.6 820.3 262.5 820.7 263.4 821.1 264.3 821.5 265.2 821.9 266.2 822.4 267.1 822.8 268.0 823.2 268.9 823.6 269.8 824.0 270.7 824.5 271.6 824.9 272.5 825.3 273.4 825.7 274.3 826.2 275.1 826.6 276.0 827.0 276.9 827.5 277.8 827.9 278.7 828.3 279.6 828.8 280.5 829.2 281.4 829.7 282.3 830.1 283.2 830.6 284.0 831.0 284.9 831.5 285.8 831.9 286.7 832.4 287.6 832.8 288.5 833.3 289.3 833.7 290.2 834.2 291.1 834.6 292.0 835.1 292.9 835.6 293.7 836.0 294.6 836.5 295.5 836.9 296.4 837.4 297.2 837.9 298.1 838.3 299.0 838.8 299.9 839.3 300.8 839.7 301.6 840.2 302.5 840.7 303.4 841.1 304.3 841.6 305.1 842.1 306.0 842.5 306.9 843.0 307.8 843.5 308.6 844.0 309.5 844.4 310.4 844.9 311.3 845.4 312.1 845.9 313.0 846.3 313.9 846.8 314.7 847.3 315.6 847.8 316.5 848.2 317.4 848.7 318.2 849.2 319.1 849.7 320.0 850.2 320.8 850.7 321.7 851.1 322.6 851.6 323.5 852.1 324.3 852.6 325.2 853.1 326.1 853.6 326.9 854.0 327.8 854.5 328.7 855.0 329.6 855.5 330.4 856.0 331.3 856.5 332.2 857.0 333.0 857.5 333.9 857.9 334.8 858.4 335.6 858.9 336.5 859.4 337.4 859.9 338.2 860.4 339.1 860.9 340.0 861.4 340.8 861.9 341.7 862.4 342.6 862.9 343.4 863.4 344.3 863.8 345.2 864.3 346.0 864.8 346.9 865.3 347.8 865.8 348.6 866.3 349.5 866.8 350.4 867.3 351.2 867.8 352.1 868.3 353.0 868.8 353.8 869.3 354.7 869.8 355.6 870.3 356.4 870.8 357.3 871.3 358.2 871.8 359.0 872.3 359.9 872.8 360.8 873.3 361.6 873.8 362.5 874.3 363.4 874.8 364.2 875.3 365.1 875.8 365.9 876.3 366.8 876.8 367.7 877.3 368.5 877.8 369.4 878.3 370.3 878.8 371.1 879.3 372.0 879.8 372.9 880.3 373.7 880.8 374.6 881.3 375.5 881.8 376.3 882.3 377.2 882.8 378.0 883.3 378.9 883.9 379.8 884.4 380.6 884.9 381.5 885.4 382.4 885.9 383.2 886.4 384.1 886.9 385.0 887.4 385.8 887.9 386.7 888.4 387.6 888.9 388.4 889.4 389.3 889.9 390.1 890.4 391.0 890.9 391.9 891.4 392.7 891.9 393.6 892.4 394.5 892.9 395.3 893.4 396.2 893.9 397.1 894.4 397.9 894.9 398.8 895.5 399.7 896.0 400.5 896.5 401.4 897.0 402.3 897.5 403.1 898.0 404.0 898.5 404.8 899.0 405.7 899.5 406.6 900.0 407.4 900.5 408.3 901.0 409.2 901.5 410.0 902.0 410.9 902.5 411.8 903.0 412.6 903.5 413.5 904.0 414.4 904.5 415.2 905.0 416.1 905.5 417.0 906.0 417.8 906.5 418.7 907.0 419.6 907.5 420.4 908.0 421.3 908.5 422.2 909.0 423.0 909.5 423.9 910.0 424.8 910.5 425.6 911.0 426.5 911.5 427.4 912.0 428.2 912.5 429.1 913.0 430.0 913.5 430.8 914.0 431.7 914.5 432.6 915.0 433.5 915.5 434.3 916.0 435.2 916.5 436.1 917.0 436.9 917.5 437.8 918.0 438.7 918.5 439.5 919.0 440.4 919.4 441.3 919.9 442.2 920.4 443.0 920.9 443.9 921.4 444.8 921.9 445.6 922.4 446.5 922.9 447.4 923.4 448.3 923.9 449.1 924.4 450.0 924.9 450.9 925.3 451.7 925.8 452.6 926.3 453.5 926.8 454.4 927.3 455.2 927.8 456.1 928.3 457.0 928.8 457.9 929.3 458.7 929.7 459.6 930.2 460.5 930.7 461.4 931.2 462.2 931.7 463.1 932.2 464.0 932.7 464.9 933.1 465.7 933.6 466.6 934.1 467.5 934.6 468.4 935.1 469.2 935.6 470.1 936.0 471.0 936.5 471.9 937.0 472.7 937.5 473.6 938.0 474.5 938.5 475.4 938.9 476.2 939.4 477.1 939.9 478.0 940.4 478.9 940.9 479.7 941.3 480.6 941.8 481.5 942.3 482.4 942.8 483.3 943.2 484.1 943.7 485.0 944.2 485.9 944.7 486.8 945.2 487.7 945.6 488.5 946.1 489.4 946.6 490.3 947.1 491.2 947.5 492.0 948.0 492.9 948.5 493.8 949.0 494.7 949.4 495.6 949.9 496.4 950.4 497.3 950.9 498.2 951.3 499.1 951.8 500.0 952.3 500.8 952.8 501.7 953.2 502.6 953.7 503.5 954.2 504.4 954.6 505.3 955.1 506.1 955.6 507.0 956.1 507.9 956.5 508.8 957.0 509.7 957.5 510.5 957.9 511.4 958.4 512.3 958.9 513.2 959.3 514.1 959.8 515.0 960.3 515.8 960.8 516.7 961.2 517.6 961.7 518.5 962.2 519.4 962.6 520.3 963.1 521.1 963.6 522.0 964.0 522.9 964.5 523.8 965.0 524.7 965.4 525.6 965.9 526.4 966.4 527.3 966.8 528.2 967.3 529.1 967.7 530.0 968.2 530.9 968.7 531.8 969.1 532.6 969.6 533.5 970.1 534.4 970.5 535.3 971.0 536.2 971.5 537.1 971.9 538.0 972.4 538.8 972.8 539.7 973.3 540.6 973.8 541.5 974.2 542.4 974.7 543.3 975.1 544.2 975.6 545.0 976.1 545.9 976.5 546.8 977.0 547.7 977.4 548.6 977.9 549.5 978.4 550.4 978.8 551.3 979.3 552.1 979.7 553.0 980.2 553.9 980.6 554.8 981.1 555.7 981.6 556.6 982.0 557.5 982.5 558.4 982.9 559.3 983.4 560.1 983.8 561.0 984.3 561.9 984.8 562.8 985.2 563.7 985.7 564.6 986.1 565.5 986.6 566.4 987.0 567.3 987.5 568.2 987.9 569.0 988.4 569.9 988.8 570.8 989.3 571.7 989.8 572.6 990.2 573.5 990.7 574.4 991.1 575.3 991.6 576.2 992.0 577.1 992.5 578.0 992.9 578.8 993.4 579.7 993.8 580.6 994.3 581.5 994.7 582.4 995.2 583.3 995.6 584.2 996.1 585.1 996.5 586.0 997.0 586.9 997.4 587.8 997.9 588.7 998.3 589.5 998.8 590.4 999.2 591.3 999.7 592.2 1000.1 593.1 1000.6 594.0 1001.0 594.9 1001.5 595.8 1001.9 596.7 1002.4 597.6 1002.8 598.5 1003.3 599.4 1003.7 600.3 1004.1 601.2 1004.6 602.1 1005.0 602.9 1005.5 603.8 1005.9 604.7 1006.4 605.6 1006.8 606.5 1007.3 607.4 1007.7 608.3 1008.2 609.2 1008.6 610.1 1009.0 611.0 1009.5 611.9 1009.9 612.8 1010.4 613.7 1010.8 614.6 1011.3 615.5 1011.7 616.4 1012.2 617.3 1012.6 618.2 1013.0 619.1 1013.5 620.0 1013.9 620.8 1014.4 621.7 1014.8 622.6 1015.3 623.5 1015.7 624.4 1016.1 625.3 1016.6 626.2 1017.0 627.1 1017.5 628.0 1017.9 628.9 1018.3 629.8 1018.8 630.7 1019.2 631.6 1019.7 632.5 1020.1 633.4 1020.5 634.3 1021.0 635.2 1021.4 636.1 1021.9 637.0 1022.3 637.9 1022.7 638.8 1023.2 639.7 1023.6 640.6 1024.1 641.5 1024.5 642.4 1024.9 643.3 1025.4 644.2 1025.8 645.1 1026.3 646.0 1026.7 646.9 1027.1 647.8 1027.6 648.7 1028.0 649.6 1028.4 650.5 1028.9 651.4 1029.3 652.3 1029.8 653.2 1030.2 654.1 1030.6 655.0 1031.1 655.8 1031.5 656.7 1031.9 657.6 1032.4 658.5 1032.8 659.4 1033.2 660.3 1033.7 661.2 1034.1 662.1 1034.6 663.0 1035.0 663.9 1035.4 664.8 1035.9 665.7 1036.3 666.6 1036.7 667.5 1037.2 668.4 1037.6 669.3 1038.0 670.2 1038.5 671.1 1038.9 672.0 1039.3 672.9 1039.8 673.8 1040.2 674.7 1040.6 675.6 1041.1 676.5 1041.5 677.4 1041.9 678.3 1042.4 679.2 1042.8 680.1 1043.2 681.1 1043.7 682.0 1044.1 682.9 1044.5 683.8 1045.0 684.7 1045.4 685.6 1045.8 686.5 1046.3 687.4 1046.7 688.3 1047.1 689.2 1047.6 690.1 1048.0 691.0 1048.4 691.9 1048.8 692.8 1049.3 693.7 1049.7 694.6 1050.1 695.5 1050.6 696.4 1051.0 697.3 1051.4 698.2 1051.9 699.1 1052.3 700.0 1052.7 700.9 1053.1 701.8 1053.6 702.7 1054.0 703.6 1054.4 704.5 1054.9 705.4 1055.3 706.3 1055.7 707.2 1056.2 708.1 1056.6 709.0 1057.0 709.9 1057.4 710.8 1057.9 711.7 1058.3 712.6 1058.7 713.5 1059.2 714.4 1059.6 715.3 1060.0 716.2 1060.4 717.1 1060.9 718.0 1061.3 718.9 1061.7 719.8 1062.2 720.7 1062.6 721.7 1063.0 722.6 1063.4 723.5 1063.9 724.4 1064.3 725.3 1064.7 726.2 1065.2 727.1 1065.6 728.0 1066.0 728.9 1066.4 729.8 1066.9 730.7 1067.3 731.6 1067.7 732.5 1068.1 733.4 1068.6 734.3 1069.0 735.2 1069.4 736.1 1069.8 737.0 1070.3 737.9 1070.7 738.8 1071.1 739.7 1071.6 740.6 1072.0 741.5 1072.4 742.4 1072.8 743.3 1073.3 744.3 1073.7 745.2 1074.1 746.1 1074.5 747.0 1075.0 747.9 1075.4 748.8 1075.8 749.7 1076.2 750.6 1076.7 751.5 1077.1 752.4 1077.5 753.3 1077.9 754.2 1078.4 755.1 1078.8 756.0 1079.2 756.9 1079.6 757.8 1080.1 758.7 1080.5 759.6 1080.9 760.5 1081.3 761.4 1081.8 762.4 1082.2 763.3 1082.6 764.2 1083.0 765.1 1083.5 766.0 1083.9 766.9 1084.3 767.8 1084.7 768.7 1085.2 769.6 1085.6 770.5 1086.0" stroke="#0000ff"/>
<path d="M97.0 1134.1h0M97.4 1124.1h0M97.7 1114.1h0M98.1 1104.1h0M98.5 1094.1h0M98.8 1085.1h0M99.2 1076.1h0M99.6 1067.1h0M100.0 1060.2h0M100.4 1052.2h0M100.7 1046.2h0M101.1 1039.3h0M101.5 1033.3h0M101.8 1028.3h0M102.2 1022.3h0M102.6 1017.4h0M103.0 1012.4h0M103.3 1008.4h0M103.7 1004.5h0M104.1 999.5h0M104.5 995.5h0M104.8 992.6h0M105.2 988.6h0M105.6 984.6h0M105.9 981.6h0M106.3 978.7h0M106.7 974.7h0M107.1 971.7h0M107.4 968.8h0M107.8 965.8h0M108.2 962.8L108.3 961.8 108.5 960.8 108.6 959.8 108.8 958.9 108.9 957.9 109.0 956.9 109.2 955.9 109.3 954.9 109.5 953.9 109.6 952.9 109.7 951.9 109.9 950.9 110.0 949.9 110.2 949.0 110.3 948.0 110.5 947.0 110.7 946.0 110.8 945.0 111.0 944.0 111.1 943.0 111.3 942.0 111.4 941.0 111.6 940.1 111.8 939.1 111.9 938.1 112.1 937.1 112.3 936.1 112.4 935.1 112.6 934.1 112.8 933.1 113.0 932.1 113.1 931.2 113.3 930.2 113.5 929.2 113.7 928.2 113.8 927.2 114.0 926.2 114.2 925.2 114.4 924.2 114.6 923.2 114.8 922.3 115.0 921.3 115.2 920.3 115.4 919.3 115.6 918.3 115.7 917.3 115.9 916.3 116.1 915.3 116.4 914.3 116.6 913.4 116.8 912.4 117.0 911.4 117.2 910.4 117.4 909.4 117.6 908.4 117.8 907.4 118.0 906.4 118.2 905.5 118.5 904.5 118.7 903.5 118.9 902.5 119.1 901.5 119.4 900.5 119.6 899.5 119.8 898.6 120.1 897.6 120.3 896.6 120.5 895.6 120.8 894.6 121.0 893.6 121.3 892.7 121.5 891.7 121.8 890.7 122.1 889.7 122.3 888.8 122.6 887.8 122.9 886.8 123.2 885.8 123.4 884.9 123.7 883.9 124.0 883.0 124.3 882.0 124.6 881.0 124.9 880.1 125.2 879.1 125.6 878.2 125.9 877.2 126.2 876.3 126.5 875.3 126.9 874.4 127.2 873.5 127.6 872.5 127.9 871.6 128.3 870.7 128.7 869.7 129.0 868.8 129.4 867.9 129.8 867.0 130.2 866.1 130.6 865.2 131.0 864.2 131.4 863.3 131.9 862.4 132.3 861.6 132.7 860.7 133.2 859.8 133.6 858.9 134.1 858.0 134.6 857.1 135.1 856.3 135.5 855.4 136.0 854.6 136.5 853.7 137.1 852.8 137.6 852.0 138.1 851.2 138.7 850.3 139.2 849.5 139.8 848.7 140.3 847.9 140.9 847.0 141.5 846.2 142.1 845.4 142.7 844.6 143.3 843.8 143.9 843.1 144.6 842.3 145.2 841.5 145.9 840.8 146.5 840.0 147.2 839.3 147.9 838.5 148.6 837.8 149.3 837.1 150.0 836.4 150.7 835.7 151.4 835.0 152.1 834.3 152.9 833.7 153.6 833.0 154.4 832.4 155.1 831.7 155.9 831.1 156.7 830.5 157.5 829.9 158.2 829.3 159.1 828.8 159.9 828.2 160.7 827.7 161.5 827.1 162.4 826.6 163.2 826.1 164.0 825.6 164.9 825.1 165.8 824.7 166.7 824.2 167.5 823.8 168.4 823.3 169.3 822.9 170.2 822.5 171.1 822.1 172.0 821.8 173.0 821.4 173.9 821.1 174.8 820.7 175.7 820.4 176.7 820.1 177.6 819.8 178.6 819.5 179.5 819.2 180.5 819.0 181.5 818.7 182.4 818.5 183.4 818.3 184.4 818.1 185.4 817.9 186.3 817.7 187.3 817.6 188.3 817.4 189.3 817.3 190.3 817.1 191.3 817.0 192.3 816.9 193.3 816.8 194.3 816.7 195.3 816.7 196.3 816.6 197.3 816.6 198.3 816.6 199.3 816.5 200.3 816.5 201.3 816.5 202.3 816.6 203.3 816.6 204.3 816.6 205.3 816.7 206.3 816.7 207.3 816.8 208.3 816.9 209.4 817.0 210.4 817.1 211.4 817.2 212.4 817.3 213.4 817.4 214.4 817.6 215.4 817.7 216.4 817.9 217.4 818.0 218.4 818.2 219.4 818.3 220.4 818.5 221.4 818.7 222.4 818.9 223.4 819.1 224.4 819.3 225.4 819.5 226.4 819.7 227.4 819.9 228.4 820.1 229.4 820.3 230.4 820.5 231.4 820.7 232.4 820.9 233.4 821.2 234.4 821.4 235.4 821.6 236.3 821.8 237.3 822.1 238.3 822.3 239.3 822.6 240.3 822.8 241.3 823.0 242.2 823.3 243.2 823.5 244.2 823.8 245.2 824.1 246.1 824.3 247.1 824.6 248.1 824.8 249.1 825.1 250.0 825.4 251.0 825.6 252.0 825.9 252.9 826.2 253.9 826.5 254.9 826.8 255.8 827.0 256.8 827.3 257.8 827.6 258.7 827.9 259.7 828.2 260.6 828.5 261.6 828.8 262.6 829.1 263.5 829.4 264.5 829.7 265.4 830.0 266.4 830.3 267.3 830.6 268.3 830.9 269.2 831.2 270.2 831.6 271.1 831.9 272.1 832.2 273.0 832.5 274.0 832.8 274.9 833.2 275.9 833.5 276.8 833.8 277.8 834.2 278.7 834.5 279.6 834.8 280.6 835.2 281.5 835.5 282.5 835.8 283.4 836.2 284.3 836.5 285.3 836.9 286.2 837.2 287.2 837.6 288.1 837.9 289.0 838.3 290.0 838.6 290.9 839.0 291.8 839.3 292.8 839.7 293.7 840.1 294.6 840.4 295.5 840.8 296.5 841.2 297.4 841.5 298.3 841.9 299.3 842.3 300.2 842.6 301.1 843.0 302.0 843.4 303.0 843.7 303.9 844.1 304.8 844.5 305.7 844.9 306.7 845.2 307.6 845.6 308.5 846.0 309.4 846.4 310.4 846.8 311.3 847.2 312.2 847.5 313.1 847.9 314.0 848.3 315.0 848.7 315.9 849.1 316.8 849.5 317.7 849.9 318.6 850.3 319.6 850.7 320.5 851.1 321.4 851.4 322.3 851.8 323.2 852.2 324.1 852.6 325.1 853.0 326.0 853.4 326.9 853.8 327.8 854.2 328.7 854.6 329.6 855.0 330.5 855.4 331.5 855.8 332.4 856.2 333.3 856.6 334.2 857.0 335.1 857.5 336.0 857.9 336.9 858.3 337.9 858.7 338.8 859.1 339.7 859.5 340.6 859.9 341.5 860.3 342.4 860.7 343.3 861.1 344.2 861.5 345.2 861.9 346.1 862.3 347.0 862.7 347.9 863.1 348.8 863.6 349.7 864.0 350.6 864.4 351.5 864.8 352.4 865.2 353.4 865.6 354.3 866.0 355.2 866.4 356.1 866.8 357.0 867.2 357.9 867.7 358.8 868.1 359.7 868.5 360.6 868.9 361.6 869.3 362.5 869.7 363.4 870.1 364.3 870.5 365.2 870.9 366.1 871.3 367.0 871.7 367.9 872.1 368.9 872.6 369.8 873.0 370.7 873.4 371.6 873.8 372.5 874.2 373.4 874.6 374.3 875.0 375.2 875.4 376.2 875.8 377.1 876.2 378.0 876.6 378.9 877.0 379.8 877.4 380.7 877.8 381.6 878.2 382.6 878.6 383.5 879.0 384.4 879.4 385.3 879.8 386.2 880.2 387.1 880.6 388.0 881.0 389.0 881.5 389.9 881.9 390.8 882.3 391.7 882.7 392.6 883.1 393.5 883.5 394.4 883.9 395.4 884.3 396.3 884.7 397.2 885.1 398.1 885.5 399.0 885.9 399.9 886.3 400.9 886.7 401.8 887.1 402.7 887.5 403.6 887.9 404.5 888.3 405.4 888.7 406.4 889.1 407.3 889.5 408.2 889.9 409.1 890.3 410.0 890.7 410.9 891.0 411.9 891.4 412.8 891.8 413.7 892.2 414.6 892.6 415.5 893.0 416.4 893.4 417.4 893.8 418.3 894.2 419.2 894.6 420.1 895.0 421.0 895.4 422.0 895.8 422.9 896.2 423.8 896.6 424.7 897.0 425.6 897.4 426.5 897.8 427.5 898.2 428.4 898.6 429.3 899.0 430.2 899.4 431.1 899.8 432.1 900.1 433.0 900.5 433.9 900.9 434.8 901.3 435.7 901.7 436.6 902.1 437.6 902.5 438.5 902.9 439.4 903.3 440.3 903.7 441.2 904.1 442.2 904.5 443.1 904.9 444.0 905.3 444.9 905.6 445.8 906.0 446.8 906.4 447.7 906.8 448.6 907.2 449.5 907.6 450.4 908.0 451.4 908.4 452.3 908.8 453.2 909.2 454.1 909.6 455.0 909.9 456.0 910.3 456.9 910.7 457.8 911.1 458.7 911.5 459.7 911.9 460.6 912.3 461.5 912.7 462.4 913.1 463.3 913.5 464.3 913.8 465.2 914.2 466.1 914.6 467.0 915.0 467.9 915.4 468.9 915.8 469.8 916.2 470.7 916.6 471.6 917.0 472.5 917.3 473.5 917.7 474.4 918.1 475.3 918.5 476.2 918.9 477.2 919.3 478.1 919.7 479.0 920.1 479.9 920.4 480.8 920.8 481.8 921.2 482.7 921.6 483.6 922.0 484.5 922.4 485.5 922.8 486.4 923.2 487.3 923.5 488.2 923.9 489.1 924.3 490.1 924.7 491.0 925.1 491.9 925.5 492.8 925.9 493.8 926.2 494.7 926.6 495.6 927.0 496.5 927.4 497.4 927.8 498.4 928.2 499.3 928.6 500.2 928.9 501.1 929.3 502.1 929.7 503.0 930.1 503.9 930.5 504.8 930.9 505.7 931.3 506.7 931.6 507.6 932.0 508.5 932.4 509.4 932.8 510.4 933.2 511.3 933.6 512.2 933.9 513.1 934.3 514.0 934.7 515.0 935.1 515.9 935.5 516.8 935.9 517.7 936.3 518.7 936.6 519.6 937.0 520.5 937.4 521.4 937.8 522.4 938.2 523.3 938.6 524.2 938.9 525.1 939.3 526.1 939.7 527.0 940.1 527.9 940.5 528.8 940.9 529.7 941.2 530.7 941.6 531.6 942.0 532.5 942.4 533.4 942.8 534.4 943.1 535.3 943.5 536.2 943.9 537.1 944.3 538.1 944.7 539.0 945.1 539.9 945.4 540.8 945.8 541.8 946.2 542.7 946.6 543.6 947.0 544.5 947.3 545.5 947.7 546.4 948.1 547.3 948.5 548.2 948.9 549.2 949.2 550.1 949.6 551.0 950.0 551.9 950.4 552.8 950.8 553.8 951.1 554.7 951.5 555.6 951.9 556.5 952.3 557.5 952.7 558.4 953.0 559.3 953.4 560.2 953.8 561.2 954.2 562.1 954.6 563.0 954.9 564.0 955.3 564.9 955.7 565.8 956.1 566.7 956.4 567.7 956.8 568.6 957.2 569.5 957.6 570.4 958.0 571.4 958.3 572.3 958.7 573.2 959.1 574.1 959.5 575.1 959.8 576.0 960.2 576.9 960.6 577.8 961.0 578.8 961.3 579.7 961.7 580.6 962.1 581.5 962.5 582.5 962.8 583.4 963.2 584.3 963.6 585.2 964.0 586.2 964.3 587.1 964.7 588.0 965.1 589.0 965.5 589.9 965.8 590.8 966.2 591.7 966.6 592.7 967.0 593.6 967.3 594.5 967.7 595.4 968.1 596.4 968.5 597.3 968.8 598.2 969.2 599.2 969.6 600.1 969.9 601.0 970.3 601.9 970.7 602.9 971.1 603.8 971.4 604.7 971.8 605.7 972.2 606.6 972.5 607.5 972.9 608.4 973.3 609.4 973.7 610.3 974.0 611.2 974.4 612.2 974.8 613.1 975.1 614.0 975.5 614.9 975.9 615.9 976.2 616.8 976.6 617.7 977.0 618.7 977.3 619.6 977.7 620.5 978.1 621.4 978.4 622.4 978.8 623.3 979.2 624.2 979.5 625.2 979.9 626.1 980.3 627.0 980.6 628.0 981.0 628.9 981.4 629.8 981.7 630.7 982.1 631.7 982.5 632.6 982.8 633.5 983.2 634.5 983.6 635.4 983.9 636.3 984.3 637.3 984.7 638.2 985.0 639.1 985.4 640.1 985.8 641.0 986.1 641.9 986.5 642.8 986.8 643.8 987.2 644.7 987.6 645.6 987.9 646.6 988.3 647.5 988.7 648.4 989.0 649.4 989.4 650.3 989.7 651.2 990.1 652.2 990.5 653.1 990.8 654.0 991.2 655.0 991.5 655.9 991.9 656.8 992.3 657.8 992.6 658.7 993.0 659.6 993.3 660.6 993.7 661.5 994.0 662.4 994.4 663.4 994.8 664.3 995.1 665.2 995.5 666.2 995.8 667.1 996.2 668.0 996.5 669.0 996.9 669.9 997.3 670.8 997.6 671.8 998.0 672.7 998.3 673.6 998.7 674.6 999.0 675.5 999.4 676.4 999.7 677.4 1000.1 678.3 1000.4 679.2 1000.8 680.2 1001.1 681.1 1001.5 682.0 1001.8 683.0 1002.2 683.9 1002.6 684.9 1002.9 685.8 1003.3 686.7 1003.6 687.7 1004.0 688.6 1004.3 689.5 1004.7 690.5 1005.0 691.4 1005.4 692.3 1005.7 693.3 1006.1 694.2 1006.4 695.2 1006.7 696.1 1007.1 697.0 1007.4 698.0 1007.8 698.9 1008.1 699.8 1008.5 700.8 1008.8 701.7 1009.2 702.7 1009.5 703.6 1009.9 704.5 1010.2 705.5 1010.6 706.4 1010.9 707.3 1011.3 708.3 1011.6 709.2 1011.9 710.2 1012.3 711.1 1012.6 712.0 1013.0 713.0 1013.3 713.9 1013.7 714.9 1014.0 715.8 1014.3 716.7 1014.7 717.7 1015.0 718.6 1015.4 719.6 1015.7 720.5 1016.0 721.4 1016.4 722.4 1016.7 723.3 1017.1 724.3 1017.4 725.2 1017.7 726.1 1018.1 727.1 1018.4 728.0 1018.8 729.0 1019.1 729.9 1019.4 730.8 1019.8 731.8 1020.1 732.7 1020.4 733.7 1020.8 734.6 1021.1 735.6 1021.4 736.5 1021.8 737.4 1022.1 738.4 1022.4 739.3 1022.8 740.3 1023.1 741.2 1023.4 742.2 1023.8 743.1 1024.1 744.0 1024.4 745.0 1024.8 745.9 1025.1 746.9 1025.4 747.8 1025.8 748.8 1026.1 749.7 1026.4 750.6 1026.8 751.6 1027.1 752.5 1027.4 753.5 1027.7 754.4 1028.1 755.4 1028.4 756.3 1028.7 757.3 1029.1 758.2 1029.4 759.1 1029.7 760.1 1030.0 761.0 1030.4 762.0 1030.7 762.9 1031.0 763.9 1031.3 764.8 1031.7 765.8 1032.0 766.7 1032.3 767.7 1032.6 768.6 1033.0 769.6 1033.3 770.5 1033.6" stroke="#00ff00"/>
</g>
<path d="M93.70 1223.30v-6.8M93.70 688.70v6.8M161.38 1223.30v-6.8M161.38 688.70v6.8M229.06 1223.30v-6.8M229.06 688.70v6.8M296.74 1223.30v-6.8M296.74 688.70v6.8M364.42 1223.30v-6.8M364.42 688.70v6.8M432.10 1223.30v-6.8M432.10 688.70v6.8M499.78 1223.30v-6.8M499.78 688.70v6.8M567.46 1223.30v-6.8M567.46 688.70v6.8M635.14 1223.30v-6.8M635.14 688.70v6.8M702.82 1223.30v-6.8M702.82 688.70v6.8M770.50 1223.30v-6.8M770.50 688.70v6.8M93.70 1223.30h6.8M770.50 1223.30h-6.8M93.70 1134.20h6.8M770.50 1134.20h-6.8M93.70 1045.10h6.8M770.50 1045.10h-6.8M93.70 956.00h6.8M770.50 956.00h-6.8M93.70 866.90h6.8M770.50 866.90h-6.8M93.70 777.80h6.8M770.50 777.80h-6.8M93.70 688.70h6.8M770.50 688.70h-6.8" stroke="#262626" stroke-width="1.05" fill="none"/>
<rect x="93.70" y="688.70" width="676.80" height="534.60" stroke="#262626" stroke-width="1.05" fill="none"/>
<g font-size="21" fill="#262626"><text transform="translate(93.70 1253.90) scale(1 1.04)" text-anchor="middle">0</text><text transform="translate(161.38 1253.90) scale(1 1.04)" text-anchor="middle">2</text><text transform="translate(229.06 1253.90) scale(1 1.04)" text-anchor="middle">4</text><text transform="translate(296.74 1253.90) scale(1 1.04)" text-anchor="middle">6</text><text transform="translate(364.42 1253.90) scale(1 1.04)" text-anchor="middle">8</text><text transform="translate(432.10 1253.90) scale(1 1.04)" text-anchor="middle">10</text><text transform="translate(499.78 1253.90) scale(1 1.04)" text-anchor="middle">12</text><text transform="translate(567.46 1253.90) scale(1 1.04)" text-anchor="middle">14</text><text transform="translate(635.14 1253.90) scale(1 1.04)" text-anchor="middle">16</text><text transform="translate(702.82 1253.90) scale(1 1.04)" text-anchor="middle">18</text><text transform="translate(770.50 1253.90) scale(1 1.04)" text-anchor="middle">20</text><text transform="translate(85.00 1231.70) scale(1 1.04)" text-anchor="end">0.075</text><text transform="translate(85.00 1142.60) scale(1 1.04)" text-anchor="end">0.08</text><text transform="translate(85.00 1053.50) scale(1 1.04)" text-anchor="end">0.085</text><text transform="translate(85.00 964.40) scale(1 1.04)" text-anchor="end">0.09</text><text transform="translate(85.00 875.30) scale(1 1.04)" text-anchor="end">0.095</text><text transform="translate(85.00 786.20) scale(1 1.04)" text-anchor="end">0.1</text><text transform="translate(85.00 697.10) scale(1 1.04)" text-anchor="end">0.105</text></g>
<text transform="translate(432.10 1283.60) scale(1 1.04)" text-anchor="middle" font-size="23.1" fill="#262626">Time</text>
<text transform="translate(20.4 956.0) rotate(-90) scale(1 1.04)" text-anchor="middle" font-size="23.1" fill="#262626">I(t)</text>
<text transform="translate(432.30 677.60) scale(1 1.01)" text-anchor="middle" font-size="22.3" font-weight="bold" letter-spacing="0.4" fill="#000">Proposed Method</text>
<rect x="613.00" y="706.10" width="140.30" height="106.90" fill="#fff" stroke="#262626" stroke-width="1.05"/>
<circle cx="650.3" cy="721.5" r="2.6" fill="#ff0000"/>
<text transform="translate(685.90 729.50) scale(1 1.04)" font-size="18.5" fill="#000"><tspan font-family="'Liberation Serif', serif" font-style="italic" font-size="17.945">ω</tspan><tspan dx="-0.3">=1.0</tspan></text>
<circle cx="650.3" cy="747.0" r="2.6" fill="#000000"/>
<text transform="translate(685.90 755.05) scale(1 1.04)" font-size="18.5" fill="#000"><tspan font-family="'Liberation Serif', serif" font-style="italic" font-size="17.945">ω</tspan><tspan dx="-0.3">=0.95</tspan></text>
<circle cx="650.3" cy="772.6" r="2.6" fill="#0000ff"/>
<text transform="translate(685.90 780.60) scale(1 1.04)" font-size="18.5" fill="#000"><tspan font-family="'Liberation Serif', serif" font-style="italic" font-size="17.945">ω</tspan><tspan dx="-0.3">=0.90</tspan></text>
<circle cx="650.3" cy="798.1" r="2.6" fill="#00ff00"/>
<text transform="translate(685.90 806.15) scale(1 1.04)" font-size="18.5" fill="#000"><tspan font-family="'Liberation Serif', serif" font-style="italic" font-size="17.945">ω</tspan><tspan dx="-0.3">=0.85</tspan></text>
<path d="M1096.65 688.70V1223.30M1164.30 688.70V1223.30M1231.95 688.70V1223.30M1299.60 688.70V1223.30M1367.25 688.70V1223.30M1434.90 688.70V1223.30M1502.55 688.70V1223.30M1570.20 688.70V1223.30M1637.85 688.70V1223.30M1029.00 1156.47H1705.50M1029.00 1089.65H1705.50M1029.00 1022.83H1705.50M1029.00 956.00H1705.50M1029.00 889.17H1705.50M1029.00 822.35H1705.50M1029.00 755.53H1705.50" stroke="#dfdfdf" stroke-width="1" fill="none"/>
<clipPath id="clipR"><rect x="1025.0" y="684.7" width="684.5" height="542.6"/></clipPath>
<g clip-path="url(#clipR)" fill="none" stroke-width="5.0" stroke-linecap="round" stroke-linejoin="round">
<path d="M1032.4 1223.3h0M1032.8 1218.3h0M1033.2 1214.3h0M1033.6 1210.4h0M1033.9 1207.4h0M1034.3 1203.4h0M1034.7 1200.5h0M1035.0 1197.5h0M1035.5 1193.5h0M1035.8 1190.6h0M1036.2 1187.6L1036.3 1186.6 1036.5 1185.6 1036.6 1184.6 1036.7 1183.7 1036.9 1182.7 1037.0 1181.7 1037.1 1180.7 1037.3 1179.7 1037.4 1178.7 1037.5 1177.7 1037.7 1176.8 1037.8 1175.8 1038.0 1174.8 1038.1 1173.8 1038.2 1172.8 1038.4 1171.8 1038.5 1170.8 1038.7 1169.9 1038.8 1168.9 1039.0 1167.9 1039.1 1166.9 1039.3 1165.9 1039.4 1164.9 1039.6 1163.9 1039.7 1163.0 1039.9 1162.0 1040.1 1161.0 1040.2 1160.0 1040.4 1159.0 1040.5 1158.0 1040.7 1157.1 1040.9 1156.1 1041.0 1155.1 1041.2 1154.1 1041.3 1153.1 1041.5 1152.1 1041.7 1151.2 1041.9 1150.2 1042.0 1149.2 1042.2 1148.2 1042.4 1147.2 1042.5 1146.2 1042.7 1145.2 1042.9 1144.3 1043.1 1143.3 1043.2 1142.3 1043.4 1141.3 1043.6 1140.3 1043.8 1139.3 1044.0 1138.4 1044.1 1137.4 1044.3 1136.4 1044.5 1135.4 1044.7 1134.4 1044.9 1133.4 1045.1 1132.5 1045.2 1131.5 1045.4 1130.5 1045.6 1129.5 1045.8 1128.5 1046.0 1127.5 1046.2 1126.6 1046.4 1125.6 1046.6 1124.6 1046.8 1123.6 1047.0 1122.6 1047.2 1121.6 1047.4 1120.7 1047.6 1119.7 1047.8 1118.7 1048.0 1117.7 1048.2 1116.7 1048.4 1115.7 1048.6 1114.8 1048.8 1113.8 1049.0 1112.8 1049.2 1111.8 1049.4 1110.8 1049.6 1109.8 1049.9 1108.9 1050.1 1107.9 1050.3 1106.9 1050.5 1105.9 1050.7 1104.9 1050.9 1104.0 1051.2 1103.0 1051.4 1102.0 1051.6 1101.0 1051.8 1100.0 1052.1 1099.1 1052.3 1098.1 1052.5 1097.1 1052.7 1096.1 1053.0 1095.1 1053.2 1094.2 1053.4 1093.2 1053.7 1092.2 1053.9 1091.2 1054.2 1090.2 1054.4 1089.3 1054.6 1088.3 1054.9 1087.3 1055.1 1086.3 1055.4 1085.4 1055.6 1084.4 1055.9 1083.4 1056.1 1082.4 1056.4 1081.5 1056.6 1080.5 1056.9 1079.5 1057.1 1078.5 1057.4 1077.6 1057.6 1076.6 1057.9 1075.6 1058.2 1074.7 1058.4 1073.7 1058.7 1072.7 1059.0 1071.8 1059.2 1070.8 1059.5 1069.8 1059.8 1068.8 1060.1 1067.9 1060.3 1066.9 1060.6 1066.0 1060.9 1065.0 1061.2 1064.0 1061.5 1063.1 1061.7 1062.1 1062.0 1061.1 1062.3 1060.2 1062.6 1059.2 1062.9 1058.3 1063.2 1057.3 1063.5 1056.3 1063.8 1055.4 1064.1 1054.4 1064.4 1053.5 1064.7 1052.5 1065.0 1051.6 1065.3 1050.6 1065.6 1049.7 1065.9 1048.7 1066.3 1047.8 1066.6 1046.8 1066.9 1045.9 1067.2 1044.9 1067.5 1044.0 1067.9 1043.0 1068.2 1042.1 1068.5 1041.1 1068.8 1040.2 1069.2 1039.2 1069.5 1038.3 1069.8 1037.3 1070.2 1036.4 1070.5 1035.5 1070.9 1034.5 1071.2 1033.6 1071.6 1032.7 1071.9 1031.7 1072.3 1030.8 1072.6 1029.9 1073.0 1028.9 1073.3 1028.0 1073.7 1027.1 1074.1 1026.1 1074.4 1025.2 1074.8 1024.3 1075.2 1023.4 1075.5 1022.4 1075.9 1021.5 1076.3 1020.6 1076.7 1019.7 1077.1 1018.7 1077.4 1017.8 1077.8 1016.9 1078.2 1016.0 1078.6 1015.1 1079.0 1014.2 1079.4 1013.2 1079.8 1012.3 1080.2 1011.4 1080.6 1010.5 1081.0 1009.6 1081.4 1008.7 1081.8 1007.8 1082.2 1006.9 1082.7 1006.0 1083.1 1005.1 1083.5 1004.2 1083.9 1003.3 1084.4 1002.4 1084.8 1001.5 1085.2 1000.6 1085.7 999.7 1086.1 998.8 1086.5 997.9 1087.0 997.0 1087.4 996.2 1087.9 995.3 1088.3 994.4 1088.8 993.5 1089.2 992.6 1089.7 991.7 1090.2 990.9 1090.6 990.0 1091.1 989.1 1091.6 988.2 1092.0 987.4 1092.5 986.5 1093.0 985.6 1093.5 984.8 1094.0 983.9 1094.4 983.0 1094.9 982.2 1095.4 981.3 1095.9 980.4 1096.4 979.6 1096.9 978.7 1097.4 977.9 1097.9 977.0 1098.5 976.2 1099.0 975.3 1099.5 974.5 1100.0 973.6 1100.5 972.8 1101.1 971.9 1101.6 971.1 1102.1 970.3 1102.7 969.4 1103.2 968.6 1103.7 967.7 1104.3 966.9 1104.8 966.1 1105.4 965.3 1105.9 964.4 1106.5 963.6 1107.0 962.8 1107.6 962.0 1108.2 961.1 1108.7 960.3 1109.3 959.5 1109.9 958.7 1110.4 957.9 1111.0 957.1 1111.6 956.2 1112.2 955.4 1112.8 954.6 1113.3 953.8 1113.9 953.0 1114.5 952.2 1115.1 951.4 1115.7 950.6 1116.3 949.8 1116.9 949.0 1117.5 948.2 1118.1 947.4 1118.7 946.6 1119.4 945.9 1120.0 945.1 1120.6 944.3 1121.2 943.5 1121.8 942.7 1122.5 941.9 1123.1 941.2 1123.7 940.4 1124.3 939.6 1125.0 938.8 1125.6 938.1 1126.3 937.3 1126.9 936.5 1127.5 935.8 1128.2 935.0 1128.8 934.3 1129.5 933.5 1130.1 932.7 1130.8 932.0 1131.5 931.2 1132.1 930.5 1132.8 929.7 1133.4 929.0 1134.1 928.2 1134.8 927.5 1135.5 926.7 1136.1 926.0 1136.8 925.3 1137.5 924.5 1138.2 923.8 1138.9 923.1 1139.5 922.3 1140.2 921.6 1140.9 920.9 1141.6 920.1 1142.3 919.4 1143.0 918.7 1143.7 918.0 1144.4 917.2 1145.1 916.5 1145.8 915.8 1146.5 915.1 1147.2 914.4 1147.9 913.7 1148.6 913.0 1149.4 912.3 1150.1 911.6 1150.8 910.9 1151.5 910.2 1152.2 909.5 1153.0 908.8 1153.7 908.1 1154.4 907.4 1155.2 906.7 1155.9 906.0 1156.6 905.3 1157.4 904.6 1158.1 903.9 1158.8 903.3 1159.6 902.6 1160.3 901.9 1161.1 901.2 1161.8 900.6 1162.6 899.9 1163.3 899.2 1164.1 898.5 1164.8 897.9 1165.6 897.2 1166.4 896.6 1167.1 895.9 1167.9 895.2 1168.7 894.6 1169.4 893.9 1170.2 893.3 1171.0 892.6 1171.7 892.0 1172.5 891.3 1173.3 890.7 1174.1 890.0 1174.8 889.4 1175.6 888.8 1176.4 888.1 1177.2 887.5 1178.0 886.9 1178.8 886.2 1179.6 885.6 1180.3 885.0 1181.1 884.4 1181.9 883.7 1182.7 883.1 1183.5 882.5 1184.3 881.9 1185.1 881.3 1185.9 880.6 1186.7 880.0 1187.5 879.4 1188.3 878.8 1189.1 878.2 1190.0 877.6 1190.8 877.0 1191.6 876.4 1192.4 875.8 1193.2 875.2 1194.0 874.6 1194.8 874.0 1195.7 873.5 1196.5 872.9 1197.3 872.3 1198.1 871.7 1199.0 871.1 1199.8 870.5 1200.6 870.0 1201.4 869.4 1202.3 868.8 1203.1 868.3 1203.9 867.7 1204.8 867.1 1205.6 866.6 1206.4 866.0 1207.3 865.4 1208.1 864.9 1209.0 864.3 1209.8 863.8 1210.6 863.2 1211.5 862.7 1212.3 862.1 1213.2 861.6 1214.0 861.0 1214.9 860.5 1215.7 860.0 1216.6 859.4 1217.4 858.9 1218.3 858.4 1219.1 857.8 1220.0 857.3 1220.9 856.8 1221.7 856.3 1222.6 855.7 1223.4 855.2 1224.3 854.7 1225.2 854.2 1226.0 853.7 1226.9 853.2 1227.8 852.6 1228.6 852.1 1229.5 851.6 1230.4 851.1 1231.2 850.6 1232.1 850.1 1233.0 849.6 1233.9 849.1 1234.7 848.7 1235.6 848.2 1236.5 847.7 1237.4 847.2 1238.2 846.7 1239.1 846.2 1240.0 845.8 1240.9 845.3 1241.7 844.8 1242.6 844.3 1243.5 843.9 1244.4 843.4 1245.3 842.9 1246.2 842.5 1247.1 842.0 1247.9 841.5 1248.8 841.1 1249.7 840.6 1250.6 840.2 1251.5 839.7 1252.4 839.2 1253.3 838.8 1254.2 838.3 1255.1 837.9 1256.0 837.5 1256.8 837.0 1257.7 836.6 1258.6 836.1 1259.5 835.7 1260.4 835.3 1261.3 834.8 1262.2 834.4 1263.1 833.9 1264.0 833.5 1264.9 833.1 1265.8 832.7 1266.7 832.2 1267.6 831.8 1268.5 831.4 1269.4 831.0 1270.3 830.5 1271.3 830.1 1272.2 829.7 1273.1 829.3 1274.0 828.9 1274.9 828.4 1275.8 828.0 1276.7 827.6 1277.6 827.2 1278.5 826.8 1279.4 826.4 1280.3 826.0 1281.2 825.6 1282.2 825.2 1283.1 824.8 1284.0 824.4 1284.9 824.0 1285.8 823.6 1286.7 823.2 1287.6 822.8 1288.6 822.4 1289.5 822.0 1290.4 821.6 1291.3 821.2 1292.2 820.8 1293.1 820.4 1294.1 820.0 1295.0 819.6 1295.9 819.2 1296.8 818.8 1297.7 818.4 1298.6 818.0 1299.6 817.7 1300.5 817.3 1301.4 816.9 1302.3 816.5 1303.2 816.1 1304.2 815.7 1305.1 815.3 1306.0 815.0 1306.9 814.6 1307.9 814.2 1308.8 813.8 1309.7 813.4 1310.6 813.1 1311.6 812.7 1312.5 812.3 1313.4 811.9 1314.3 811.6 1315.3 811.2 1316.2 810.8 1317.1 810.4 1318.0 810.1 1319.0 809.7 1319.9 809.3 1320.8 808.9 1321.7 808.6 1322.7 808.2 1323.6 807.8 1324.5 807.5 1325.5 807.1 1326.4 806.7 1327.3 806.4 1328.2 806.0 1329.2 805.6 1330.1 805.3 1331.0 804.9 1332.0 804.5 1332.9 804.2 1333.8 803.8 1334.8 803.5 1335.7 803.1 1336.6 802.7 1337.5 802.4 1338.5 802.0 1339.4 801.7 1340.3 801.3 1341.3 801.0 1342.2 800.6 1343.1 800.3 1344.1 799.9 1345.0 799.5 1346.0 799.2 1346.9 798.8 1347.8 798.5 1348.8 798.1 1349.7 797.8 1350.6 797.4 1351.6 797.1 1352.5 796.7 1353.4 796.4 1354.4 796.1 1355.3 795.7 1356.3 795.4 1357.2 795.0 1358.1 794.7 1359.1 794.3 1360.0 794.0 1360.9 793.7 1361.9 793.3 1362.8 793.0 1363.8 792.6 1364.7 792.3 1365.6 792.0 1366.6 791.6 1367.5 791.3 1368.5 790.9 1369.4 790.6 1370.4 790.3 1371.3 789.9 1372.2 789.6 1373.2 789.3 1374.1 788.9 1375.1 788.6 1376.0 788.3 1376.9 787.9 1377.9 787.6 1378.8 787.3 1379.8 787.0 1380.7 786.6 1381.7 786.3 1382.6 786.0 1383.6 785.6 1384.5 785.3 1385.4 785.0 1386.4 784.7 1387.3 784.3 1388.3 784.0 1389.2 783.7 1390.2 783.4 1391.1 783.1 1392.1 782.7 1393.0 782.4 1394.0 782.1 1394.9 781.8 1395.9 781.5 1396.8 781.1 1397.8 780.8 1398.7 780.5 1399.7 780.2 1400.6 779.9 1401.5 779.5 1402.5 779.2 1403.4 778.9 1404.4 778.6 1405.3 778.3 1406.3 778.0 1407.2 777.7 1408.2 777.4 1409.1 777.0 1410.1 776.7 1411.0 776.4 1412.0 776.1 1412.9 775.8 1413.9 775.5 1414.8 775.2 1415.8 774.9 1416.8 774.6 1417.7 774.3 1418.7 774.0 1419.6 773.7 1420.6 773.4 1421.5 773.1 1422.5 772.7 1423.4 772.4 1424.4 772.1 1425.3 771.8 1426.3 771.5 1427.2 771.2 1428.2 770.9 1429.1 770.6 1430.1 770.3 1431.0 770.0 1432.0 769.7 1433.0 769.4 1433.9 769.2 1434.9 768.9 1435.8 768.6 1436.8 768.3 1437.7 768.0 1438.7 767.7 1439.6 767.4 1440.6 767.1 1441.6 766.8 1442.5 766.5 1443.5 766.2 1444.4 765.9 1445.4 765.6 1446.3 765.3 1447.3 765.0 1448.2 764.8 1449.2 764.5 1450.2 764.2 1451.1 763.9 1452.1 763.6 1453.0 763.3 1454.0 763.0 1454.9 762.7 1455.9 762.5 1456.9 762.2 1457.8 761.9 1458.8 761.6 1459.7 761.3 1460.7 761.0 1461.7 760.8 1462.6 760.5 1463.6 760.2 1464.5 759.9 1465.5 759.6 1466.5 759.3 1467.4 759.1 1468.4 758.8 1469.3 758.5 1470.3 758.2 1471.2 758.0 1472.2 757.7 1473.2 757.4 1474.1 757.1 1475.1 756.8 1476.1 756.6 1477.0 756.3 1478.0 756.0 1478.9 755.7 1479.9 755.5 1480.9 755.2 1481.8 754.9 1482.8 754.7 1483.7 754.4 1484.7 754.1 1485.7 753.8 1486.6 753.6 1487.6 753.3 1488.6 753.0 1489.5 752.8 1490.5 752.5 1491.4 752.2 1492.4 752.0 1493.4 751.7 1494.3 751.4 1495.3 751.2 1496.3 750.9 1497.2 750.6 1498.2 750.4 1499.1 750.1 1500.1 749.8 1501.1 749.6 1502.0 749.3 1503.0 749.0 1504.0 748.8 1504.9 748.5 1505.9 748.2 1506.9 748.0 1507.8 747.7 1508.8 747.5 1509.8 747.2 1510.7 746.9 1511.7 746.7 1512.7 746.4 1513.6 746.2 1514.6 745.9 1515.5 745.7 1516.5 745.4 1517.5 745.1 1518.4 744.9 1519.4 744.6 1520.4 744.4 1521.3 744.1 1522.3 743.9 1523.3 743.6 1524.2 743.4 1525.2 743.1 1526.2 742.8 1527.1 742.6 1528.1 742.3 1529.1 742.1 1530.0 741.8 1531.0 741.6 1532.0 741.3 1533.0 741.1 1533.9 740.8 1534.9 740.6 1535.9 740.3 1536.8 740.1 1537.8 739.8 1538.8 739.6 1539.7 739.3 1540.7 739.1 1541.7 738.9 1542.6 738.6 1543.6 738.4 1544.6 738.1 1545.5 737.9 1546.5 737.6 1547.5 737.4 1548.4 737.1 1549.4 736.9 1550.4 736.7 1551.4 736.4 1552.3 736.2 1553.3 735.9 1554.3 735.7 1555.2 735.4 1556.2 735.2 1557.2 735.0 1558.1 734.7 1559.1 734.5 1560.1 734.2 1561.1 734.0 1562.0 733.8 1563.0 733.5 1564.0 733.3 1564.9 733.0 1565.9 732.8 1566.9 732.6 1567.9 732.3 1568.8 732.1 1569.8 731.9 1570.8 731.6 1571.7 731.4 1572.7 731.2 1573.7 730.9 1574.7 730.7 1575.6 730.5 1576.6 730.2 1577.6 730.0 1578.5 729.8 1579.5 729.5 1580.5 729.3 1581.5 729.1 1582.4 728.8 1583.4 728.6 1584.4 728.4 1585.4 728.1 1586.3 727.9 1587.3 727.7 1588.3 727.5 1589.2 727.2 1590.2 727.0 1591.2 726.8 1592.2 726.5 1593.1 726.3 1594.1 726.1 1595.1 725.9 1596.1 725.6 1597.0 725.4 1598.0 725.2 1599.0 725.0 1600.0 724.7 1600.9 724.5 1601.9 724.3 1602.9 724.1 1603.9 723.8 1604.8 723.6 1605.8 723.4 1606.8 723.2 1607.7 722.9 1608.7 722.7 1609.7 722.5 1610.7 722.3 1611.6 722.1 1612.6 721.8 1613.6 721.6 1614.6 721.4 1615.5 721.2 1616.5 721.0 1617.5 720.7 1618.5 720.5 1619.4 720.3 1620.4 720.1 1621.4 719.9 1622.4 719.6 1623.4 719.4 1624.3 719.2 1625.3 719.0 1626.3 718.8 1627.3 718.6 1628.2 718.3 1629.2 718.1 1630.2 717.9 1631.2 717.7 1632.1 717.5 1633.1 717.3 1634.1 717.0 1635.1 716.8 1636.0 716.6 1637.0 716.4 1638.0 716.2 1639.0 716.0 1639.9 715.8 1640.9 715.6 1641.9 715.3 1642.9 715.1 1643.9 714.9 1644.8 714.7 1645.8 714.5 1646.8 714.3 1647.8 714.1 1648.7 713.9 1649.7 713.7 1650.7 713.4 1651.7 713.2 1652.7 713.0 1653.6 712.8 1654.6 712.6 1655.6 712.4 1656.6 712.2 1657.5 712.0 1658.5 711.8 1659.5 711.6 1660.5 711.4 1661.4 711.2 1662.4 710.9 1663.4 710.7 1664.4 710.5 1665.4 710.3 1666.3 710.1 1667.3 709.9 1668.3 709.7 1669.3 709.5 1670.3 709.3 1671.2 709.1 1672.2 708.9 1673.2 708.7 1674.2 708.5 1675.1 708.3 1676.1 708.1 1677.1 707.9 1678.1 707.7 1679.1 707.5 1680.0 707.3 1681.0 707.1 1682.0 706.9 1683.0 706.7 1684.0 706.5 1684.9 706.3 1685.9 706.1 1686.9 705.9 1687.9 705.7 1688.8 705.5 1689.8 705.3 1690.8 705.1 1691.8 704.9 1692.8 704.7 1693.7 704.5 1694.7 704.3 1695.7 704.1 1696.7 703.9 1697.7 703.7 1698.6 703.5 1699.6 703.3 1700.6 703.1 1701.6 702.9 1702.6 702.7 1703.5 702.5 1704.5 702.3 1705.5 702.1" stroke="#ff0000"/>
<path d="M1032.4 1223.3h0M1032.8 1217.3h0M1033.1 1212.3h0M1033.6 1207.3h0M1033.9 1203.4h0M1034.4 1199.4h0M1034.7 1196.4h0M1035.0 1193.5h0M1035.4 1190.5h0M1035.7 1187.5h0M1036.1 1184.6h0M1036.5 1181.6h0M1036.9 1178.6L1037.1 1177.6 1037.2 1176.7 1037.4 1175.7 1037.5 1174.7 1037.7 1173.7 1037.8 1172.7 1038.0 1171.7 1038.1 1170.7 1038.3 1169.8 1038.4 1168.8 1038.6 1167.8 1038.7 1166.8 1038.9 1165.8 1039.0 1164.8 1039.2 1163.9 1039.3 1162.9 1039.5 1161.9 1039.7 1160.9 1039.8 1159.9 1040.0 1158.9 1040.2 1157.9 1040.3 1157.0 1040.5 1156.0 1040.7 1155.0 1040.8 1154.0 1041.0 1153.0 1041.2 1152.0 1041.3 1151.1 1041.5 1150.1 1041.7 1149.1 1041.9 1148.1 1042.0 1147.1 1042.2 1146.1 1042.4 1145.2 1042.6 1144.2 1042.7 1143.2 1042.9 1142.2 1043.1 1141.2 1043.3 1140.2 1043.5 1139.3 1043.6 1138.3 1043.8 1137.3 1044.0 1136.3 1044.2 1135.3 1044.4 1134.3 1044.6 1133.3 1044.7 1132.4 1044.9 1131.4 1045.1 1130.4 1045.3 1129.4 1045.5 1128.4 1045.7 1127.4 1045.9 1126.5 1046.1 1125.5 1046.2 1124.5 1046.4 1123.5 1046.6 1122.5 1046.8 1121.5 1047.0 1120.6 1047.2 1119.6 1047.4 1118.6 1047.6 1117.6 1047.8 1116.6 1048.0 1115.6 1048.2 1114.6 1048.4 1113.7 1048.6 1112.7 1048.7 1111.7 1048.9 1110.7 1049.1 1109.7 1049.3 1108.7 1049.6 1107.8 1049.8 1106.8 1050.0 1105.8 1050.2 1104.8 1050.4 1103.8 1050.6 1102.8 1050.8 1101.9 1051.0 1100.9 1051.2 1099.9 1051.4 1098.9 1051.6 1097.9 1051.9 1097.0 1052.1 1096.0 1052.3 1095.0 1052.5 1094.0 1052.7 1093.1 1053.0 1092.1 1053.2 1091.1 1053.4 1090.1 1053.6 1089.1 1053.9 1088.2 1054.1 1087.2 1054.3 1086.2 1054.6 1085.3 1054.8 1084.3 1055.1 1083.3 1055.3 1082.3 1055.6 1081.4 1055.8 1080.4 1056.1 1079.4 1056.3 1078.5 1056.6 1077.5 1056.8 1076.5 1057.1 1075.6 1057.3 1074.6 1057.6 1073.6 1057.9 1072.7 1058.2 1071.7 1058.4 1070.7 1058.7 1069.8 1059.0 1068.8 1059.3 1067.9 1059.5 1066.9 1059.8 1065.9 1060.1 1065.0 1060.4 1064.0 1060.7 1063.1 1061.0 1062.1 1061.3 1061.2 1061.6 1060.2 1061.9 1059.3 1062.2 1058.3 1062.5 1057.4 1062.9 1056.4 1063.2 1055.5 1063.5 1054.5 1063.8 1053.6 1064.2 1052.7 1064.5 1051.7 1064.8 1050.8 1065.2 1049.8 1065.5 1048.9 1065.9 1048.0 1066.2 1047.0 1066.6 1046.1 1066.9 1045.2 1067.3 1044.2 1067.6 1043.3 1068.0 1042.4 1068.4 1041.4 1068.8 1040.5 1069.1 1039.6 1069.5 1038.7 1069.9 1037.7 1070.3 1036.8 1070.7 1035.9 1071.1 1035.0 1071.5 1034.1 1071.9 1033.2 1072.3 1032.2 1072.7 1031.3 1073.1 1030.4 1073.5 1029.5 1073.9 1028.6 1074.3 1027.7 1074.8 1026.8 1075.2 1025.9 1075.6 1025.0 1076.1 1024.1 1076.5 1023.2 1076.9 1022.3 1077.4 1021.4 1077.8 1020.5 1078.3 1019.6 1078.7 1018.7 1079.2 1017.8 1079.6 1016.9 1080.1 1016.0 1080.6 1015.2 1081.0 1014.3 1081.5 1013.4 1082.0 1012.5 1082.4 1011.6 1082.9 1010.8 1083.4 1009.9 1083.9 1009.0 1084.4 1008.1 1084.9 1007.3 1085.4 1006.4 1085.9 1005.5 1086.4 1004.7 1086.9 1003.8 1087.4 1002.9 1087.9 1002.1 1088.4 1001.2 1088.9 1000.3 1089.4 999.5 1089.9 998.6 1090.5 997.8 1091.0 996.9 1091.5 996.1 1092.1 995.2 1092.6 994.4 1093.1 993.5 1093.7 992.7 1094.2 991.8 1094.8 991.0 1095.3 990.2 1095.9 989.3 1096.4 988.5 1097.0 987.6 1097.5 986.8 1098.1 986.0 1098.7 985.2 1099.2 984.3 1099.8 983.5 1100.4 982.7 1100.9 981.9 1101.5 981.0 1102.1 980.2 1102.7 979.4 1103.3 978.6 1103.9 977.8 1104.4 977.0 1105.0 976.1 1105.6 975.3 1106.2 974.5 1106.8 973.7 1107.4 972.9 1108.0 972.1 1108.7 971.3 1109.3 970.5 1109.9 969.7 1110.5 968.9 1111.1 968.2 1111.7 967.4 1112.4 966.6 1113.0 965.8 1113.6 965.0 1114.2 964.2 1114.9 963.4 1115.5 962.7 1116.2 961.9 1116.8 961.1 1117.4 960.3 1118.1 959.6 1118.7 958.8 1119.4 958.0 1120.0 957.3 1120.7 956.5 1121.3 955.8 1122.0 955.0 1122.7 954.2 1123.3 953.5 1124.0 952.7 1124.7 952.0 1125.3 951.2 1126.0 950.5 1126.7 949.7 1127.3 949.0 1128.0 948.3 1128.7 947.5 1129.4 946.8 1130.1 946.1 1130.8 945.3 1131.4 944.6 1132.1 943.9 1132.8 943.1 1133.5 942.4 1134.2 941.7 1134.9 941.0 1135.6 940.3 1136.3 939.6 1137.0 938.8 1137.7 938.1 1138.5 937.4 1139.2 936.7 1139.9 936.0 1140.6 935.3 1141.3 934.6 1142.0 933.9 1142.8 933.2 1143.5 932.5 1144.2 931.8 1144.9 931.1 1145.7 930.5 1146.4 929.8 1147.1 929.1 1147.9 928.4 1148.6 927.7 1149.3 927.1 1150.1 926.4 1150.8 925.7 1151.6 925.0 1152.3 924.4 1153.1 923.7 1153.8 923.1 1154.6 922.4 1155.3 921.7 1156.1 921.1 1156.8 920.4 1157.6 919.8 1158.3 919.1 1159.1 918.5 1159.9 917.8 1160.6 917.2 1161.4 916.6 1162.2 915.9 1162.9 915.3 1163.7 914.7 1164.5 914.0 1165.2 913.4 1166.0 912.8 1166.8 912.2 1167.6 911.5 1168.4 910.9 1169.1 910.3 1169.9 909.7 1170.7 909.1 1171.5 908.5 1172.3 907.9 1173.1 907.3 1173.9 906.7 1174.7 906.1 1175.5 905.5 1176.3 904.9 1177.1 904.3 1177.9 903.7 1178.7 903.1 1179.5 902.5 1180.3 902.0 1181.1 901.4 1181.9 900.8 1182.7 900.2 1183.5 899.6 1184.3 899.1 1185.1 898.5 1185.9 897.9 1186.7 897.4 1187.6 896.8 1188.4 896.3 1189.2 895.7 1190.0 895.1 1190.8 894.6 1191.7 894.0 1192.5 893.5 1193.3 892.9 1194.1 892.4 1195.0 891.8 1195.8 891.3 1196.6 890.8 1197.5 890.2 1198.3 889.7 1199.1 889.2 1200.0 888.6 1200.8 888.1 1201.7 887.6 1202.5 887.0 1203.3 886.5 1204.2 886.0 1205.0 885.5 1205.9 885.0 1206.7 884.4 1207.6 883.9 1208.4 883.4 1209.3 882.9 1210.1 882.4 1211.0 881.9 1211.8 881.4 1212.7 880.9 1213.5 880.4 1214.4 879.9 1215.3 879.4 1216.1 878.9 1217.0 878.4 1217.9 877.9 1218.7 877.4 1219.6 876.9 1220.4 876.5 1221.3 876.0 1222.2 875.5 1223.1 875.0 1223.9 874.5 1224.8 874.0 1225.7 873.6 1226.5 873.1 1227.4 872.6 1228.3 872.2 1229.2 871.7 1230.1 871.2 1230.9 870.8 1231.8 870.3 1232.7 869.8 1233.6 869.4 1234.5 868.9 1235.3 868.5 1236.2 868.0 1237.1 867.6 1238.0 867.1 1238.9 866.7 1239.8 866.2 1240.7 865.8 1241.6 865.3 1242.5 864.9 1243.4 864.4 1244.2 864.0 1245.1 863.6 1246.0 863.1 1246.9 862.7 1247.8 862.2 1248.7 861.8 1249.6 861.4 1250.5 861.0 1251.4 860.5 1252.3 860.1 1253.2 859.7 1254.1 859.3 1255.1 858.8 1256.0 858.4 1256.9 858.0 1257.8 857.6 1258.7 857.2 1259.6 856.7 1260.5 856.3 1261.4 855.9 1262.3 855.5 1263.2 855.1 1264.2 854.7 1265.1 854.3 1266.0 853.9 1266.9 853.5 1267.8 853.1 1268.7 852.7 1269.7 852.3 1270.6 851.9 1271.5 851.5 1272.4 851.1 1273.3 850.7 1274.3 850.3 1275.2 849.9 1276.1 849.5 1277.0 849.1 1277.9 848.7 1278.9 848.3 1279.8 848.0 1280.7 847.6 1281.7 847.2 1282.6 846.8 1283.5 846.4 1284.4 846.1 1285.4 845.7 1286.3 845.3 1287.2 844.9 1288.2 844.5 1289.1 844.2 1290.0 843.8 1291.0 843.4 1291.9 843.1 1292.8 842.7 1293.8 842.3 1294.7 842.0 1295.6 841.6 1296.6 841.2 1297.5 840.9 1298.4 840.5 1299.4 840.1 1300.3 839.8 1301.3 839.4 1302.2 839.1 1303.1 838.7 1304.1 838.3 1305.0 838.0 1306.0 837.6 1306.9 837.3 1307.8 836.9 1308.8 836.6 1309.7 836.2 1310.7 835.9 1311.6 835.5 1312.6 835.2 1313.5 834.8 1314.5 834.5 1315.4 834.2 1316.4 833.8 1317.3 833.5 1318.2 833.1 1319.2 832.8 1320.1 832.4 1321.1 832.1 1322.0 831.8 1323.0 831.4 1323.9 831.1 1324.9 830.8 1325.8 830.4 1326.8 830.1 1327.7 829.7 1328.7 829.4 1329.6 829.1 1330.6 828.8 1331.5 828.4 1332.5 828.1 1333.4 827.8 1334.4 827.4 1335.4 827.1 1336.3 826.8 1337.3 826.5 1338.2 826.1 1339.2 825.8 1340.1 825.5 1341.1 825.2 1342.0 824.8 1343.0 824.5 1343.9 824.2 1344.9 823.9 1345.8 823.5 1346.8 823.2 1347.8 822.9 1348.7 822.6 1349.7 822.3 1350.6 822.0 1351.6 821.6 1352.5 821.3 1353.5 821.0 1354.4 820.7 1355.4 820.4 1356.4 820.1 1357.3 819.7 1358.3 819.4 1359.2 819.1 1360.2 818.8 1361.1 818.5 1362.1 818.2 1363.1 817.9 1364.0 817.6 1365.0 817.3 1365.9 816.9 1366.9 816.6 1367.8 816.3 1368.8 816.0 1369.8 815.7 1370.7 815.4 1371.7 815.1 1372.6 814.8 1373.6 814.5 1374.5 814.2 1375.5 813.9 1376.5 813.6 1377.4 813.3 1378.4 813.0 1379.3 812.7 1380.3 812.4 1381.2 812.1 1382.2 811.8 1383.2 811.5 1384.1 811.2 1385.1 810.9 1386.0 810.6 1387.0 810.3 1387.9 810.0 1388.9 809.7 1389.9 809.4 1390.8 809.1 1391.8 808.8 1392.7 808.5 1393.7 808.2 1394.6 807.9 1395.6 807.6 1396.6 807.3 1397.5 807.0 1398.5 806.7 1399.4 806.4 1400.4 806.1 1401.3 805.8 1402.3 805.5 1403.3 805.2 1404.2 804.9 1405.2 804.6 1406.1 804.3 1407.1 804.1 1408.1 803.8 1409.0 803.5 1410.0 803.2 1410.9 802.9 1411.9 802.6 1412.8 802.3 1413.8 802.0 1414.8 801.7 1415.7 801.5 1416.7 801.2 1417.6 800.9 1418.6 800.6 1419.5 800.3 1420.5 800.0 1421.5 799.7 1422.4 799.5 1423.4 799.2 1424.3 798.9 1425.3 798.6 1426.3 798.3 1427.2 798.1 1428.2 797.8 1429.1 797.5 1430.1 797.2 1431.0 796.9 1432.0 796.6 1433.0 796.4 1433.9 796.1 1434.9 795.8 1435.8 795.5 1436.8 795.3 1437.8 795.0 1438.7 794.7 1439.7 794.4 1440.6 794.2 1441.6 793.9 1442.6 793.6 1443.5 793.3 1444.5 793.1 1445.4 792.8 1446.4 792.5 1447.4 792.2 1448.3 792.0 1449.3 791.7 1450.2 791.4 1451.2 791.1 1452.2 790.9 1453.1 790.6 1454.1 790.3 1455.0 790.1 1456.0 789.8 1457.0 789.5 1457.9 789.3 1458.9 789.0 1459.8 788.7 1460.8 788.5 1461.8 788.2 1462.7 787.9 1463.7 787.7 1464.6 787.4 1465.6 787.1 1466.6 786.9 1467.5 786.6 1468.5 786.3 1469.4 786.1 1470.4 785.8 1471.4 785.6 1472.3 785.3 1473.3 785.0 1474.2 784.8 1475.2 784.5 1476.2 784.3 1477.1 784.0 1478.1 783.7 1479.1 783.5 1480.0 783.2 1481.0 783.0 1481.9 782.7 1482.9 782.4 1483.9 782.2 1484.8 781.9 1485.8 781.7 1486.8 781.4 1487.7 781.2 1488.7 780.9 1489.6 780.7 1490.6 780.4 1491.6 780.2 1492.5 779.9 1493.5 779.7 1494.5 779.4 1495.4 779.2 1496.4 778.9 1497.3 778.7 1498.3 778.4 1499.3 778.2 1500.2 777.9 1501.2 777.7 1502.2 777.4 1503.1 777.2 1504.1 776.9 1505.1 776.7 1506.0 776.4 1507.0 776.2 1507.9 775.9 1508.9 775.7 1509.9 775.4 1510.8 775.2 1511.8 775.0 1512.8 774.7 1513.7 774.5 1514.7 774.2 1515.7 774.0 1516.6 773.7 1517.6 773.5 1518.6 773.3 1519.5 773.0 1520.5 772.8 1521.5 772.5 1522.4 772.3 1523.4 772.1 1524.4 771.8 1525.3 771.6 1526.3 771.4 1527.3 771.1 1528.2 770.9 1529.2 770.6 1530.2 770.4 1531.1 770.2 1532.1 769.9 1533.1 769.7 1534.0 769.5 1535.0 769.2 1536.0 769.0 1536.9 768.8 1537.9 768.5 1538.9 768.3 1539.8 768.1 1540.8 767.9 1541.8 767.6 1542.7 767.4 1543.7 767.2 1544.7 766.9 1545.6 766.7 1546.6 766.5 1547.6 766.3 1548.5 766.0 1549.5 765.8 1550.5 765.6 1551.4 765.3 1552.4 765.1 1553.4 764.9 1554.4 764.7 1555.3 764.5 1556.3 764.2 1557.3 764.0 1558.2 763.8 1559.2 763.6 1560.2 763.3 1561.1 763.1 1562.1 762.9 1563.1 762.7 1564.1 762.5 1565.0 762.2 1566.0 762.0 1567.0 761.8 1567.9 761.6 1568.9 761.4 1569.9 761.1 1570.9 760.9 1571.8 760.7 1572.8 760.5 1573.8 760.3 1574.7 760.1 1575.7 759.9 1576.7 759.6 1577.7 759.4 1578.6 759.2 1579.6 759.0 1580.6 758.8 1581.6 758.6 1582.5 758.4 1583.5 758.2 1584.5 757.9 1585.4 757.7 1586.4 757.5 1587.4 757.3 1588.4 757.1 1589.3 756.9 1590.3 756.7 1591.3 756.5 1592.3 756.3 1593.2 756.1 1594.2 755.9 1595.2 755.7 1596.2 755.5 1597.1 755.3 1598.1 755.0 1599.1 754.8 1600.1 754.6 1601.0 754.4 1602.0 754.2 1603.0 754.0 1604.0 753.8 1605.0 753.6 1605.9 753.4 1606.9 753.2 1607.9 753.0 1608.9 752.8 1609.8 752.6 1610.8 752.4 1611.8 752.2 1612.8 752.0 1613.8 751.8 1614.7 751.6 1615.7 751.5 1616.7 751.3 1617.7 751.1 1618.6 750.9 1619.6 750.7 1620.6 750.5 1621.6 750.3 1622.6 750.1 1623.5 749.9 1624.5 749.7 1625.5 749.5 1626.5 749.3 1627.5 749.1 1628.4 748.9 1629.4 748.8 1630.4 748.6 1631.4 748.4 1632.4 748.2 1633.3 748.0 1634.3 747.8 1635.3 747.6 1636.3 747.4 1637.3 747.3 1638.3 747.1 1639.2 746.9 1640.2 746.7 1641.2 746.5 1642.2 746.3 1643.2 746.1 1644.2 746.0 1645.1 745.8 1646.1 745.6 1647.1 745.4 1648.1 745.2 1649.1 745.1 1650.1 744.9 1651.0 744.7 1652.0 744.5 1653.0 744.3 1654.0 744.2 1655.0 744.0 1656.0 743.8 1657.0 743.6 1657.9 743.4 1658.9 743.3 1659.9 743.1 1660.9 742.9 1661.9 742.7 1662.9 742.6 1663.9 742.4 1664.9 742.2 1665.8 742.0 1666.8 741.9 1667.8 741.7 1668.8 741.5 1669.8 741.4 1670.8 741.2 1671.8 741.0 1672.8 740.9 1673.7 740.7 1674.7 740.5 1675.7 740.3 1676.7 740.2 1677.7 740.0 1678.7 739.8 1679.7 739.7 1680.7 739.5 1681.7 739.3 1682.7 739.2 1683.6 739.0 1684.6 738.8 1685.6 738.7 1686.6 738.5 1687.6 738.4 1688.6 738.2 1689.6 738.0 1690.6 737.9 1691.6 737.7 1692.6 737.5 1693.6 737.4 1694.6 737.2 1695.6 737.1 1696.5 736.9 1697.5 736.8 1698.5 736.6 1699.5 736.4 1700.5 736.3 1701.5 736.1 1702.5 736.0 1703.5 735.8 1704.5 735.7 1705.5 735.5" stroke="#000000"/>
<path d="M1032.4 1223.3h0M1032.8 1217.3h0M1033.2 1212.4h0M1033.6 1207.4h0M1033.9 1203.4h0M1034.3 1199.4h0M1034.7 1195.5h0M1035.1 1191.5h0M1035.4 1188.5h0M1035.7 1185.6h0M1036.2 1181.6h0M1036.6 1178.6h0M1036.9 1175.6h0M1037.3 1172.7h0M1037.7 1169.7L1037.8 1168.7 1038.0 1167.7 1038.1 1166.7 1038.2 1165.7 1038.4 1164.7 1038.5 1163.8 1038.7 1162.8 1038.8 1161.8 1038.9 1160.8 1039.1 1159.8 1039.2 1158.8 1039.4 1157.8 1039.5 1156.8 1039.7 1155.8 1039.8 1154.8 1040.0 1153.9 1040.1 1152.9 1040.3 1151.9 1040.4 1150.9 1040.6 1149.9 1040.8 1148.9 1040.9 1147.9 1041.1 1146.9 1041.2 1145.9 1041.4 1144.9 1041.6 1144.0 1041.7 1143.0 1041.9 1142.0 1042.1 1141.0 1042.2 1140.0 1042.4 1139.0 1042.6 1138.0 1042.7 1137.0 1042.9 1136.0 1043.1 1135.1 1043.3 1134.1 1043.4 1133.1 1043.6 1132.1 1043.8 1131.1 1044.0 1130.1 1044.1 1129.1 1044.3 1128.1 1044.5 1127.1 1044.7 1126.1 1044.9 1125.2 1045.1 1124.2 1045.2 1123.2 1045.4 1122.2 1045.6 1121.2 1045.8 1120.2 1046.0 1119.2 1046.2 1118.2 1046.4 1117.3 1046.6 1116.3 1046.8 1115.3 1047.0 1114.3 1047.2 1113.3 1047.4 1112.3 1047.6 1111.3 1047.8 1110.3 1048.0 1109.4 1048.2 1108.4 1048.4 1107.4 1048.6 1106.4 1048.9 1105.4 1049.1 1104.4 1049.3 1103.5 1049.5 1102.5 1049.7 1101.5 1050.0 1100.5 1050.2 1099.5 1050.4 1098.6 1050.7 1097.6 1050.9 1096.6 1051.1 1095.6 1051.4 1094.6 1051.6 1093.7 1051.8 1092.7 1052.1 1091.7 1052.3 1090.7 1052.6 1089.8 1052.8 1088.8 1053.1 1087.8 1053.3 1086.8 1053.6 1085.9 1053.9 1084.9 1054.1 1083.9 1054.4 1083.0 1054.7 1082.0 1054.9 1081.0 1055.2 1080.1 1055.5 1079.1 1055.8 1078.2 1056.1 1077.2 1056.3 1076.2 1056.6 1075.3 1056.9 1074.3 1057.2 1073.4 1057.5 1072.4 1057.8 1071.5 1058.1 1070.5 1058.4 1069.5 1058.7 1068.6 1059.1 1067.6 1059.4 1066.7 1059.7 1065.8 1060.0 1064.8 1060.3 1063.9 1060.7 1062.9 1061.0 1062.0 1061.3 1061.0 1061.7 1060.1 1062.0 1059.2 1062.4 1058.2 1062.7 1057.3 1063.1 1056.4 1063.4 1055.4 1063.8 1054.5 1064.2 1053.6 1064.5 1052.7 1064.9 1051.7 1065.3 1050.8 1065.7 1049.9 1066.1 1049.0 1066.4 1048.1 1066.8 1047.2 1067.2 1046.2 1067.6 1045.3 1068.0 1044.4 1068.5 1043.5 1068.9 1042.6 1069.3 1041.7 1069.7 1040.8 1070.1 1039.9 1070.5 1039.0 1071.0 1038.1 1071.4 1037.2 1071.9 1036.3 1072.3 1035.4 1072.7 1034.5 1073.2 1033.6 1073.6 1032.8 1074.1 1031.9 1074.6 1031.0 1075.0 1030.1 1075.5 1029.2 1076.0 1028.4 1076.4 1027.5 1076.9 1026.6 1077.4 1025.7 1077.9 1024.9 1078.4 1024.0 1078.9 1023.1 1079.3 1022.3 1079.8 1021.4 1080.3 1020.5 1080.9 1019.7 1081.4 1018.8 1081.9 1018.0 1082.4 1017.1 1082.9 1016.3 1083.4 1015.4 1083.9 1014.6 1084.5 1013.7 1085.0 1012.9 1085.5 1012.0 1086.1 1011.2 1086.6 1010.4 1087.2 1009.5 1087.7 1008.7 1088.3 1007.9 1088.8 1007.0 1089.4 1006.2 1089.9 1005.4 1090.5 1004.5 1091.1 1003.7 1091.6 1002.9 1092.2 1002.1 1092.8 1001.3 1093.4 1000.5 1093.9 999.6 1094.5 998.8 1095.1 998.0 1095.7 997.2 1096.3 996.4 1096.9 995.6 1097.5 994.8 1098.1 994.0 1098.7 993.2 1099.3 992.4 1099.9 991.6 1100.5 990.8 1101.1 990.0 1101.7 989.3 1102.4 988.5 1103.0 987.7 1103.6 986.9 1104.3 986.1 1104.9 985.3 1105.5 984.6 1106.2 983.8 1106.8 983.0 1107.4 982.3 1108.1 981.5 1108.7 980.7 1109.4 980.0 1110.0 979.2 1110.7 978.4 1111.4 977.7 1112.0 976.9 1112.7 976.2 1113.3 975.4 1114.0 974.7 1114.7 973.9 1115.4 973.2 1116.0 972.5 1116.7 971.7 1117.4 971.0 1118.1 970.2 1118.8 969.5 1119.4 968.8 1120.1 968.0 1120.8 967.3 1121.5 966.6 1122.2 965.9 1122.9 965.2 1123.6 964.4 1124.3 963.7 1125.0 963.0 1125.7 962.3 1126.5 961.6 1127.2 960.9 1127.9 960.2 1128.6 959.5 1129.3 958.8 1130.0 958.1 1130.8 957.4 1131.5 956.7 1132.2 956.0 1132.9 955.3 1133.7 954.6 1134.4 953.9 1135.2 953.2 1135.9 952.5 1136.6 951.9 1137.4 951.2 1138.1 950.5 1138.9 949.8 1139.6 949.2 1140.4 948.5 1141.1 947.8 1141.9 947.2 1142.6 946.5 1143.4 945.9 1144.1 945.2 1144.9 944.5 1145.7 943.9 1146.4 943.2 1147.2 942.6 1148.0 941.9 1148.7 941.3 1149.5 940.7 1150.3 940.0 1151.1 939.4 1151.8 938.8 1152.6 938.1 1153.4 937.5 1154.2 936.9 1155.0 936.2 1155.7 935.6 1156.5 935.0 1157.3 934.4 1158.1 933.8 1158.9 933.2 1159.7 932.5 1160.5 931.9 1161.3 931.3 1162.1 930.7 1162.9 930.1 1163.7 929.5 1164.5 928.9 1165.3 928.3 1166.1 927.7 1166.9 927.1 1167.7 926.6 1168.5 926.0 1169.3 925.4 1170.1 924.8 1171.0 924.2 1171.8 923.7 1172.6 923.1 1173.4 922.5 1174.2 921.9 1175.0 921.4 1175.9 920.8 1176.7 920.2 1177.5 919.7 1178.3 919.1 1179.2 918.6 1180.0 918.0 1180.8 917.5 1181.7 916.9 1182.5 916.4 1183.3 915.8 1184.2 915.3 1185.0 914.7 1185.8 914.2 1186.7 913.7 1187.5 913.1 1188.4 912.6 1189.2 912.1 1190.0 911.5 1190.9 911.0 1191.7 910.5 1192.6 910.0 1193.4 909.5 1194.3 908.9 1195.1 908.4 1196.0 907.9 1196.8 907.4 1197.7 906.9 1198.5 906.4 1199.4 905.9 1200.3 905.4 1201.1 904.9 1202.0 904.4 1202.8 903.9 1203.7 903.4 1204.6 902.9 1205.4 902.4 1206.3 901.9 1207.2 901.4 1208.0 900.9 1208.9 900.5 1209.8 900.0 1210.6 899.5 1211.5 899.0 1212.4 898.5 1213.3 898.1 1214.1 897.6 1215.0 897.1 1215.9 896.7 1216.8 896.2 1217.7 895.7 1218.5 895.3 1219.4 894.8 1220.3 894.3 1221.2 893.9 1222.1 893.4 1223.0 893.0 1223.9 892.5 1224.7 892.1 1225.6 891.6 1226.5 891.2 1227.4 890.7 1228.3 890.3 1229.2 889.8 1230.1 889.4 1231.0 889.0 1231.9 888.5 1232.8 888.1 1233.7 887.7 1234.6 887.2 1235.5 886.8 1236.4 886.4 1237.3 885.9 1238.2 885.5 1239.1 885.1 1240.0 884.7 1240.9 884.3 1241.8 883.8 1242.7 883.4 1243.6 883.0 1244.5 882.6 1245.4 882.2 1246.3 881.8 1247.2 881.4 1248.2 880.9 1249.1 880.5 1250.0 880.1 1250.9 879.7 1251.8 879.3 1252.7 878.9 1253.6 878.5 1254.6 878.1 1255.5 877.7 1256.4 877.3 1257.3 877.0 1258.2 876.6 1259.2 876.2 1260.1 875.8 1261.0 875.4 1261.9 875.0 1262.9 874.6 1263.8 874.2 1264.7 873.9 1265.6 873.5 1266.6 873.1 1267.5 872.7 1268.4 872.4 1269.3 872.0 1270.3 871.6 1271.2 871.2 1272.1 870.9 1273.1 870.5 1274.0 870.1 1274.9 869.8 1275.9 869.4 1276.8 869.0 1277.7 868.7 1278.7 868.3 1279.6 867.9 1280.5 867.6 1281.5 867.2 1282.4 866.9 1283.4 866.5 1284.3 866.2 1285.2 865.8 1286.2 865.5 1287.1 865.1 1288.1 864.8 1289.0 864.4 1289.9 864.1 1290.9 863.7 1291.8 863.4 1292.8 863.0 1293.7 862.7 1294.7 862.3 1295.6 862.0 1296.6 861.7 1297.5 861.3 1298.4 861.0 1299.4 860.7 1300.3 860.3 1301.3 860.0 1302.2 859.7 1303.2 859.3 1304.1 859.0 1305.1 858.7 1306.0 858.3 1307.0 858.0 1307.9 857.7 1308.9 857.4 1309.8 857.0 1310.8 856.7 1311.8 856.4 1312.7 856.1 1313.7 855.7 1314.6 855.4 1315.6 855.1 1316.5 854.8 1317.5 854.5 1318.4 854.1 1319.4 853.8 1320.3 853.5 1321.3 853.2 1322.3 852.9 1323.2 852.6 1324.2 852.3 1325.1 852.0 1326.1 851.6 1327.0 851.3 1328.0 851.0 1329.0 850.7 1329.9 850.4 1330.9 850.1 1331.8 849.8 1332.8 849.5 1333.8 849.2 1334.7 848.9 1335.7 848.6 1336.6 848.3 1337.6 848.0 1338.6 847.7 1339.5 847.4 1340.5 847.1 1341.5 846.8 1342.4 846.5 1343.4 846.2 1344.3 845.9 1345.3 845.6 1346.3 845.3 1347.2 845.0 1348.2 844.7 1349.2 844.5 1350.1 844.2 1351.1 843.9 1352.1 843.6 1353.0 843.3 1354.0 843.0 1354.9 842.7 1355.9 842.4 1356.9 842.1 1357.8 841.9 1358.8 841.6 1359.8 841.3 1360.7 841.0 1361.7 840.7 1362.7 840.4 1363.6 840.1 1364.6 839.9 1365.6 839.6 1366.5 839.3 1367.5 839.0 1368.5 838.7 1369.4 838.5 1370.4 838.2 1371.3 837.9 1372.3 837.6 1373.3 837.3 1374.2 837.1 1375.2 836.8 1376.2 836.5 1377.1 836.2 1378.1 835.9 1379.1 835.7 1380.0 835.4 1381.0 835.1 1382.0 834.8 1382.9 834.6 1383.9 834.3 1384.9 834.0 1385.8 833.8 1386.8 833.5 1387.8 833.2 1388.7 832.9 1389.7 832.7 1390.7 832.4 1391.6 832.1 1392.6 831.9 1393.5 831.6 1394.5 831.3 1395.5 831.0 1396.4 830.8 1397.4 830.5 1398.4 830.2 1399.3 830.0 1400.3 829.7 1401.3 829.4 1402.2 829.2 1403.2 828.9 1404.2 828.7 1405.1 828.4 1406.1 828.1 1407.1 827.9 1408.0 827.6 1409.0 827.3 1410.0 827.1 1410.9 826.8 1411.9 826.6 1412.9 826.3 1413.8 826.0 1414.8 825.8 1415.8 825.5 1416.7 825.3 1417.7 825.0 1418.7 824.7 1419.6 824.5 1420.6 824.2 1421.6 824.0 1422.5 823.7 1423.5 823.5 1424.5 823.2 1425.4 823.0 1426.4 822.7 1427.4 822.4 1428.3 822.2 1429.3 821.9 1430.3 821.7 1431.2 821.4 1432.2 821.2 1433.2 820.9 1434.1 820.7 1435.1 820.4 1436.1 820.2 1437.0 819.9 1438.0 819.7 1439.0 819.4 1439.9 819.2 1440.9 818.9 1441.9 818.7 1442.8 818.4 1443.8 818.2 1444.8 818.0 1445.8 817.7 1446.7 817.5 1447.7 817.2 1448.7 817.0 1449.6 816.7 1450.6 816.5 1451.6 816.2 1452.5 816.0 1453.5 815.8 1454.5 815.5 1455.4 815.3 1456.4 815.0 1457.4 814.8 1458.3 814.6 1459.3 814.3 1460.3 814.1 1461.2 813.8 1462.2 813.6 1463.2 813.4 1464.2 813.1 1465.1 812.9 1466.1 812.7 1467.1 812.4 1468.0 812.2 1469.0 812.0 1470.0 811.7 1470.9 811.5 1471.9 811.3 1472.9 811.0 1473.9 810.8 1474.8 810.6 1475.8 810.3 1476.8 810.1 1477.7 809.9 1478.7 809.6 1479.7 809.4 1480.6 809.2 1481.6 808.9 1482.6 808.7 1483.6 808.5 1484.5 808.3 1485.5 808.0 1486.5 807.8 1487.4 807.6 1488.4 807.3 1489.4 807.1 1490.3 806.9 1491.3 806.7 1492.3 806.4 1493.3 806.2 1494.2 806.0 1495.2 805.8 1496.2 805.6 1497.1 805.3 1498.1 805.1 1499.1 804.9 1500.1 804.7 1501.0 804.4 1502.0 804.2 1503.0 804.0 1503.9 803.8 1504.9 803.6 1505.9 803.4 1506.9 803.1 1507.8 802.9 1508.8 802.7 1509.8 802.5 1510.8 802.3 1511.7 802.0 1512.7 801.8 1513.7 801.6 1514.6 801.4 1515.6 801.2 1516.6 801.0 1517.6 800.8 1518.5 800.5 1519.5 800.3 1520.5 800.1 1521.5 799.9 1522.4 799.7 1523.4 799.5 1524.4 799.3 1525.4 799.1 1526.3 798.9 1527.3 798.7 1528.3 798.4 1529.2 798.2 1530.2 798.0 1531.2 797.8 1532.2 797.6 1533.1 797.4 1534.1 797.2 1535.1 797.0 1536.1 796.8 1537.0 796.6 1538.0 796.4 1539.0 796.2 1540.0 796.0 1540.9 795.8 1541.9 795.6 1542.9 795.4 1543.9 795.2 1544.8 795.0 1545.8 794.8 1546.8 794.6 1547.8 794.4 1548.8 794.2 1549.7 794.0 1550.7 793.8 1551.7 793.6 1552.7 793.4 1553.6 793.2 1554.6 793.0 1555.6 792.8 1556.6 792.6 1557.5 792.4 1558.5 792.2 1559.5 792.0 1560.5 791.8 1561.4 791.6 1562.4 791.4 1563.4 791.2 1564.4 791.0 1565.4 790.8 1566.3 790.6 1567.3 790.4 1568.3 790.2 1569.3 790.0 1570.3 789.9 1571.2 789.7 1572.2 789.5 1573.2 789.3 1574.2 789.1 1575.1 788.9 1576.1 788.7 1577.1 788.5 1578.1 788.3 1579.1 788.2 1580.0 788.0 1581.0 787.8 1582.0 787.6 1583.0 787.4 1584.0 787.2 1584.9 787.0 1585.9 786.8 1586.9 786.7 1587.9 786.5 1588.9 786.3 1589.8 786.1 1590.8 785.9 1591.8 785.8 1592.8 785.6 1593.8 785.4 1594.7 785.2 1595.7 785.0 1596.7 784.8 1597.7 784.7 1598.7 784.5 1599.7 784.3 1600.6 784.1 1601.6 783.9 1602.6 783.8 1603.6 783.6 1604.6 783.4 1605.5 783.2 1606.5 783.1 1607.5 782.9 1608.5 782.7 1609.5 782.5 1610.5 782.4 1611.4 782.2 1612.4 782.0 1613.4 781.8 1614.4 781.7 1615.4 781.5 1616.4 781.3 1617.3 781.2 1618.3 781.0 1619.3 780.8 1620.3 780.6 1621.3 780.5 1622.3 780.3 1623.3 780.1 1624.2 780.0 1625.2 779.8 1626.2 779.6 1627.2 779.5 1628.2 779.3 1629.2 779.1 1630.2 779.0 1631.1 778.8 1632.1 778.6 1633.1 778.5 1634.1 778.3 1635.1 778.1 1636.1 778.0 1637.1 777.8 1638.0 777.6 1639.0 777.5 1640.0 777.3 1641.0 777.1 1642.0 777.0 1643.0 776.8 1644.0 776.7 1645.0 776.5 1645.9 776.3 1646.9 776.2 1647.9 776.0 1648.9 775.9 1649.9 775.7 1650.9 775.5 1651.9 775.4 1652.9 775.2 1653.9 775.1 1654.8 774.9 1655.8 774.8 1656.8 774.6 1657.8 774.4 1658.8 774.3 1659.8 774.1 1660.8 774.0 1661.8 773.8 1662.8 773.7 1663.8 773.5 1664.7 773.4 1665.7 773.2 1666.7 773.1 1667.7 772.9 1668.7 772.7 1669.7 772.6 1670.7 772.4 1671.7 772.3 1672.7 772.1 1673.7 772.0 1674.7 771.8 1675.7 771.7 1676.6 771.5 1677.6 771.4 1678.6 771.3 1679.6 771.1 1680.6 771.0 1681.6 770.8 1682.6 770.7 1683.6 770.5 1684.6 770.4 1685.6 770.2 1686.6 770.1 1687.6 769.9 1688.6 769.8 1689.6 769.6 1690.6 769.5 1691.6 769.4 1692.5 769.2 1693.5 769.1 1694.5 768.9 1695.5 768.8 1696.5 768.7 1697.5 768.5 1698.5 768.4 1699.5 768.2 1700.5 768.1 1701.5 768.0 1702.5 767.8 1703.5 767.7 1704.5 767.5 1705.5 767.4" stroke="#0000ff"/>
<path d="M1032.4 1223.3h0M1032.8 1216.3h0M1033.2 1210.3h0M1033.5 1205.4h0M1033.9 1200.4h0M1034.2 1196.4h0M1034.7 1191.4h0M1035.1 1187.5h0M1035.4 1184.5h0M1035.8 1180.5h0M1036.2 1176.5h0M1036.5 1173.5h0M1036.9 1170.6h0M1037.2 1167.6h0M1037.6 1164.6h0M1038.0 1161.6h0M1038.3 1158.6h0M1038.7 1155.7h0M1039.1 1152.7L1039.3 1151.7 1039.4 1150.7 1039.6 1149.7 1039.7 1148.7 1039.9 1147.7 1040.0 1146.7 1040.2 1145.7 1040.3 1144.8 1040.5 1143.8 1040.6 1142.8 1040.8 1141.8 1040.9 1140.8 1041.1 1139.8 1041.2 1138.8 1041.4 1137.8 1041.6 1136.8 1041.7 1135.9 1041.9 1134.9 1042.1 1133.9 1042.2 1132.9 1042.4 1131.9 1042.6 1130.9 1042.8 1129.9 1043.0 1129.0 1043.1 1128.0 1043.3 1127.0 1043.5 1126.0 1043.7 1125.0 1043.9 1124.0 1044.1 1123.1 1044.3 1122.1 1044.5 1121.1 1044.7 1120.1 1044.9 1119.1 1045.1 1118.2 1045.3 1117.2 1045.5 1116.2 1045.7 1115.2 1045.9 1114.2 1046.1 1113.3 1046.3 1112.3 1046.6 1111.3 1046.8 1110.3 1047.0 1109.4 1047.2 1108.4 1047.4 1107.4 1047.7 1106.4 1047.9 1105.5 1048.1 1104.5 1048.4 1103.5 1048.6 1102.5 1048.9 1101.6 1049.1 1100.6 1049.4 1099.6 1049.6 1098.7 1049.9 1097.7 1050.1 1096.7 1050.4 1095.8 1050.6 1094.8 1050.9 1093.8 1051.2 1092.9 1051.4 1091.9 1051.7 1090.9 1052.0 1090.0 1052.3 1089.0 1052.5 1088.1 1052.8 1087.1 1053.1 1086.1 1053.4 1085.2 1053.7 1084.2 1054.0 1083.3 1054.3 1082.3 1054.6 1081.3 1054.9 1080.4 1055.2 1079.4 1055.5 1078.5 1055.8 1077.5 1056.1 1076.6 1056.5 1075.6 1056.8 1074.7 1057.1 1073.7 1057.4 1072.8 1057.8 1071.8 1058.1 1070.9 1058.4 1070.0 1058.8 1069.0 1059.1 1068.1 1059.5 1067.1 1059.8 1066.2 1060.2 1065.3 1060.6 1064.3 1060.9 1063.4 1061.3 1062.5 1061.7 1061.5 1062.0 1060.6 1062.4 1059.7 1062.8 1058.8 1063.2 1057.9 1063.6 1056.9 1064.0 1056.0 1064.4 1055.1 1064.8 1054.2 1065.2 1053.3 1065.6 1052.4 1066.0 1051.4 1066.4 1050.5 1066.9 1049.6 1067.3 1048.7 1067.7 1047.8 1068.2 1046.9 1068.6 1046.0 1069.0 1045.1 1069.5 1044.2 1070.0 1043.3 1070.4 1042.5 1070.9 1041.6 1071.3 1040.7 1071.8 1039.8 1072.3 1038.9 1072.8 1038.0 1073.2 1037.2 1073.7 1036.3 1074.2 1035.4 1074.7 1034.5 1075.2 1033.7 1075.7 1032.8 1076.2 1031.9 1076.7 1031.1 1077.2 1030.2 1077.7 1029.4 1078.2 1028.5 1078.8 1027.7 1079.3 1026.8 1079.8 1026.0 1080.3 1025.1 1080.9 1024.3 1081.4 1023.5 1082.0 1022.6 1082.5 1021.8 1083.1 1021.0 1083.6 1020.1 1084.2 1019.3 1084.7 1018.5 1085.3 1017.7 1085.9 1016.8 1086.4 1016.0 1087.0 1015.2 1087.6 1014.4 1088.2 1013.6 1088.7 1012.8 1089.3 1012.0 1089.9 1011.2 1090.5 1010.4 1091.1 1009.6 1091.7 1008.8 1092.3 1008.0 1092.9 1007.3 1093.5 1006.5 1094.1 1005.7 1094.8 1004.9 1095.4 1004.1 1096.0 1003.4 1096.6 1002.6 1097.3 1001.8 1097.9 1001.1 1098.5 1000.3 1099.2 999.5 1099.8 998.8 1100.4 998.0 1101.1 997.3 1101.7 996.5 1102.4 995.8 1103.0 995.0 1103.7 994.3 1104.4 993.6 1105.0 992.8 1105.7 992.1 1106.4 991.4 1107.0 990.6 1107.7 989.9 1108.4 989.2 1109.1 988.5 1109.8 987.7 1110.4 987.0 1111.1 986.3 1111.8 985.6 1112.5 984.9 1113.2 984.2 1113.9 983.5 1114.6 982.8 1115.3 982.1 1116.0 981.4 1116.8 980.7 1117.5 980.0 1118.2 979.3 1118.9 978.6 1119.6 977.9 1120.3 977.2 1121.1 976.6 1121.8 975.9 1122.5 975.2 1123.3 974.5 1124.0 973.9 1124.7 973.2 1125.5 972.5 1126.2 971.9 1127.0 971.2 1127.7 970.5 1128.5 969.9 1129.2 969.2 1130.0 968.6 1130.7 967.9 1131.5 967.3 1132.3 966.6 1133.0 966.0 1133.8 965.4 1134.6 964.7 1135.3 964.1 1136.1 963.4 1136.9 962.8 1137.7 962.2 1138.5 961.6 1139.2 960.9 1140.0 960.3 1140.8 959.7 1141.6 959.1 1142.4 958.5 1143.2 957.9 1144.0 957.2 1144.8 956.6 1145.6 956.0 1146.4 955.4 1147.2 954.8 1148.0 954.2 1148.8 953.6 1149.6 953.0 1150.4 952.4 1151.2 951.9 1152.0 951.3 1152.9 950.7 1153.7 950.1 1154.5 949.5 1155.3 948.9 1156.1 948.4 1157.0 947.8 1157.8 947.2 1158.6 946.6 1159.5 946.1 1160.3 945.5 1161.1 944.9 1162.0 944.4 1162.8 943.8 1163.6 943.3 1164.5 942.7 1165.3 942.2 1166.2 941.6 1167.0 941.1 1167.9 940.5 1168.7 940.0 1169.6 939.4 1170.4 938.9 1171.3 938.3 1172.1 937.8 1173.0 937.3 1173.9 936.7 1174.7 936.2 1175.6 935.7 1176.4 935.2 1177.3 934.6 1178.2 934.1 1179.0 933.6 1179.9 933.1 1180.8 932.6 1181.7 932.1 1182.5 931.5 1183.4 931.0 1184.3 930.5 1185.2 930.0 1186.0 929.5 1186.9 929.0 1187.8 928.5 1188.7 928.0 1189.6 927.5 1190.4 927.0 1191.3 926.6 1192.2 926.1 1193.1 925.6 1194.0 925.1 1194.9 924.6 1195.8 924.1 1196.7 923.7 1197.6 923.2 1198.5 922.7 1199.4 922.2 1200.3 921.8 1201.2 921.3 1202.1 920.8 1203.0 920.4 1203.9 919.9 1204.8 919.4 1205.7 919.0 1206.6 918.5 1207.5 918.1 1208.4 917.6 1209.3 917.2 1210.2 916.7 1211.1 916.3 1212.0 915.8 1212.9 915.4 1213.8 914.9 1214.7 914.5 1215.6 914.1 1216.6 913.6 1217.5 913.2 1218.4 912.8 1219.3 912.3 1220.2 911.9 1221.1 911.5 1222.0 911.1 1223.0 910.6 1223.9 910.2 1224.8 909.8 1225.7 909.4 1226.6 909.0 1227.6 908.6 1228.5 908.1 1229.4 907.7 1230.3 907.3 1231.2 906.9 1232.2 906.5 1233.1 906.1 1234.0 905.7 1234.9 905.3 1235.9 904.9 1236.8 904.5 1237.7 904.1 1238.6 903.7 1239.6 903.4 1240.5 903.0 1241.4 902.6 1242.4 902.2 1243.3 901.8 1244.2 901.4 1245.1 901.1 1246.1 900.7 1247.0 900.3 1247.9 899.9 1248.9 899.6 1249.8 899.2 1250.7 898.8 1251.7 898.4 1252.6 898.1 1253.5 897.7 1254.5 897.4 1255.4 897.0 1256.3 896.6 1257.3 896.3 1258.2 895.9 1259.1 895.6 1260.1 895.2 1261.0 894.9 1261.9 894.5 1262.9 894.2 1263.8 893.8 1264.7 893.5 1265.7 893.1 1266.6 892.8 1267.6 892.4 1268.5 892.1 1269.4 891.8 1270.4 891.4 1271.3 891.1 1272.3 890.7 1273.2 890.4 1274.1 890.1 1275.1 889.8 1276.0 889.4 1277.0 889.1 1277.9 888.8 1278.9 888.4 1279.8 888.1 1280.7 887.8 1281.7 887.5 1282.6 887.2 1283.6 886.8 1284.5 886.5 1285.5 886.2 1286.4 885.9 1287.4 885.6 1288.3 885.3 1289.3 885.0 1290.2 884.6 1291.1 884.3 1292.1 884.0 1293.0 883.7 1294.0 883.4 1294.9 883.1 1295.9 882.8 1296.8 882.5 1297.8 882.2 1298.7 881.9 1299.7 881.6 1300.6 881.3 1301.6 881.0 1302.5 880.7 1303.5 880.4 1304.4 880.1 1305.4 879.8 1306.3 879.5 1307.3 879.2 1308.3 879.0 1309.2 878.7 1310.2 878.4 1311.1 878.1 1312.1 877.8 1313.0 877.5 1314.0 877.2 1314.9 877.0 1315.9 876.7 1316.8 876.4 1317.8 876.1 1318.8 875.8 1319.7 875.6 1320.7 875.3 1321.6 875.0 1322.6 874.7 1323.5 874.5 1324.5 874.2 1325.5 873.9 1326.4 873.6 1327.4 873.4 1328.3 873.1 1329.3 872.8 1330.2 872.5 1331.2 872.3 1332.2 872.0 1333.1 871.7 1334.1 871.5 1335.0 871.2 1336.0 870.9 1337.0 870.7 1337.9 870.4 1338.9 870.2 1339.8 869.9 1340.8 869.6 1341.8 869.4 1342.7 869.1 1343.7 868.9 1344.6 868.6 1345.6 868.3 1346.6 868.1 1347.5 867.8 1348.5 867.6 1349.5 867.3 1350.4 867.0 1351.4 866.8 1352.4 866.5 1353.3 866.3 1354.3 866.0 1355.2 865.8 1356.2 865.5 1357.2 865.3 1358.1 865.0 1359.1 864.8 1360.1 864.5 1361.0 864.3 1362.0 864.0 1363.0 863.8 1363.9 863.5 1364.9 863.3 1365.9 863.0 1366.8 862.8 1367.8 862.5 1368.8 862.3 1369.7 862.0 1370.7 861.8 1371.7 861.5 1372.6 861.3 1373.6 861.0 1374.6 860.8 1375.5 860.6 1376.5 860.3 1377.5 860.1 1378.4 859.8 1379.4 859.6 1380.4 859.3 1381.3 859.1 1382.3 858.9 1383.3 858.6 1384.2 858.4 1385.2 858.1 1386.2 857.9 1387.1 857.6 1388.1 857.4 1389.1 857.2 1390.0 856.9 1391.0 856.7 1392.0 856.4 1392.9 856.2 1393.9 856.0 1394.9 855.7 1395.9 855.5 1396.8 855.3 1397.8 855.0 1398.8 854.8 1399.7 854.6 1400.7 854.3 1401.7 854.1 1402.7 853.8 1403.6 853.6 1404.6 853.4 1405.6 853.1 1406.5 852.9 1407.5 852.7 1408.5 852.4 1409.4 852.2 1410.4 852.0 1411.4 851.7 1412.4 851.5 1413.3 851.3 1414.3 851.1 1415.3 850.8 1416.3 850.6 1417.2 850.4 1418.2 850.1 1419.2 849.9 1420.1 849.7 1421.1 849.4 1422.1 849.2 1423.1 849.0 1424.0 848.8 1425.0 848.5 1426.0 848.3 1427.0 848.1 1427.9 847.9 1428.9 847.6 1429.9 847.4 1430.9 847.2 1431.8 847.0 1432.8 846.7 1433.8 846.5 1434.8 846.3 1435.7 846.1 1436.7 845.8 1437.7 845.6 1438.7 845.4 1439.6 845.2 1440.6 845.0 1441.6 844.7 1442.6 844.5 1443.5 844.3 1444.5 844.1 1445.5 843.9 1446.5 843.6 1447.4 843.4 1448.4 843.2 1449.4 843.0 1450.4 842.8 1451.3 842.6 1452.3 842.3 1453.3 842.1 1454.3 841.9 1455.2 841.7 1456.2 841.5 1457.2 841.3 1458.2 841.0 1459.2 840.8 1460.1 840.6 1461.1 840.4 1462.1 840.2 1463.1 840.0 1464.0 839.8 1465.0 839.5 1466.0 839.3 1467.0 839.1 1468.0 838.9 1468.9 838.7 1469.9 838.5 1470.9 838.3 1471.9 838.1 1472.8 837.9 1473.8 837.7 1474.8 837.4 1475.8 837.2 1476.8 837.0 1477.7 836.8 1478.7 836.6 1479.7 836.4 1480.7 836.2 1481.7 836.0 1482.6 835.8 1483.6 835.6 1484.6 835.4 1485.6 835.2 1486.6 835.0 1487.5 834.8 1488.5 834.6 1489.5 834.4 1490.5 834.2 1491.5 834.0 1492.4 833.8 1493.4 833.5 1494.4 833.3 1495.4 833.1 1496.4 832.9 1497.3 832.7 1498.3 832.5 1499.3 832.3 1500.3 832.1 1501.3 831.9 1502.2 831.7 1503.2 831.5 1504.2 831.4 1505.2 831.2 1506.2 831.0 1507.2 830.8 1508.1 830.6 1509.1 830.4 1510.1 830.2 1511.1 830.0 1512.1 829.8 1513.0 829.6 1514.0 829.4 1515.0 829.2 1516.0 829.0 1517.0 828.8 1518.0 828.6 1518.9 828.4 1519.9 828.2 1520.9 828.0 1521.9 827.8 1522.9 827.7 1523.9 827.5 1524.8 827.3 1525.8 827.1 1526.8 826.9 1527.8 826.7 1528.8 826.5 1529.8 826.3 1530.7 826.1 1531.7 825.9 1532.7 825.8 1533.7 825.6 1534.7 825.4 1535.7 825.2 1536.6 825.0 1537.6 824.8 1538.6 824.6 1539.6 824.5 1540.6 824.3 1541.6 824.1 1542.5 823.9 1543.5 823.7 1544.5 823.5 1545.5 823.4 1546.5 823.2 1547.5 823.0 1548.5 822.8 1549.4 822.6 1550.4 822.4 1551.4 822.3 1552.4 822.1 1553.4 821.9 1554.4 821.7 1555.3 821.5 1556.3 821.4 1557.3 821.2 1558.3 821.0 1559.3 820.8 1560.3 820.6 1561.3 820.5 1562.2 820.3 1563.2 820.1 1564.2 819.9 1565.2 819.8 1566.2 819.6 1567.2 819.4 1568.2 819.2 1569.1 819.1 1570.1 818.9 1571.1 818.7 1572.1 818.5 1573.1 818.4 1574.1 818.2 1575.1 818.0 1576.0 817.8 1577.0 817.7 1578.0 817.5 1579.0 817.3 1580.0 817.2 1581.0 817.0 1582.0 816.8 1583.0 816.7 1583.9 816.5 1584.9 816.3 1585.9 816.1 1586.9 816.0 1587.9 815.8 1588.9 815.6 1589.9 815.5 1590.8 815.3 1591.8 815.1 1592.8 815.0 1593.8 814.8 1594.8 814.6 1595.8 814.5 1596.8 814.3 1597.8 814.1 1598.7 814.0 1599.7 813.8 1600.7 813.7 1601.7 813.5 1602.7 813.3 1603.7 813.2 1604.7 813.0 1605.7 812.8 1606.6 812.7 1607.6 812.5 1608.6 812.4 1609.6 812.2 1610.6 812.0 1611.6 811.9 1612.6 811.7 1613.6 811.6 1614.5 811.4 1615.5 811.2 1616.5 811.1 1617.5 810.9 1618.5 810.8 1619.5 810.6 1620.5 810.5 1621.5 810.3 1622.4 810.1 1623.4 810.0 1624.4 809.8 1625.4 809.7 1626.4 809.5 1627.4 809.4 1628.4 809.2 1629.4 809.1 1630.4 808.9 1631.3 808.8 1632.3 808.6 1633.3 808.5 1634.3 808.3 1635.3 808.1 1636.3 808.0 1637.3 807.8 1638.3 807.7 1639.2 807.5 1640.2 807.4 1641.2 807.2 1642.2 807.1 1643.2 807.0 1644.2 806.8 1645.2 806.7 1646.2 806.5 1647.2 806.4 1648.1 806.2 1649.1 806.1 1650.1 805.9 1651.1 805.8 1652.1 805.6 1653.1 805.5 1654.1 805.3 1655.1 805.2 1656.1 805.1 1657.0 804.9 1658.0 804.8 1659.0 804.6 1660.0 804.5 1661.0 804.3 1662.0 804.2 1663.0 804.1 1664.0 803.9 1665.0 803.8 1665.9 803.6 1666.9 803.5 1667.9 803.4 1668.9 803.2 1669.9 803.1 1670.9 802.9 1671.9 802.8 1672.9 802.7 1673.9 802.5 1674.8 802.4 1675.8 802.2 1676.8 802.1 1677.8 802.0 1678.8 801.8 1679.8 801.7 1680.8 801.6 1681.8 801.4 1682.8 801.3 1683.7 801.2 1684.7 801.0 1685.7 800.9 1686.7 800.8 1687.7 800.6 1688.7 800.5 1689.7 800.4 1690.7 800.2 1691.7 800.1 1692.6 800.0 1693.6 799.8 1694.6 799.7 1695.6 799.6 1696.6 799.5 1697.6 799.3 1698.6 799.2 1699.6 799.1 1700.6 798.9 1701.5 798.8 1702.5 798.7 1703.5 798.6 1704.5 798.4 1705.5 798.3" stroke="#00ff00"/>
</g>
<path d="M1029.00 1223.30v-6.8M1029.00 688.70v6.8M1096.65 1223.30v-6.8M1096.65 688.70v6.8M1164.30 1223.30v-6.8M1164.30 688.70v6.8M1231.95 1223.30v-6.8M1231.95 688.70v6.8M1299.60 1223.30v-6.8M1299.60 688.70v6.8M1367.25 1223.30v-6.8M1367.25 688.70v6.8M1434.90 1223.30v-6.8M1434.90 688.70v6.8M1502.55 1223.30v-6.8M1502.55 688.70v6.8M1570.20 1223.30v-6.8M1570.20 688.70v6.8M1637.85 1223.30v-6.8M1637.85 688.70v6.8M1705.50 1223.30v-6.8M1705.50 688.70v6.8M1029.00 1223.30h6.8M1705.50 1223.30h-6.8M1029.00 1156.47h6.8M1705.50 1156.47h-6.8M1029.00 1089.65h6.8M1705.50 1089.65h-6.8M1029.00 1022.83h6.8M1705.50 1022.83h-6.8M1029.00 956.00h6.8M1705.50 956.00h-6.8M1029.00 889.17h6.8M1705.50 889.17h-6.8M1029.00 822.35h6.8M1705.50 822.35h-6.8M1029.00 755.53h6.8M1705.50 755.53h-6.8M1029.00 688.70h6.8M1705.50 688.70h-6.8" stroke="#262626" stroke-width="1.05" fill="none"/>
<rect x="1029.00" y="688.70" width="676.50" height="534.60" stroke="#262626" stroke-width="1.05" fill="none"/>
<g font-size="21" fill="#262626"><text transform="translate(1029.00 1253.90) scale(1 1.04)" text-anchor="middle">0</text><text transform="translate(1096.65 1253.90) scale(1 1.04)" text-anchor="middle">2</text><text transform="translate(1164.30 1253.90) scale(1 1.04)" text-anchor="middle">4</text><text transform="translate(1231.95 1253.90) scale(1 1.04)" text-anchor="middle">6</text><text transform="translate(1299.60 1253.90) scale(1 1.04)" text-anchor="middle">8</text><text transform="translate(1367.25 1253.90) scale(1 1.04)" text-anchor="middle">10</text><text transform="translate(1434.90 1253.90) scale(1 1.04)" text-anchor="middle">12</text><text transform="translate(1502.55 1253.90) scale(1 1.04)" text-anchor="middle">14</text><text transform="translate(1570.20 1253.90) scale(1 1.04)" text-anchor="middle">16</text><text transform="translate(1637.85 1253.90) scale(1 1.04)" text-anchor="middle">18</text><text transform="translate(1705.50 1253.90) scale(1 1.04)" text-anchor="middle">20</text><text transform="translate(1020.30 1231.70) scale(1 1.04)" text-anchor="end">0</text><text transform="translate(1020.30 1164.88) scale(1 1.04)" text-anchor="end">0.05</text><text transform="translate(1020.30 1098.05) scale(1 1.04)" text-anchor="end">0.1</text><text transform="translate(1020.30 1031.23) scale(1 1.04)" text-anchor="end">0.15</text><text transform="translate(1020.30 964.40) scale(1 1.04)" text-anchor="end">0.2</text><text transform="translate(1020.30 897.57) scale(1 1.04)" text-anchor="end">0.25</text><text transform="translate(1020.30 830.75) scale(1 1.04)" text-anchor="end">0.3</text><text transform="translate(1020.30 763.93) scale(1 1.04)" text-anchor="end">0.35</text><text transform="translate(1020.30 697.10) scale(1 1.04)" text-anchor="end">0.4</text></g>
<text transform="translate(1367.25 1283.60) scale(1 1.04)" text-anchor="middle" font-size="23.1" fill="#262626">Time</text>
<text transform="translate(967.3 956.0) rotate(-90) scale(1 1.04)" text-anchor="middle" font-size="23.1" fill="#262626">R(t)</text>
<text transform="translate(1367.45 677.60) scale(1 1.01)" text-anchor="middle" font-size="22.3" font-weight="bold" letter-spacing="0.4" fill="#000">Proposed Method</text>
<rect x="1529.70" y="821.70" width="140.30" height="106.90" fill="#fff" stroke="#262626" stroke-width="1.05"/>
<circle cx="1567.0" cy="837.1" r="2.6" fill="#ff0000"/>
<text transform="translate(1602.60 845.10) scale(1 1.04)" font-size="18.5" fill="#000"><tspan font-family="'Liberation Serif', serif" font-style="italic" font-size="17.945">ω</tspan><tspan dx="-0.3">=1.0</tspan></text>
<circle cx="1567.0" cy="862.6" r="2.6" fill="#000000"/>
<text transform="translate(1602.60 870.65) scale(1 1.04)" font-size="18.5" fill="#000"><tspan font-family="'Liberation Serif', serif" font-style="italic" font-size="17.945">ω</tspan><tspan dx="-0.3">=0.95</tspan></text>
<circle cx="1567.0" cy="888.2" r="2.6" fill="#0000ff"/>
<text transform="translate(1602.60 896.20) scale(1 1.04)" font-size="18.5" fill="#000"><tspan font-family="'Liberation Serif', serif" font-style="italic" font-size="17.945">ω</tspan><tspan dx="-0.3">=0.90</tspan></text>
<circle cx="1567.0" cy="913.8" r="2.6" fill="#00ff00"/>
<text transform="translate(1602.60 921.75) scale(1 1.04)" font-size="18.5" fill="#000"><tspan font-family="'Liberation Serif', serif" font-style="italic" font-size="17.945">ω</tspan><tspan dx="-0.3">=0.85</tspan></text>
</svg>
</body></html>
